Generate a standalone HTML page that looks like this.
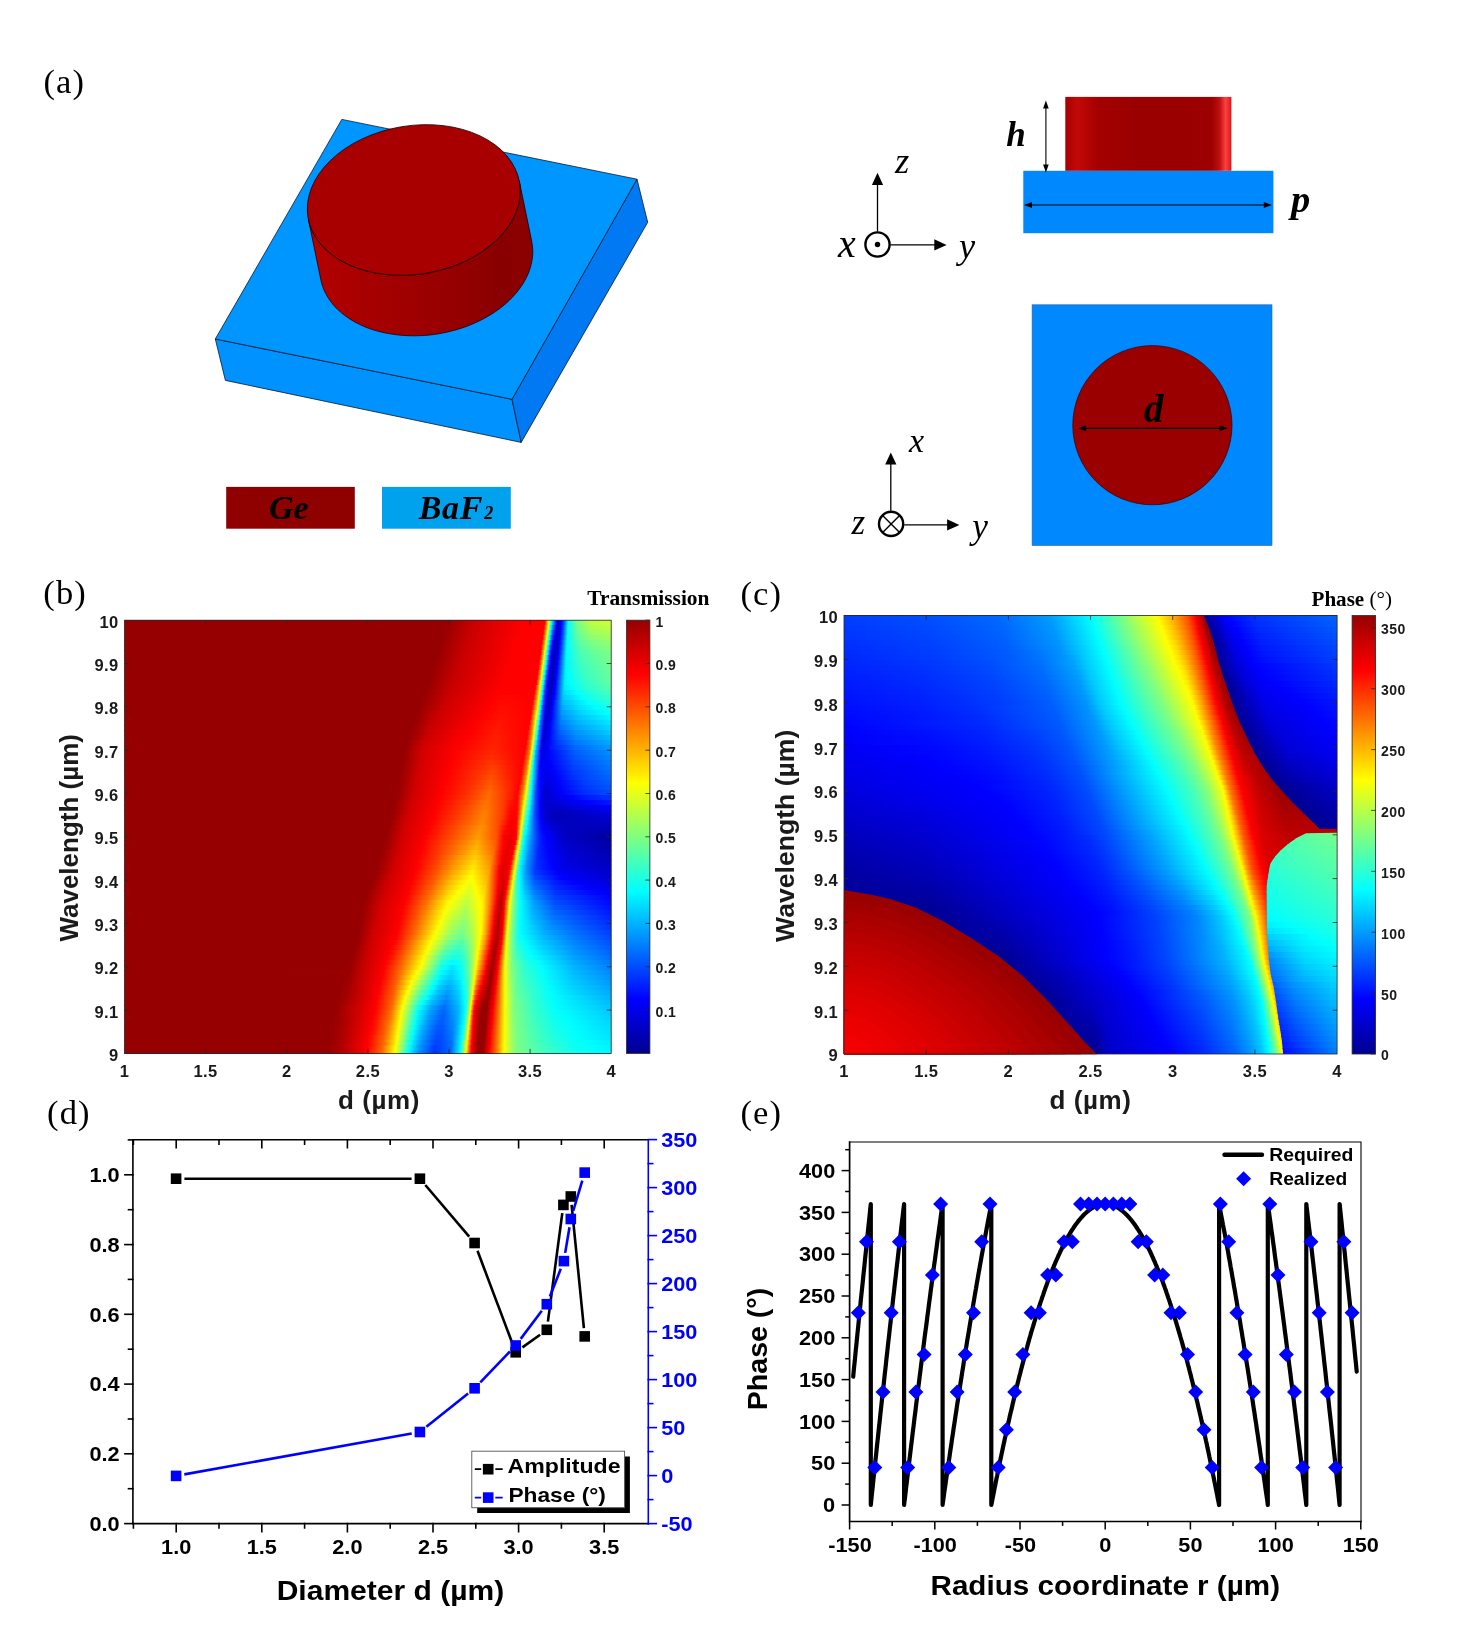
<!DOCTYPE html><html><head><meta charset="utf-8"><title>Figure</title><style>html,body{margin:0;padding:0;background:#fff}svg{display:block;will-change:transform}</style></head><body><svg width="1472" height="1647" viewBox="0 0 1472 1647"><rect width="1472" height="1647" fill="#fff"/><defs><linearGradient id="cylside" gradientUnits="userSpaceOnUse" x1="306" x2="534" y1="0" y2="0"><stop offset="0" stop-color="#b40000"/><stop offset="0.25" stop-color="#a80000"/><stop offset="0.6" stop-color="#980000"/><stop offset="0.85" stop-color="#890000"/><stop offset="1" stop-color="#8c0000"/></linearGradient><linearGradient id="sidered" gradientUnits="userSpaceOnUse" x1="1065.3" x2="1231.4" y1="0" y2="0"><stop offset="0" stop-color="#a40000"/><stop offset="0.07" stop-color="#c40808"/><stop offset="0.2" stop-color="#a40000"/><stop offset="0.45" stop-color="#9a0000"/><stop offset="0.88" stop-color="#9c0000"/><stop offset="0.93" stop-color="#c01010"/><stop offset="0.965" stop-color="#ff4040"/><stop offset="1" stop-color="#d81818"/></linearGradient></defs><polygon points="215.3,339 512,399.3 521.2,442.4 225.4,380.4" fill="#0093ff" stroke="#101828" stroke-width="0.8" stroke-linejoin="round"/><polygon points="512,399.3 637,179.2 647.7,222.3 521.2,442.4" fill="#0079f2" stroke="#101828" stroke-width="0.8" stroke-linejoin="round"/><polygon points="341.8,119.4 637,179.2 512,399.3 215.3,339" fill="#0096ff" stroke="#101828" stroke-width="0.8" stroke-linejoin="round"/><polygon points="519.2,180.6 531.7,241.1 532.4,245.7 532.8,250.4 532.7,255.1 532.1,259.8 531.2,264.5 529.8,269.2 528.1,273.9 525.9,278.5 523.4,283.1 520.4,287.6 517.1,291.9 513.4,296.2 509.4,300.3 505.1,304.2 500.4,308 495.5,311.6 490.3,314.9 484.8,318.1 479.1,321 473.2,323.7 467.1,326.2 460.8,328.4 454.4,330.3 447.9,331.9 441.3,333.3 434.7,334.4 428,335.2 421.3,335.6 414.7,335.8 408,335.7 401.5,335.3 395,334.6 388.7,333.6 382.5,332.4 376.5,330.8 370.7,329 365.1,326.9 359.8,324.5 354.7,321.9 349.9,319 345.4,315.9 341.2,312.6 337.3,309.1 333.8,305.4 330.7,301.5 327.9,297.4 325.6,293.2 323.6,288.9 322,284.5 320.9,279.9 308.4,219.4 308.4,219.4 309.5,224 311.1,228.4 313.1,232.7 315.4,236.9 318.2,241 321.3,244.9 324.8,248.6 328.7,252.1 332.9,255.4 337.4,258.5 342.2,261.4 347.3,264 352.6,266.4 358.2,268.5 364,270.3 370,271.9 376.2,273.1 382.5,274.1 389,274.8 395.5,275.2 402.2,275.3 408.8,275.1 415.5,274.7 422.2,273.9 428.8,272.8 435.4,271.4 441.9,269.8 448.3,267.9 454.6,265.7 460.7,263.2 466.6,260.5 472.3,257.6 477.8,254.4 483,251.1 487.9,247.5 492.6,243.7 496.9,239.8 500.9,235.7 504.6,231.4 507.9,227.1 510.9,222.6 513.4,218 515.6,213.4 517.3,208.7 518.7,204 519.6,199.3 520.2,194.6 520.3,189.9 519.9,185.2 519.2,180.6" fill="url(#cylside)" stroke="#200000" stroke-width="0.8" stroke-linejoin="round"/><ellipse cx="413.8" cy="200.0" rx="107.2" ry="74.3" transform="rotate(-9.3 413.8 200.0)" fill="#a80000" stroke="#200000" stroke-width="0.8"/><rect x="226.2" y="486.9" width="128.6" height="41.8" fill="#8f0000"/><rect x="382" y="486.9" width="128.8" height="41.8" fill="#00a2ee"/><text x="269" y="519.4" font-family="'Liberation Serif',serif" font-weight="bold" font-style="italic" font-size="34">Ge</text><text x="418.7" y="519.4" font-family="'Liberation Serif',serif" font-weight="bold" font-style="italic" font-size="34" letter-spacing="0.7">BaF<tspan font-size="18" dx="1.2">2</tspan></text><rect x="1023.3" y="170.8" width="250.1" height="62.4" fill="#0088ff"/><rect x="1065.3" y="96.9" width="166.1" height="73.9" fill="url(#sidered)"/><g fill="#000" stroke="none"><line x1="1045.9" y1="104" x2="1045.9" y2="169" stroke="#000" stroke-width="1.1"/><polygon points="1045.9,100.6 1048.7,108.6 1043.1,108.6"/><polygon points="1045.9,172.6 1043.1,164.6 1048.7,164.6"/><line x1="1028" y1="205" x2="1268" y2="205" stroke="#000" stroke-width="1.2"/><polygon points="1024,205 1032,202 1032,208"/><polygon points="1271.8,205 1263.8,208 1263.8,202"/></g><text x="1006.3" y="145.6" font-family="'Liberation Serif',serif" font-weight="bold" font-style="italic" font-size="35">h</text><text x="1290.9" y="212.4" font-family="'Liberation Serif',serif" font-weight="bold" font-style="italic" font-size="38.5">p</text><rect x="1032.1" y="304.8" width="239.9" height="240.7" fill="#0088ff" stroke="#3060a0" stroke-width="0.6"/><circle cx="1152.4" cy="425.2" r="79.6" fill="#9a0000" stroke="#300000" stroke-width="0.7"/><g fill="#000"><line x1="1082" y1="428.3" x2="1224" y2="428.3" stroke="#000" stroke-width="1.2"/><polygon points="1078,428.3 1086,425.3 1086,431.3"/><polygon points="1227.7,428.3 1219.7,431.3 1219.7,425.3"/></g><text x="1144" y="422.4" font-family="'Liberation Serif',serif" font-weight="bold" font-style="italic" font-size="39">d</text><g fill="#000" stroke="#000"><circle cx="877.5" cy="244.5" r="12.1" fill="none" stroke-width="2.4"/><circle cx="877.5" cy="244.5" r="2.7" stroke="none"/><line x1="877.5" y1="231.5" x2="877.5" y2="184" stroke-width="1.3"/><line x1="890.5" y1="244.9" x2="935" y2="244.9" stroke-width="1.3"/><g stroke="none"><polygon points="877.5,172.8 883.1,185 871.9,185"/><polygon points="946.6,244.9 934.3,250.6 934.3,239.2"/></g><circle cx="891.1" cy="523.9" r="12.1" fill="none" stroke-width="2.4"/><line x1="882.6" y1="515.4" x2="899.6" y2="532.4" stroke-width="1.4"/><line x1="882.6" y1="532.4" x2="899.6" y2="515.4" stroke-width="1.4"/><line x1="890.8" y1="510.8" x2="890.8" y2="464" stroke-width="1.3"/><line x1="904.2" y1="524.9" x2="948" y2="524.9" stroke-width="1.3"/><g stroke="none"><polygon points="890.8,452.4 896.4,464.6 885.2,464.6"/><polygon points="959.4,524.9 947.1,530.6 947.1,519.2"/></g></g><text x="895.1" y="172.8" font-family="'Liberation Serif',serif" font-style="italic" font-size="36.5">z</text><text x="838.1" y="256.8" font-family="'Liberation Serif',serif" font-style="italic" font-size="40">x</text><text x="959" y="258.2" font-family="'Liberation Serif',serif" font-style="italic" font-size="36.3">y</text><text x="909" y="451.5" font-family="'Liberation Serif',serif" font-style="italic" font-size="34">x</text><text x="851.4" y="533.7" font-family="'Liberation Serif',serif" font-style="italic" font-size="35">z</text><text x="972.3" y="537.7" font-family="'Liberation Serif',serif" font-style="italic" font-size="35.3">y</text><defs><linearGradient id="gb0" gradientUnits="userSpaceOnUse" x1="124.5" x2="611.2" y1="0" y2="0"><stop offset="0" stop-color="#960000"/><stop offset=".662" stop-color="#960000"/><stop offset=".717" stop-color="#c90000"/><stop offset=".779" stop-color="#ea0000"/><stop offset=".822" stop-color="#ff0000"/><stop offset=".863" stop-color="#ff0000"/><stop offset=".865" stop-color="#ff3300"/><stop offset=".871" stop-color="#ffef00"/><stop offset=".873" stop-color="#beff41"/><stop offset=".877" stop-color="#14ffeb"/><stop offset=".879" stop-color="#00d4ff"/><stop offset=".886" stop-color="#002cff"/><stop offset=".888" stop-color="#0000f7"/><stop offset=".89" stop-color="#0000c8"/><stop offset=".892" stop-color="#0000bf"/><stop offset=".896" stop-color="#0000ee"/><stop offset=".898" stop-color="#0007ff"/><stop offset=".902" stop-color="#003dff"/><stop offset=".904" stop-color="#005fff"/><stop offset=".91" stop-color="#00e3ff"/><stop offset=".912" stop-color="#07fff8"/><stop offset=".931" stop-color="#7aff85"/><stop offset=".96" stop-color="#beff41"/><stop offset="1" stop-color="#cbff34"/></linearGradient><linearGradient id="gb1" gradientUnits="userSpaceOnUse" x1="124.5" x2="611.2" y1="0" y2="0"><stop offset="0" stop-color="#960000"/><stop offset=".66" stop-color="#960000"/><stop offset=".713" stop-color="#c90000"/><stop offset=".777" stop-color="#eb0000"/><stop offset=".82" stop-color="#ff0000"/><stop offset=".861" stop-color="#ff0000"/><stop offset=".863" stop-color="#ff2100"/><stop offset=".869" stop-color="#ffdc00"/><stop offset=".871" stop-color="#d7ff28"/><stop offset=".875" stop-color="#2dffd2"/><stop offset=".877" stop-color="#00e3ff"/><stop offset=".881" stop-color="#006aff"/><stop offset=".886" stop-color="#0005ff"/><stop offset=".89" stop-color="#0000b4"/><stop offset=".896" stop-color="#0000f9"/><stop offset=".898" stop-color="#0014ff"/><stop offset=".902" stop-color="#004aff"/><stop offset=".91" stop-color="#00f1ff"/><stop offset=".912" stop-color="#0afff5"/><stop offset=".931" stop-color="#6fff90"/><stop offset=".96" stop-color="#aeff51"/><stop offset="1" stop-color="#bdff42"/></linearGradient><linearGradient id="gb2" gradientUnits="userSpaceOnUse" x1="124.5" x2="611.2" y1="0" y2="0"><stop offset="0" stop-color="#960000"/><stop offset=".655" stop-color="#960000"/><stop offset=".711" stop-color="#c90000"/><stop offset=".775" stop-color="#eb0000"/><stop offset=".818" stop-color="#ff0000"/><stop offset=".859" stop-color="#ff0000"/><stop offset=".861" stop-color="#ff0f00"/><stop offset=".867" stop-color="#ffca00"/><stop offset=".869" stop-color="#f0ff0f"/><stop offset=".873" stop-color="#46ffb9"/><stop offset=".875" stop-color="#00f3ff"/><stop offset=".879" stop-color="#0075ff"/><stop offset=".881" stop-color="#003dff"/><stop offset=".884" stop-color="#0010ff"/><stop offset=".886" stop-color="#0000e6"/><stop offset=".888" stop-color="#0000bf"/><stop offset=".89" stop-color="#0000bf"/><stop offset=".894" stop-color="#0000ed"/><stop offset=".896" stop-color="#0005ff"/><stop offset=".9" stop-color="#003aff"/><stop offset=".91" stop-color="#00f9ff"/><stop offset=".912" stop-color="#0bfff4"/><stop offset=".929" stop-color="#5dffa2"/><stop offset=".939" stop-color="#79ff86"/><stop offset=".96" stop-color="#9eff61"/><stop offset="1" stop-color="#afff50"/></linearGradient><linearGradient id="gb3" gradientUnits="userSpaceOnUse" x1="124.5" x2="611.2" y1="0" y2="0"><stop offset="0" stop-color="#960000"/><stop offset=".653" stop-color="#960000"/><stop offset=".705" stop-color="#c70000"/><stop offset=".773" stop-color="#ec0000"/><stop offset=".807" stop-color="#fd0000"/><stop offset=".859" stop-color="#ff0000"/><stop offset=".867" stop-color="#fff700"/><stop offset=".869" stop-color="#b4ff4b"/><stop offset=".873" stop-color="#0bfff4"/><stop offset=".875" stop-color="#00c4ff"/><stop offset=".879" stop-color="#0040ff"/><stop offset=".881" stop-color="#0017ff"/><stop offset=".884" stop-color="#0000f0"/><stop offset=".886" stop-color="#0000cd"/><stop offset=".888" stop-color="#0000b4"/><stop offset=".894" stop-color="#0000f8"/><stop offset=".896" stop-color="#0011ff"/><stop offset=".9" stop-color="#0049ff"/><stop offset=".908" stop-color="#00e2ff"/><stop offset=".91" stop-color="#00ffff"/><stop offset=".929" stop-color="#53ffac"/><stop offset=".939" stop-color="#6dff92"/><stop offset=".96" stop-color="#8dff72"/><stop offset="1" stop-color="#a2ff5d"/></linearGradient><linearGradient id="gb4" gradientUnits="userSpaceOnUse" x1="124.5" x2="611.2" y1="0" y2="0"><stop offset="0" stop-color="#960000"/><stop offset=".649" stop-color="#960000"/><stop offset=".703" stop-color="#c80000"/><stop offset=".77" stop-color="#ed0000"/><stop offset=".805" stop-color="#fe0000"/><stop offset=".857" stop-color="#ff0000"/><stop offset=".859" stop-color="#ff2800"/><stop offset=".865" stop-color="#ffe400"/><stop offset=".867" stop-color="#cdff32"/><stop offset=".871" stop-color="#23ffdc"/><stop offset=".873" stop-color="#00d6ff"/><stop offset=".877" stop-color="#004cff"/><stop offset=".879" stop-color="#001bff"/><stop offset=".881" stop-color="#0000f7"/><stop offset=".886" stop-color="#0000b8"/><stop offset=".888" stop-color="#0000bf"/><stop offset=".892" stop-color="#0000ec"/><stop offset=".894" stop-color="#0004ff"/><stop offset=".898" stop-color="#0038ff"/><stop offset=".908" stop-color="#00ecff"/><stop offset=".91" stop-color="#03fffc"/><stop offset=".927" stop-color="#41ffbe"/><stop offset=".937" stop-color="#5fffa0"/><stop offset=".96" stop-color="#7cff83"/><stop offset="1" stop-color="#94ff6b"/></linearGradient><linearGradient id="gb5" gradientUnits="userSpaceOnUse" x1="124.5" x2="611.2" y1="0" y2="0"><stop offset="0" stop-color="#960000"/><stop offset=".647" stop-color="#960000"/><stop offset=".699" stop-color="#c80000"/><stop offset=".762" stop-color="#ea0000"/><stop offset=".803" stop-color="#ff0000"/><stop offset=".855" stop-color="#ff0000"/><stop offset=".857" stop-color="#ff1600"/><stop offset=".863" stop-color="#ffd100"/><stop offset=".865" stop-color="#e7ff18"/><stop offset=".869" stop-color="#3dffc2"/><stop offset=".871" stop-color="#00ebff"/><stop offset=".875" stop-color="#005bff"/><stop offset=".877" stop-color="#001bff"/><stop offset=".879" stop-color="#0000fb"/><stop offset=".884" stop-color="#0000c4"/><stop offset=".886" stop-color="#0000b4"/><stop offset=".892" stop-color="#0000f6"/><stop offset=".894" stop-color="#000fff"/><stop offset=".896" stop-color="#0028ff"/><stop offset=".908" stop-color="#00f4ff"/><stop offset=".91" stop-color="#02fffd"/><stop offset=".937" stop-color="#53ffac"/><stop offset=".966" stop-color="#72ff8d"/><stop offset="1" stop-color="#86ff79"/></linearGradient><linearGradient id="gb6" gradientUnits="userSpaceOnUse" x1="124.5" x2="611.2" y1="0" y2="0"><stop offset="0" stop-color="#960000"/><stop offset=".643" stop-color="#960000"/><stop offset=".697" stop-color="#c90000"/><stop offset=".76" stop-color="#eb0000"/><stop offset=".801" stop-color="#ff0000"/><stop offset=".853" stop-color="#ff0000"/><stop offset=".855" stop-color="#ff0300"/><stop offset=".863" stop-color="#fffe00"/><stop offset=".865" stop-color="#abff54"/><stop offset=".869" stop-color="#02fffd"/><stop offset=".875" stop-color="#0027ff"/><stop offset=".877" stop-color="#0001ff"/><stop offset=".884" stop-color="#0000b4"/><stop offset=".886" stop-color="#0000bf"/><stop offset=".89" stop-color="#0000eb"/><stop offset=".892" stop-color="#0002ff"/><stop offset=".894" stop-color="#001bff"/><stop offset=".896" stop-color="#0036ff"/><stop offset=".906" stop-color="#00ddff"/><stop offset=".908" stop-color="#00f9ff"/><stop offset=".91" stop-color="#01fffe"/><stop offset=".937" stop-color="#4affb5"/><stop offset=".966" stop-color="#67ff98"/><stop offset="1" stop-color="#7dff82"/></linearGradient><linearGradient id="gb7" gradientUnits="userSpaceOnUse" x1="124.5" x2="611.2" y1="0" y2="0"><stop offset="0" stop-color="#960000"/><stop offset=".641" stop-color="#960000"/><stop offset=".694" stop-color="#ca0000"/><stop offset=".789" stop-color="#fb0000"/><stop offset=".853" stop-color="#ff0000"/><stop offset=".855" stop-color="#ff2e00"/><stop offset=".861" stop-color="#ffe900"/><stop offset=".863" stop-color="#c6ff39"/><stop offset=".867" stop-color="#1cffe3"/><stop offset=".869" stop-color="#00cfff"/><stop offset=".873" stop-color="#003dff"/><stop offset=".875" stop-color="#000bff"/><stop offset=".877" stop-color="#0000f0"/><stop offset=".881" stop-color="#0000bf"/><stop offset=".884" stop-color="#0000b4"/><stop offset=".89" stop-color="#0000f5"/><stop offset=".892" stop-color="#000eff"/><stop offset=".894" stop-color="#0027ff"/><stop offset=".906" stop-color="#00e7ff"/><stop offset=".908" stop-color="#00f9ff"/><stop offset=".91" stop-color="#01fffe"/><stop offset=".935" stop-color="#41ffbe"/><stop offset=".966" stop-color="#61ff9e"/><stop offset="1" stop-color="#79ff86"/></linearGradient><linearGradient id="gb8" gradientUnits="userSpaceOnUse" x1="124.5" x2="611.2" y1="0" y2="0"><stop offset="0" stop-color="#960000"/><stop offset=".637" stop-color="#960000"/><stop offset=".69" stop-color="#c90000"/><stop offset=".787" stop-color="#fc0000"/><stop offset=".851" stop-color="#ff0000"/><stop offset=".853" stop-color="#ff1a00"/><stop offset=".859" stop-color="#ffd500"/><stop offset=".861" stop-color="#e1ff1e"/><stop offset=".865" stop-color="#37ffc8"/><stop offset=".867" stop-color="#00e6ff"/><stop offset=".871" stop-color="#0053ff"/><stop offset=".873" stop-color="#0015ff"/><stop offset=".875" stop-color="#0000f9"/><stop offset=".881" stop-color="#0000b1"/><stop offset=".884" stop-color="#0000be"/><stop offset=".888" stop-color="#0000ea"/><stop offset=".89" stop-color="#0001ff"/><stop offset=".892" stop-color="#0019ff"/><stop offset=".906" stop-color="#00eeff"/><stop offset=".908" stop-color="#00faff"/><stop offset=".935" stop-color="#3bffc4"/><stop offset=".966" stop-color="#5bffa4"/><stop offset="1" stop-color="#75ff8a"/></linearGradient><linearGradient id="gb9" gradientUnits="userSpaceOnUse" x1="124.5" x2="611.2" y1="0" y2="0"><stop offset="0" stop-color="#960000"/><stop offset=".635" stop-color="#970000"/><stop offset=".688" stop-color="#ca0000"/><stop offset=".785" stop-color="#fc0000"/><stop offset=".849" stop-color="#ff0000"/><stop offset=".851" stop-color="#ff0600"/><stop offset=".859" stop-color="#fbff04"/><stop offset=".865" stop-color="#00feff"/><stop offset=".871" stop-color="#0027ff"/><stop offset=".873" stop-color="#0002ff"/><stop offset=".879" stop-color="#0000bb"/><stop offset=".881" stop-color="#0000b4"/><stop offset=".888" stop-color="#0000f4"/><stop offset=".89" stop-color="#000cff"/><stop offset=".892" stop-color="#0025ff"/><stop offset=".904" stop-color="#00d9ff"/><stop offset=".906" stop-color="#00f0ff"/><stop offset=".908" stop-color="#00faff"/><stop offset=".933" stop-color="#31ffce"/><stop offset=".947" stop-color="#43ffbc"/><stop offset="1" stop-color="#70ff8f"/></linearGradient><linearGradient id="gb10" gradientUnits="userSpaceOnUse" x1="124.5" x2="611.2" y1="0" y2="0"><stop offset="0" stop-color="#960000"/><stop offset=".631" stop-color="#960000"/><stop offset=".684" stop-color="#c90000"/><stop offset=".783" stop-color="#fd0000"/><stop offset=".849" stop-color="#ff0000"/><stop offset=".851" stop-color="#ff3100"/><stop offset=".857" stop-color="#ffed00"/><stop offset=".859" stop-color="#c1ff3e"/><stop offset=".863" stop-color="#17ffe8"/><stop offset=".865" stop-color="#00caff"/><stop offset=".869" stop-color="#0038ff"/><stop offset=".871" stop-color="#000bff"/><stop offset=".873" stop-color="#0000f2"/><stop offset=".879" stop-color="#0000ae"/><stop offset=".888" stop-color="#0000fe"/><stop offset=".892" stop-color="#0032ff"/><stop offset=".904" stop-color="#00e0ff"/><stop offset=".906" stop-color="#00f4ff"/><stop offset=".908" stop-color="#00f9ff"/><stop offset=".912" stop-color="#02fffd"/><stop offset=".933" stop-color="#2bffd4"/><stop offset=".947" stop-color="#3dffc2"/><stop offset="1" stop-color="#6cff93"/></linearGradient><linearGradient id="gb11" gradientUnits="userSpaceOnUse" x1="124.5" x2="611.2" y1="0" y2="0"><stop offset="0" stop-color="#960000"/><stop offset=".627" stop-color="#960000"/><stop offset=".678" stop-color="#c80000"/><stop offset=".781" stop-color="#fe0000"/><stop offset=".847" stop-color="#ff0000"/><stop offset=".849" stop-color="#ff1d00"/><stop offset=".855" stop-color="#ffd900"/><stop offset=".857" stop-color="#dcff23"/><stop offset=".861" stop-color="#32ffcd"/><stop offset=".863" stop-color="#00e2ff"/><stop offset=".867" stop-color="#004fff"/><stop offset=".869" stop-color="#0016ff"/><stop offset=".871" stop-color="#0000fa"/><stop offset=".877" stop-color="#0000b8"/><stop offset=".879" stop-color="#0000b3"/><stop offset=".886" stop-color="#0000f3"/><stop offset=".888" stop-color="#000bff"/><stop offset=".902" stop-color="#00cbff"/><stop offset=".904" stop-color="#00e5ff"/><stop offset=".906" stop-color="#00f4ff"/><stop offset=".912" stop-color="#00ffff"/><stop offset=".947" stop-color="#38ffc7"/><stop offset="1" stop-color="#67ff98"/></linearGradient><linearGradient id="gb12" gradientUnits="userSpaceOnUse" x1="124.5" x2="611.2" y1="0" y2="0"><stop offset="0" stop-color="#960000"/><stop offset=".625" stop-color="#960000"/><stop offset=".676" stop-color="#c90000"/><stop offset=".779" stop-color="#fe0000"/><stop offset=".844" stop-color="#ff0000"/><stop offset=".847" stop-color="#ff0a00"/><stop offset=".853" stop-color="#ffc500"/><stop offset=".855" stop-color="#f7ff08"/><stop offset=".859" stop-color="#4dffb2"/><stop offset=".861" stop-color="#00f9ff"/><stop offset=".867" stop-color="#001dff"/><stop offset=".869" stop-color="#0002ff"/><stop offset=".877" stop-color="#0000ac"/><stop offset=".886" stop-color="#0000fd"/><stop offset=".904" stop-color="#00ecff"/><stop offset=".906" stop-color="#00f3ff"/><stop offset=".914" stop-color="#01fffe"/><stop offset=".947" stop-color="#32ffcd"/><stop offset="1" stop-color="#63ff9c"/></linearGradient><linearGradient id="gb13" gradientUnits="userSpaceOnUse" x1="124.5" x2="611.2" y1="0" y2="0"><stop offset="0" stop-color="#960000"/><stop offset=".621" stop-color="#960000"/><stop offset=".672" stop-color="#c90000"/><stop offset=".775" stop-color="#ff0000"/><stop offset=".844" stop-color="#ff0000"/><stop offset=".853" stop-color="#ffef00"/><stop offset=".855" stop-color="#beff41"/><stop offset=".859" stop-color="#16ffe9"/><stop offset=".861" stop-color="#00c9ff"/><stop offset=".865" stop-color="#0036ff"/><stop offset=".867" stop-color="#000eff"/><stop offset=".869" stop-color="#0000f6"/><stop offset=".875" stop-color="#0000b5"/><stop offset=".877" stop-color="#0000b7"/><stop offset=".884" stop-color="#0000f4"/><stop offset=".886" stop-color="#000bff"/><stop offset=".902" stop-color="#00d5ff"/><stop offset=".904" stop-color="#00e9ff"/><stop offset=".92" stop-color="#02fffd"/><stop offset=".947" stop-color="#28ffd7"/><stop offset="1" stop-color="#59ffa6"/></linearGradient><linearGradient id="gb14" gradientUnits="userSpaceOnUse" x1="124.5" x2="611.2" y1="0" y2="0"><stop offset="0" stop-color="#960000"/><stop offset=".618" stop-color="#970000"/><stop offset=".67" stop-color="#cc0000"/><stop offset=".768" stop-color="#ff0000"/><stop offset=".842" stop-color="#ff0000"/><stop offset=".844" stop-color="#ff2c00"/><stop offset=".851" stop-color="#ffd900"/><stop offset=".853" stop-color="#dbff24"/><stop offset=".857" stop-color="#36ffc9"/><stop offset=".859" stop-color="#00e7ff"/><stop offset=".863" stop-color="#0052ff"/><stop offset=".865" stop-color="#001eff"/><stop offset=".867" stop-color="#0004ff"/><stop offset=".873" stop-color="#0000bf"/><stop offset=".875" stop-color="#0000b3"/><stop offset=".881" stop-color="#0000ed"/><stop offset=".884" stop-color="#0001ff"/><stop offset=".902" stop-color="#00d4ff"/><stop offset=".904" stop-color="#00dbff"/><stop offset=".929" stop-color="#00ffff"/><stop offset=".945" stop-color="#17ffe8"/><stop offset="1" stop-color="#49ffb6"/></linearGradient><linearGradient id="gb15" gradientUnits="userSpaceOnUse" x1="124.5" x2="611.2" y1="0" y2="0"><stop offset="0" stop-color="#960000"/><stop offset=".614" stop-color="#960000"/><stop offset=".666" stop-color="#cd0000"/><stop offset=".762" stop-color="#ff0000"/><stop offset=".781" stop-color="#ff0700"/><stop offset=".84" stop-color="#ff0000"/><stop offset=".842" stop-color="#ff2200"/><stop offset=".849" stop-color="#ffc500"/><stop offset=".851" stop-color="#f8ff07"/><stop offset=".857" stop-color="#06fff9"/><stop offset=".861" stop-color="#006eff"/><stop offset=".863" stop-color="#002eff"/><stop offset=".865" stop-color="#0014ff"/><stop offset=".867" stop-color="#0000f9"/><stop offset=".873" stop-color="#0000b5"/><stop offset=".881" stop-color="#0000f9"/><stop offset=".884" stop-color="#000dff"/><stop offset=".9" stop-color="#00bbff"/><stop offset=".902" stop-color="#00caff"/><stop offset=".939" stop-color="#01fffe"/><stop offset="1" stop-color="#3affc5"/></linearGradient><linearGradient id="gb16" gradientUnits="userSpaceOnUse" x1="124.5" x2="611.2" y1="0" y2="0"><stop offset="0" stop-color="#960000"/><stop offset=".61" stop-color="#960000"/><stop offset=".664" stop-color="#cf0000"/><stop offset=".754" stop-color="#fe0000"/><stop offset=".779" stop-color="#ff0a00"/><stop offset=".838" stop-color="#ff0000"/><stop offset=".84" stop-color="#ff1800"/><stop offset=".849" stop-color="#ffeb00"/><stop offset=".851" stop-color="#c4ff3b"/><stop offset=".855" stop-color="#25ffda"/><stop offset=".857" stop-color="#00d7ff"/><stop offset=".861" stop-color="#0045ff"/><stop offset=".865" stop-color="#0008ff"/><stop offset=".867" stop-color="#0000ed"/><stop offset=".871" stop-color="#0000bc"/><stop offset=".873" stop-color="#0000c0"/><stop offset=".879" stop-color="#0000f2"/><stop offset=".881" stop-color="#0005ff"/><stop offset=".9" stop-color="#00b7ff"/><stop offset=".902" stop-color="#00bdff"/><stop offset=".951" stop-color="#00ffff"/><stop offset="1" stop-color="#2affd5"/></linearGradient><linearGradient id="gb17" gradientUnits="userSpaceOnUse" x1="124.5" x2="611.2" y1="0" y2="0"><stop offset="0" stop-color="#960000"/><stop offset=".606" stop-color="#960000"/><stop offset=".66" stop-color="#d00000"/><stop offset=".748" stop-color="#ff0000"/><stop offset=".777" stop-color="#ff0c00"/><stop offset=".836" stop-color="#ff0000"/><stop offset=".838" stop-color="#ff0f00"/><stop offset=".847" stop-color="#ffd200"/><stop offset=".849" stop-color="#e1ff1e"/><stop offset=".853" stop-color="#44ffbb"/><stop offset=".855" stop-color="#00f5ff"/><stop offset=".859" stop-color="#005eff"/><stop offset=".861" stop-color="#0034ff"/><stop offset=".865" stop-color="#0000fa"/><stop offset=".869" stop-color="#0000c7"/><stop offset=".871" stop-color="#0000be"/><stop offset=".879" stop-color="#0000fc"/><stop offset=".9" stop-color="#00acff"/><stop offset=".933" stop-color="#00ddff"/><stop offset=".968" stop-color="#00feff"/><stop offset="1" stop-color="#1affe5"/></linearGradient><linearGradient id="gb18" gradientUnits="userSpaceOnUse" x1="124.5" x2="611.2" y1="0" y2="0"><stop offset="0" stop-color="#960000"/><stop offset=".604" stop-color="#970000"/><stop offset=".635" stop-color="#bf0000"/><stop offset=".657" stop-color="#d30000"/><stop offset=".742" stop-color="#ff0000"/><stop offset=".775" stop-color="#ff0f00"/><stop offset=".834" stop-color="#ff0000"/><stop offset=".836" stop-color="#ff0700"/><stop offset=".844" stop-color="#ffbd00"/><stop offset=".847" stop-color="#feff01"/><stop offset=".853" stop-color="#15ffea"/><stop offset=".855" stop-color="#00c5ff"/><stop offset=".857" stop-color="#0077ff"/><stop offset=".859" stop-color="#0046ff"/><stop offset=".863" stop-color="#0009ff"/><stop offset=".865" stop-color="#0000ed"/><stop offset=".869" stop-color="#0000bf"/><stop offset=".877" stop-color="#0000f7"/><stop offset=".879" stop-color="#0007ff"/><stop offset=".898" stop-color="#0099ff"/><stop offset=".9" stop-color="#009eff"/><stop offset=".943" stop-color="#00dbff"/><stop offset=".986" stop-color="#00feff"/><stop offset="1" stop-color="#0bfff4"/></linearGradient><linearGradient id="gb19" gradientUnits="userSpaceOnUse" x1="124.5" x2="611.2" y1="0" y2="0"><stop offset="0" stop-color="#960000"/><stop offset=".6" stop-color="#960000"/><stop offset=".633" stop-color="#c30000"/><stop offset=".653" stop-color="#d40000"/><stop offset=".734" stop-color="#fe0000"/><stop offset=".773" stop-color="#ff1200"/><stop offset=".834" stop-color="#ff0000"/><stop offset=".842" stop-color="#ffab00"/><stop offset=".844" stop-color="#ffe400"/><stop offset=".847" stop-color="#ceff31"/><stop offset=".851" stop-color="#34ffcb"/><stop offset=".853" stop-color="#00e3ff"/><stop offset=".855" stop-color="#0094ff"/><stop offset=".857" stop-color="#0057ff"/><stop offset=".863" stop-color="#0000fa"/><stop offset=".867" stop-color="#0000c5"/><stop offset=".869" stop-color="#0000ca"/><stop offset=".877" stop-color="#0000ff"/><stop offset=".898" stop-color="#008dff"/><stop offset=".931" stop-color="#00bfff"/><stop offset="1" stop-color="#00faff"/></linearGradient><linearGradient id="gb20" gradientUnits="userSpaceOnUse" x1="124.5" x2="611.2" y1="0" y2="0"><stop offset="0" stop-color="#960000"/><stop offset=".596" stop-color="#960000"/><stop offset=".631" stop-color="#c60000"/><stop offset=".717" stop-color="#fa0000"/><stop offset=".77" stop-color="#ff1400"/><stop offset=".832" stop-color="#ff0000"/><stop offset=".84" stop-color="#ff9a00"/><stop offset=".842" stop-color="#ffc900"/><stop offset=".844" stop-color="#eaff15"/><stop offset=".851" stop-color="#03fffc"/><stop offset=".855" stop-color="#006eff"/><stop offset=".861" stop-color="#0009ff"/><stop offset=".863" stop-color="#0000eb"/><stop offset=".865" stop-color="#0000ce"/><stop offset=".867" stop-color="#0000c9"/><stop offset=".875" stop-color="#0000fa"/><stop offset=".896" stop-color="#007cff"/><stop offset=".898" stop-color="#007fff"/><stop offset=".931" stop-color="#00b2ff"/><stop offset="1" stop-color="#00eaff"/></linearGradient><linearGradient id="gb21" gradientUnits="userSpaceOnUse" x1="124.5" x2="611.2" y1="0" y2="0"><stop offset="0" stop-color="#960000"/><stop offset=".592" stop-color="#960000"/><stop offset=".627" stop-color="#c80000"/><stop offset=".715" stop-color="#fd0000"/><stop offset=".766" stop-color="#ff1700"/><stop offset=".83" stop-color="#ff0000"/><stop offset=".832" stop-color="#ff1a00"/><stop offset=".84" stop-color="#ffb100"/><stop offset=".842" stop-color="#fff800"/><stop offset=".844" stop-color="#bdff42"/><stop offset=".849" stop-color="#22ffdd"/><stop offset=".851" stop-color="#00d0ff"/><stop offset=".853" stop-color="#0084ff"/><stop offset=".855" stop-color="#005bff"/><stop offset=".859" stop-color="#0019ff"/><stop offset=".861" stop-color="#0000f8"/><stop offset=".863" stop-color="#0000db"/><stop offset=".865" stop-color="#0000ca"/><stop offset=".875" stop-color="#0001ff"/><stop offset=".881" stop-color="#0028ff"/><stop offset=".896" stop-color="#006fff"/><stop offset=".927" stop-color="#009fff"/><stop offset="1" stop-color="#00dbff"/></linearGradient><linearGradient id="gb22" gradientUnits="userSpaceOnUse" x1="124.5" x2="611.2" y1="0" y2="0"><stop offset="0" stop-color="#960000"/><stop offset=".59" stop-color="#960000"/><stop offset=".623" stop-color="#c90000"/><stop offset=".684" stop-color="#f30000"/><stop offset=".713" stop-color="#ff0000"/><stop offset=".764" stop-color="#ff1a00"/><stop offset=".828" stop-color="#ff0000"/><stop offset=".83" stop-color="#ff1300"/><stop offset=".838" stop-color="#ff9d00"/><stop offset=".84" stop-color="#ffdc00"/><stop offset=".842" stop-color="#daff25"/><stop offset=".847" stop-color="#41ffbe"/><stop offset=".849" stop-color="#00eeff"/><stop offset=".851" stop-color="#009cff"/><stop offset=".853" stop-color="#006eff"/><stop offset=".859" stop-color="#0008ff"/><stop offset=".861" stop-color="#0000e8"/><stop offset=".863" stop-color="#0000cd"/><stop offset=".873" stop-color="#0000fb"/><stop offset=".894" stop-color="#005eff"/><stop offset=".927" stop-color="#0092ff"/><stop offset="1" stop-color="#00cbff"/></linearGradient><linearGradient id="gb23" gradientUnits="userSpaceOnUse" x1="124.5" x2="611.2" y1="0" y2="0"><stop offset="0" stop-color="#960000"/><stop offset=".586" stop-color="#960000"/><stop offset=".621" stop-color="#cc0000"/><stop offset=".682" stop-color="#f50000"/><stop offset=".705" stop-color="#ff0000"/><stop offset=".762" stop-color="#ff1d00"/><stop offset=".826" stop-color="#ff0100"/><stop offset=".828" stop-color="#ff0c00"/><stop offset=".836" stop-color="#ff8c00"/><stop offset=".838" stop-color="#ffc100"/><stop offset=".84" stop-color="#f6ff09"/><stop offset=".842" stop-color="#afff50"/><stop offset=".847" stop-color="#0efff1"/><stop offset=".849" stop-color="#00baff"/><stop offset=".851" stop-color="#0081ff"/><stop offset=".857" stop-color="#0018ff"/><stop offset=".859" stop-color="#0000f5"/><stop offset=".861" stop-color="#0000d6"/><stop offset=".863" stop-color="#0000d3"/><stop offset=".871" stop-color="#0000f7"/><stop offset=".873" stop-color="#0001ff"/><stop offset=".879" stop-color="#001fff"/><stop offset=".894" stop-color="#0050ff"/><stop offset=".927" stop-color="#0085ff"/><stop offset="1" stop-color="#00bbff"/></linearGradient><linearGradient id="gb24" gradientUnits="userSpaceOnUse" x1="124.5" x2="611.2" y1="0" y2="0"><stop offset="0" stop-color="#960000"/><stop offset=".581" stop-color="#960000"/><stop offset=".616" stop-color="#ce0000"/><stop offset=".678" stop-color="#f70000"/><stop offset=".697" stop-color="#ff0000"/><stop offset=".76" stop-color="#ff1f00"/><stop offset=".824" stop-color="#ff0100"/><stop offset=".826" stop-color="#ff0700"/><stop offset=".834" stop-color="#ff7c00"/><stop offset=".836" stop-color="#ffa600"/><stop offset=".838" stop-color="#ffec00"/><stop offset=".84" stop-color="#ccff33"/><stop offset=".844" stop-color="#2effd1"/><stop offset=".847" stop-color="#00d9ff"/><stop offset=".849" stop-color="#0096ff"/><stop offset=".851" stop-color="#0070ff"/><stop offset=".857" stop-color="#0004ff"/><stop offset=".859" stop-color="#0000e3"/><stop offset=".861" stop-color="#0000d4"/><stop offset=".873" stop-color="#0006ff"/><stop offset=".892" stop-color="#003fff"/><stop offset=".927" stop-color="#0077ff"/><stop offset="1" stop-color="#00abff"/></linearGradient><linearGradient id="gb25" gradientUnits="userSpaceOnUse" x1="124.5" x2="611.2" y1="0" y2="0"><stop offset="0" stop-color="#960000"/><stop offset=".579" stop-color="#970000"/><stop offset=".612" stop-color="#cf0000"/><stop offset=".676" stop-color="#fa0000"/><stop offset=".688" stop-color="#ff0000"/><stop offset=".758" stop-color="#ff2200"/><stop offset=".822" stop-color="#ff0100"/><stop offset=".824" stop-color="#ff0200"/><stop offset=".832" stop-color="#ff6d00"/><stop offset=".834" stop-color="#ff8c00"/><stop offset=".836" stop-color="#ffd100"/><stop offset=".838" stop-color="#e9ff16"/><stop offset=".84" stop-color="#a2ff5d"/><stop offset=".844" stop-color="#00f8ff"/><stop offset=".847" stop-color="#00a9ff"/><stop offset=".855" stop-color="#0015ff"/><stop offset=".857" stop-color="#0000f1"/><stop offset=".859" stop-color="#0000d6"/><stop offset=".871" stop-color="#0001ff"/><stop offset=".875" stop-color="#0011ff"/><stop offset=".89" stop-color="#002eff"/><stop offset=".925" stop-color="#0067ff"/><stop offset="1" stop-color="#009cff"/></linearGradient><linearGradient id="gb26" gradientUnits="userSpaceOnUse" x1="124.5" x2="611.2" y1="0" y2="0"><stop offset="0" stop-color="#960000"/><stop offset=".575" stop-color="#970000"/><stop offset=".61" stop-color="#d10000"/><stop offset=".674" stop-color="#fc0000"/><stop offset=".756" stop-color="#ff2700"/><stop offset=".822" stop-color="#ff0000"/><stop offset=".832" stop-color="#ff7e00"/><stop offset=".836" stop-color="#fffe00"/><stop offset=".838" stop-color="#bdff42"/><stop offset=".842" stop-color="#19ffe6"/><stop offset=".844" stop-color="#00c6ff"/><stop offset=".855" stop-color="#0003ff"/><stop offset=".857" stop-color="#0000e1"/><stop offset=".871" stop-color="#0001ff"/><stop offset=".925" stop-color="#005cff"/><stop offset="1" stop-color="#0090ff"/></linearGradient><linearGradient id="gb27" gradientUnits="userSpaceOnUse" x1="124.5" x2="611.2" y1="0" y2="0"><stop offset="0" stop-color="#960000"/><stop offset=".573" stop-color="#970000"/><stop offset=".608" stop-color="#d00000"/><stop offset=".676" stop-color="#ff0000"/><stop offset=".756" stop-color="#ff2e00"/><stop offset=".82" stop-color="#ff0000"/><stop offset=".83" stop-color="#ff7900"/><stop offset=".832" stop-color="#ffae00"/><stop offset=".834" stop-color="#ffed00"/><stop offset=".836" stop-color="#d2ff2d"/><stop offset=".84" stop-color="#39ffc6"/><stop offset=".842" stop-color="#00eaff"/><stop offset=".844" stop-color="#00b4ff"/><stop offset=".853" stop-color="#001bff"/><stop offset=".855" stop-color="#0000f5"/><stop offset=".857" stop-color="#0000e8"/><stop offset=".871" stop-color="#0000fd"/><stop offset=".925" stop-color="#0054ff"/><stop offset="1" stop-color="#0087ff"/></linearGradient><linearGradient id="gb28" gradientUnits="userSpaceOnUse" x1="124.5" x2="611.2" y1="0" y2="0"><stop offset="0" stop-color="#960000"/><stop offset=".571" stop-color="#970000"/><stop offset=".608" stop-color="#d20000"/><stop offset=".672" stop-color="#ff0000"/><stop offset=".754" stop-color="#ff3600"/><stop offset=".818" stop-color="#ff0100"/><stop offset=".82" stop-color="#ff1000"/><stop offset=".828" stop-color="#ff7500"/><stop offset=".83" stop-color="#ffa100"/><stop offset=".832" stop-color="#ffdd00"/><stop offset=".834" stop-color="#e6ff19"/><stop offset=".84" stop-color="#0cfff3"/><stop offset=".842" stop-color="#00ceff"/><stop offset=".853" stop-color="#000dff"/><stop offset=".855" stop-color="#0000f0"/><stop offset=".875" stop-color="#0001ff"/><stop offset=".923" stop-color="#0049ff"/><stop offset="1" stop-color="#007fff"/></linearGradient><linearGradient id="gb29" gradientUnits="userSpaceOnUse" x1="124.5" x2="611.2" y1="0" y2="0"><stop offset="0" stop-color="#960000"/><stop offset=".569" stop-color="#960000"/><stop offset=".606" stop-color="#d20000"/><stop offset=".668" stop-color="#fe0000"/><stop offset=".758" stop-color="#ff3f00"/><stop offset=".816" stop-color="#ff0100"/><stop offset=".818" stop-color="#ff0c00"/><stop offset=".826" stop-color="#ff7100"/><stop offset=".828" stop-color="#ff9600"/><stop offset=".83" stop-color="#ffce00"/><stop offset=".832" stop-color="#f8ff07"/><stop offset=".834" stop-color="#b9ff46"/><stop offset=".838" stop-color="#2cffd3"/><stop offset=".84" stop-color="#00e9ff"/><stop offset=".853" stop-color="#0000fd"/><stop offset=".869" stop-color="#0000f1"/><stop offset=".879" stop-color="#0001ff"/><stop offset=".923" stop-color="#0041ff"/><stop offset="1" stop-color="#0077ff"/></linearGradient><linearGradient id="gb30" gradientUnits="userSpaceOnUse" x1="124.5" x2="611.2" y1="0" y2="0"><stop offset="0" stop-color="#960000"/><stop offset=".567" stop-color="#960000"/><stop offset=".604" stop-color="#d20000"/><stop offset=".666" stop-color="#ff0000"/><stop offset=".756" stop-color="#ff4700"/><stop offset=".814" stop-color="#ff0200"/><stop offset=".816" stop-color="#ff0800"/><stop offset=".824" stop-color="#ff6d00"/><stop offset=".826" stop-color="#ff8c00"/><stop offset=".83" stop-color="#fff600"/><stop offset=".832" stop-color="#cfff30"/><stop offset=".838" stop-color="#09fff6"/><stop offset=".84" stop-color="#00dbff"/><stop offset=".851" stop-color="#0016ff"/><stop offset=".853" stop-color="#0004ff"/><stop offset=".855" stop-color="#0000ff"/><stop offset=".867" stop-color="#0000ea"/><stop offset=".884" stop-color="#0002ff"/><stop offset=".923" stop-color="#0038ff"/><stop offset="1" stop-color="#006fff"/></linearGradient><linearGradient id="gb31" gradientUnits="userSpaceOnUse" x1="124.5" x2="611.2" y1="0" y2="0"><stop offset="0" stop-color="#960000"/><stop offset=".565" stop-color="#960000"/><stop offset=".602" stop-color="#d20000"/><stop offset=".662" stop-color="#fe0000"/><stop offset=".709" stop-color="#ff2400"/><stop offset=".754" stop-color="#ff5000"/><stop offset=".812" stop-color="#ff0300"/><stop offset=".814" stop-color="#ff0400"/><stop offset=".824" stop-color="#ff8400"/><stop offset=".828" stop-color="#ffe700"/><stop offset=".83" stop-color="#e2ff1d"/><stop offset=".836" stop-color="#29ffd6"/><stop offset=".838" stop-color="#00f6ff"/><stop offset=".849" stop-color="#002dff"/><stop offset=".851" stop-color="#0011ff"/><stop offset=".857" stop-color="#0000fc"/><stop offset=".867" stop-color="#0000e4"/><stop offset=".888" stop-color="#0002ff"/><stop offset=".92" stop-color="#002eff"/><stop offset=".947" stop-color="#0046ff"/><stop offset="1" stop-color="#0066ff"/></linearGradient><linearGradient id="gb32" gradientUnits="userSpaceOnUse" x1="124.5" x2="611.2" y1="0" y2="0"><stop offset="0" stop-color="#960000"/><stop offset=".563" stop-color="#960000"/><stop offset=".569" stop-color="#9c0000"/><stop offset=".598" stop-color="#d00000"/><stop offset=".66" stop-color="#ff0000"/><stop offset=".707" stop-color="#ff2700"/><stop offset=".752" stop-color="#ff5800"/><stop offset=".791" stop-color="#ff2500"/><stop offset=".812" stop-color="#ff0000"/><stop offset=".822" stop-color="#ff7e00"/><stop offset=".826" stop-color="#ffd900"/><stop offset=".828" stop-color="#f5ff0a"/><stop offset=".834" stop-color="#45ffba"/><stop offset=".836" stop-color="#12ffed"/><stop offset=".838" stop-color="#00e6ff"/><stop offset=".849" stop-color="#001fff"/><stop offset=".857" stop-color="#0000fb"/><stop offset=".865" stop-color="#0000dc"/><stop offset=".892" stop-color="#0002ff"/><stop offset=".947" stop-color="#003fff"/><stop offset="1" stop-color="#005eff"/></linearGradient><linearGradient id="gb33" gradientUnits="userSpaceOnUse" x1="124.5" x2="611.2" y1="0" y2="0"><stop offset="0" stop-color="#960000"/><stop offset=".563" stop-color="#970000"/><stop offset=".596" stop-color="#d00000"/><stop offset=".655" stop-color="#fe0000"/><stop offset=".705" stop-color="#ff2a00"/><stop offset=".752" stop-color="#ff6000"/><stop offset=".789" stop-color="#ff2900"/><stop offset=".81" stop-color="#ff0100"/><stop offset=".82" stop-color="#ff7a00"/><stop offset=".826" stop-color="#fff900"/><stop offset=".828" stop-color="#cfff30"/><stop offset=".832" stop-color="#60ff9f"/><stop offset=".836" stop-color="#02fffd"/><stop offset=".847" stop-color="#0036ff"/><stop offset=".849" stop-color="#0023ff"/><stop offset=".855" stop-color="#0001ff"/><stop offset=".863" stop-color="#0000d9"/><stop offset=".865" stop-color="#0000d7"/><stop offset=".896" stop-color="#0002ff"/><stop offset=".947" stop-color="#0037ff"/><stop offset="1" stop-color="#0056ff"/></linearGradient><linearGradient id="gb34" gradientUnits="userSpaceOnUse" x1="124.5" x2="611.2" y1="0" y2="0"><stop offset="0" stop-color="#960000"/><stop offset=".561" stop-color="#960000"/><stop offset=".594" stop-color="#d00000"/><stop offset=".653" stop-color="#ff0000"/><stop offset=".703" stop-color="#ff2d00"/><stop offset=".75" stop-color="#ff6a00"/><stop offset=".787" stop-color="#ff2e00"/><stop offset=".807" stop-color="#ff0100"/><stop offset=".81" stop-color="#ff1200"/><stop offset=".818" stop-color="#ff7600"/><stop offset=".824" stop-color="#ffeb00"/><stop offset=".826" stop-color="#e2ff1d"/><stop offset=".83" stop-color="#79ff86"/><stop offset=".834" stop-color="#1effe1"/><stop offset=".836" stop-color="#00f1ff"/><stop offset=".844" stop-color="#004eff"/><stop offset=".847" stop-color="#0031ff"/><stop offset=".855" stop-color="#0000fb"/><stop offset=".863" stop-color="#0000cf"/><stop offset=".9" stop-color="#0000ff"/><stop offset=".947" stop-color="#002fff"/><stop offset="1" stop-color="#004dff"/></linearGradient><linearGradient id="gb35" gradientUnits="userSpaceOnUse" x1="124.5" x2="611.2" y1="0" y2="0"><stop offset="0" stop-color="#960000"/><stop offset=".557" stop-color="#960000"/><stop offset=".563" stop-color="#9c0000"/><stop offset=".592" stop-color="#d10000"/><stop offset=".649" stop-color="#ff0000"/><stop offset=".701" stop-color="#ff3200"/><stop offset=".748" stop-color="#ff6d00"/><stop offset=".779" stop-color="#ff3b00"/><stop offset=".807" stop-color="#ff0000"/><stop offset=".818" stop-color="#ff9100"/><stop offset=".822" stop-color="#ffe600"/><stop offset=".824" stop-color="#edff12"/><stop offset=".83" stop-color="#5bffa4"/><stop offset=".834" stop-color="#08fff7"/><stop offset=".836" stop-color="#00dfff"/><stop offset=".844" stop-color="#004aff"/><stop offset=".847" stop-color="#0033ff"/><stop offset=".853" stop-color="#0007ff"/><stop offset=".855" stop-color="#0000f9"/><stop offset=".863" stop-color="#0000d0"/><stop offset=".92" stop-color="#0000ff"/><stop offset=".947" stop-color="#0018ff"/><stop offset="1" stop-color="#0033ff"/></linearGradient><linearGradient id="gb36" gradientUnits="userSpaceOnUse" x1="124.5" x2="611.2" y1="0" y2="0"><stop offset="0" stop-color="#960000"/><stop offset=".555" stop-color="#960000"/><stop offset=".59" stop-color="#d20000"/><stop offset=".645" stop-color="#ff0000"/><stop offset=".701" stop-color="#ff3a00"/><stop offset=".742" stop-color="#ff7100"/><stop offset=".748" stop-color="#ff7000"/><stop offset=".777" stop-color="#ff3e00"/><stop offset=".795" stop-color="#ff0f00"/><stop offset=".807" stop-color="#ff0100"/><stop offset=".816" stop-color="#ff8700"/><stop offset=".82" stop-color="#ffdc00"/><stop offset=".822" stop-color="#f2ff0d"/><stop offset=".83" stop-color="#3effc1"/><stop offset=".832" stop-color="#18ffe7"/><stop offset=".834" stop-color="#00f2ff"/><stop offset=".844" stop-color="#0048ff"/><stop offset=".853" stop-color="#0006ff"/><stop offset=".855" stop-color="#0000f8"/><stop offset=".861" stop-color="#0000d9"/><stop offset=".867" stop-color="#0000ce"/><stop offset=".949" stop-color="#0000ff"/><stop offset="1" stop-color="#0018ff"/></linearGradient><linearGradient id="gb37" gradientUnits="userSpaceOnUse" x1="124.5" x2="611.2" y1="0" y2="0"><stop offset="0" stop-color="#960000"/><stop offset=".553" stop-color="#960000"/><stop offset=".586" stop-color="#d00000"/><stop offset=".641" stop-color="#ff0000"/><stop offset=".69" stop-color="#ff3500"/><stop offset=".74" stop-color="#ff7800"/><stop offset=".748" stop-color="#ff7100"/><stop offset=".777" stop-color="#ff3e00"/><stop offset=".793" stop-color="#ff0c00"/><stop offset=".805" stop-color="#ff0100"/><stop offset=".807" stop-color="#ff0500"/><stop offset=".816" stop-color="#ff9e00"/><stop offset=".82" stop-color="#ffff00"/><stop offset=".822" stop-color="#ccff33"/><stop offset=".828" stop-color="#48ffb7"/><stop offset=".832" stop-color="#00ffff"/><stop offset=".84" stop-color="#007dff"/><stop offset=".844" stop-color="#0047ff"/><stop offset=".853" stop-color="#0005ff"/><stop offset=".855" stop-color="#0000f7"/><stop offset=".863" stop-color="#0000d4"/><stop offset=".869" stop-color="#0000ca"/><stop offset=".896" stop-color="#0000cc"/><stop offset="1" stop-color="#0000fb"/></linearGradient><linearGradient id="gb38" gradientUnits="userSpaceOnUse" x1="124.5" x2="611.2" y1="0" y2="0"><stop offset="0" stop-color="#960000"/><stop offset=".551" stop-color="#970000"/><stop offset=".584" stop-color="#d10000"/><stop offset=".637" stop-color="#fe0000"/><stop offset=".688" stop-color="#ff3a00"/><stop offset=".74" stop-color="#ff8000"/><stop offset=".777" stop-color="#ff3d00"/><stop offset=".793" stop-color="#ff0400"/><stop offset=".805" stop-color="#ff0000"/><stop offset=".807" stop-color="#ff0a00"/><stop offset=".816" stop-color="#ffb700"/><stop offset=".818" stop-color="#ffec00"/><stop offset=".82" stop-color="#dbff24"/><stop offset=".822" stop-color="#a4ff5b"/><stop offset=".828" stop-color="#28ffd7"/><stop offset=".83" stop-color="#05fffa"/><stop offset=".832" stop-color="#00e7ff"/><stop offset=".842" stop-color="#005bff"/><stop offset=".853" stop-color="#0004ff"/><stop offset=".855" stop-color="#0000f7"/><stop offset=".867" stop-color="#0000c7"/><stop offset=".894" stop-color="#0000bb"/><stop offset="1" stop-color="#0000e3"/></linearGradient><linearGradient id="gb39" gradientUnits="userSpaceOnUse" x1="124.5" x2="611.2" y1="0" y2="0"><stop offset="0" stop-color="#960000"/><stop offset=".549" stop-color="#970000"/><stop offset=".579" stop-color="#d00000"/><stop offset=".633" stop-color="#fe0000"/><stop offset=".686" stop-color="#ff3f00"/><stop offset=".738" stop-color="#ff8500"/><stop offset=".775" stop-color="#ff3d00"/><stop offset=".793" stop-color="#fd0000"/><stop offset=".805" stop-color="#ff0000"/><stop offset=".807" stop-color="#ff1100"/><stop offset=".816" stop-color="#ffd600"/><stop offset=".818" stop-color="#efff10"/><stop offset=".822" stop-color="#7dff82"/><stop offset=".824" stop-color="#56ffa9"/><stop offset=".828" stop-color="#0efff1"/><stop offset=".83" stop-color="#00efff"/><stop offset=".842" stop-color="#0059ff"/><stop offset=".853" stop-color="#0006ff"/><stop offset=".855" stop-color="#0000fa"/><stop offset=".867" stop-color="#0000cb"/><stop offset=".894" stop-color="#0000b7"/><stop offset="1" stop-color="#0000d0"/></linearGradient><linearGradient id="gb40" gradientUnits="userSpaceOnUse" x1="124.5" x2="611.2" y1="0" y2="0"><stop offset="0" stop-color="#960000"/><stop offset=".544" stop-color="#960000"/><stop offset=".577" stop-color="#d10000"/><stop offset=".629" stop-color="#fe0000"/><stop offset=".736" stop-color="#ff8800"/><stop offset=".768" stop-color="#ff4a00"/><stop offset=".789" stop-color="#ff0400"/><stop offset=".795" stop-color="#f80000"/><stop offset=".805" stop-color="#fe0000"/><stop offset=".807" stop-color="#ff1b00"/><stop offset=".816" stop-color="#fffc00"/><stop offset=".818" stop-color="#c8ff37"/><stop offset=".822" stop-color="#59ffa6"/><stop offset=".828" stop-color="#00faff"/><stop offset=".84" stop-color="#006cff"/><stop offset=".855" stop-color="#0001ff"/><stop offset=".867" stop-color="#0000d9"/><stop offset=".896" stop-color="#0000be"/><stop offset="1" stop-color="#0000c4"/></linearGradient><linearGradient id="gb41" gradientUnits="userSpaceOnUse" x1="124.5" x2="611.2" y1="0" y2="0"><stop offset="0" stop-color="#960000"/><stop offset=".542" stop-color="#960000"/><stop offset=".575" stop-color="#d20000"/><stop offset=".625" stop-color="#fe0000"/><stop offset=".731" stop-color="#ff8f00"/><stop offset=".738" stop-color="#ff8900"/><stop offset=".766" stop-color="#ff4e00"/><stop offset=".779" stop-color="#ff1700"/><stop offset=".787" stop-color="#ff0200"/><stop offset=".795" stop-color="#f40000"/><stop offset=".805" stop-color="#fe0000"/><stop offset=".807" stop-color="#ff2700"/><stop offset=".814" stop-color="#ffe800"/><stop offset=".816" stop-color="#ddff22"/><stop offset=".82" stop-color="#65ff9a"/><stop offset=".822" stop-color="#36ffc9"/><stop offset=".826" stop-color="#03fffc"/><stop offset=".828" stop-color="#00e8ff"/><stop offset=".84" stop-color="#006cff"/><stop offset=".853" stop-color="#0013ff"/><stop offset=".857" stop-color="#0002ff"/><stop offset=".867" stop-color="#0000e7"/><stop offset=".904" stop-color="#0000bf"/><stop offset="1" stop-color="#0000b8"/></linearGradient><linearGradient id="gb42" gradientUnits="userSpaceOnUse" x1="124.5" x2="611.2" y1="0" y2="0"><stop offset="0" stop-color="#960000"/><stop offset=".54" stop-color="#970000"/><stop offset=".571" stop-color="#d00000"/><stop offset=".623" stop-color="#ff0000"/><stop offset=".729" stop-color="#ff9700"/><stop offset=".766" stop-color="#ff4d00"/><stop offset=".779" stop-color="#ff0b00"/><stop offset=".781" stop-color="#ff0600"/><stop offset=".795" stop-color="#ef0000"/><stop offset=".805" stop-color="#fe0000"/><stop offset=".807" stop-color="#ff3500"/><stop offset=".812" stop-color="#ffcb00"/><stop offset=".814" stop-color="#f3ff0c"/><stop offset=".82" stop-color="#3cffc3"/><stop offset=".822" stop-color="#16ffe9"/><stop offset=".824" stop-color="#01fffe"/><stop offset=".84" stop-color="#006cff"/><stop offset=".853" stop-color="#001aff"/><stop offset=".861" stop-color="#0002ff"/><stop offset=".904" stop-color="#0000c2"/><stop offset="1" stop-color="#0000ac"/></linearGradient><linearGradient id="gb43" gradientUnits="userSpaceOnUse" x1="124.5" x2="611.2" y1="0" y2="0"><stop offset="0" stop-color="#960000"/><stop offset=".538" stop-color="#960000"/><stop offset=".569" stop-color="#d10000"/><stop offset=".618" stop-color="#fe0000"/><stop offset=".727" stop-color="#ff9e00"/><stop offset=".764" stop-color="#ff5100"/><stop offset=".779" stop-color="#ff0000"/><stop offset=".795" stop-color="#ea0000"/><stop offset=".805" stop-color="#ff0000"/><stop offset=".807" stop-color="#ff4b00"/><stop offset=".812" stop-color="#fff100"/><stop offset=".814" stop-color="#cdff32"/><stop offset=".82" stop-color="#13ffec"/><stop offset=".822" stop-color="#00f8ff"/><stop offset=".836" stop-color="#0086ff"/><stop offset=".853" stop-color="#001fff"/><stop offset=".867" stop-color="#0001ff"/><stop offset=".904" stop-color="#0000c5"/><stop offset="1" stop-color="#0000a1"/></linearGradient><linearGradient id="gb44" gradientUnits="userSpaceOnUse" x1="124.5" x2="611.2" y1="0" y2="0"><stop offset="0" stop-color="#960000"/><stop offset=".536" stop-color="#970000"/><stop offset=".567" stop-color="#d20000"/><stop offset=".614" stop-color="#fe0000"/><stop offset=".725" stop-color="#ffaa00"/><stop offset=".762" stop-color="#ff5c00"/><stop offset=".775" stop-color="#ff1100"/><stop offset=".779" stop-color="#ff0100"/><stop offset=".793" stop-color="#e90000"/><stop offset=".803" stop-color="#ff0000"/><stop offset=".81" stop-color="#ffe800"/><stop offset=".812" stop-color="#daff25"/><stop offset=".818" stop-color="#21ffde"/><stop offset=".82" stop-color="#02fffd"/><stop offset=".822" stop-color="#00ebff"/><stop offset=".834" stop-color="#008aff"/><stop offset=".851" stop-color="#0027ff"/><stop offset=".855" stop-color="#0019ff"/><stop offset=".869" stop-color="#0000ff"/><stop offset=".904" stop-color="#0000cb"/><stop offset="1" stop-color="#0000a7"/></linearGradient><linearGradient id="gb45" gradientUnits="userSpaceOnUse" x1="124.5" x2="611.2" y1="0" y2="0"><stop offset="0" stop-color="#960000"/><stop offset=".53" stop-color="#970000"/><stop offset=".534" stop-color="#980000"/><stop offset=".565" stop-color="#d20000"/><stop offset=".612" stop-color="#ff0000"/><stop offset=".723" stop-color="#ffb600"/><stop offset=".76" stop-color="#ff6600"/><stop offset=".773" stop-color="#ff1600"/><stop offset=".777" stop-color="#ff0400"/><stop offset=".787" stop-color="#e80000"/><stop offset=".791" stop-color="#e90000"/><stop offset=".799" stop-color="#fb0000"/><stop offset=".801" stop-color="#ff0700"/><stop offset=".807" stop-color="#ffde00"/><stop offset=".81" stop-color="#e6ff19"/><stop offset=".816" stop-color="#2fffd0"/><stop offset=".818" stop-color="#0afff5"/><stop offset=".82" stop-color="#00efff"/><stop offset=".834" stop-color="#0080ff"/><stop offset=".851" stop-color="#0023ff"/><stop offset=".869" stop-color="#0003ff"/><stop offset=".902" stop-color="#0000d3"/><stop offset="1" stop-color="#0000ac"/></linearGradient><linearGradient id="gb46" gradientUnits="userSpaceOnUse" x1="124.5" x2="611.2" y1="0" y2="0"><stop offset="0" stop-color="#960000"/><stop offset=".528" stop-color="#970000"/><stop offset=".561" stop-color="#d00000"/><stop offset=".608" stop-color="#fe0000"/><stop offset=".649" stop-color="#ff4000"/><stop offset=".721" stop-color="#ffc200"/><stop offset=".758" stop-color="#ff7000"/><stop offset=".77" stop-color="#ff1c00"/><stop offset=".777" stop-color="#fe0000"/><stop offset=".785" stop-color="#e50000"/><stop offset=".797" stop-color="#fb0000"/><stop offset=".799" stop-color="#ff0c00"/><stop offset=".805" stop-color="#ffd300"/><stop offset=".807" stop-color="#f3ff0c"/><stop offset=".814" stop-color="#3dffc2"/><stop offset=".816" stop-color="#13ffec"/><stop offset=".818" stop-color="#00f2ff"/><stop offset=".832" stop-color="#0084ff"/><stop offset=".849" stop-color="#0029ff"/><stop offset=".871" stop-color="#0002ff"/><stop offset=".908" stop-color="#0000d4"/><stop offset="1" stop-color="#0000b2"/></linearGradient><linearGradient id="gb47" gradientUnits="userSpaceOnUse" x1="124.5" x2="611.2" y1="0" y2="0"><stop offset="0" stop-color="#960000"/><stop offset=".524" stop-color="#960000"/><stop offset=".53" stop-color="#9b0000"/><stop offset=".559" stop-color="#d10000"/><stop offset=".606" stop-color="#ff0000"/><stop offset=".645" stop-color="#ff4100"/><stop offset=".68" stop-color="#ff8900"/><stop offset=".721" stop-color="#ffcf00"/><stop offset=".754" stop-color="#ff8300"/><stop offset=".756" stop-color="#ff7a00"/><stop offset=".768" stop-color="#ff2100"/><stop offset=".775" stop-color="#ff0000"/><stop offset=".783" stop-color="#e20000"/><stop offset=".795" stop-color="#fb0000"/><stop offset=".797" stop-color="#ff1100"/><stop offset=".803" stop-color="#ffc800"/><stop offset=".805" stop-color="#fffe00"/><stop offset=".807" stop-color="#c8ff37"/><stop offset=".812" stop-color="#4bffb4"/><stop offset=".814" stop-color="#1bffe4"/><stop offset=".816" stop-color="#00f6ff"/><stop offset=".83" stop-color="#0088ff"/><stop offset=".847" stop-color="#0030ff"/><stop offset=".851" stop-color="#0023ff"/><stop offset=".873" stop-color="#0003ff"/><stop offset=".906" stop-color="#0000db"/><stop offset="1" stop-color="#0000b7"/></linearGradient><linearGradient id="gb48" gradientUnits="userSpaceOnUse" x1="124.5" x2="611.2" y1="0" y2="0"><stop offset="0" stop-color="#960000"/><stop offset=".522" stop-color="#960000"/><stop offset=".557" stop-color="#d20000"/><stop offset=".602" stop-color="#fe0000"/><stop offset=".643" stop-color="#ff4500"/><stop offset=".678" stop-color="#ff9200"/><stop offset=".719" stop-color="#ffdc00"/><stop offset=".752" stop-color="#ff8e00"/><stop offset=".773" stop-color="#ff0100"/><stop offset=".781" stop-color="#e00000"/><stop offset=".793" stop-color="#fc0000"/><stop offset=".795" stop-color="#ff1400"/><stop offset=".803" stop-color="#fff100"/><stop offset=".805" stop-color="#d6ff29"/><stop offset=".81" stop-color="#5affa5"/><stop offset=".812" stop-color="#24ffdb"/><stop offset=".814" stop-color="#00faff"/><stop offset=".828" stop-color="#008cff"/><stop offset=".847" stop-color="#002eff"/><stop offset=".877" stop-color="#0001ff"/><stop offset=".906" stop-color="#0000e0"/><stop offset="1" stop-color="#0000bc"/></linearGradient><linearGradient id="gb49" gradientUnits="userSpaceOnUse" x1="124.5" x2="611.2" y1="0" y2="0"><stop offset="0" stop-color="#960000"/><stop offset=".52" stop-color="#960000"/><stop offset=".555" stop-color="#d20000"/><stop offset=".6" stop-color="#ff0000"/><stop offset=".641" stop-color="#ff4a00"/><stop offset=".676" stop-color="#ff9b00"/><stop offset=".717" stop-color="#ffe800"/><stop offset=".75" stop-color="#ff9900"/><stop offset=".77" stop-color="#ff0200"/><stop offset=".777" stop-color="#e00000"/><stop offset=".779" stop-color="#de0000"/><stop offset=".791" stop-color="#fc0000"/><stop offset=".793" stop-color="#ff1700"/><stop offset=".801" stop-color="#ffe300"/><stop offset=".803" stop-color="#e4ff1b"/><stop offset=".81" stop-color="#2cffd3"/><stop offset=".812" stop-color="#00feff"/><stop offset=".826" stop-color="#0090ff"/><stop offset=".847" stop-color="#002cff"/><stop offset=".881" stop-color="#0000ff"/><stop offset=".906" stop-color="#0000e5"/><stop offset="1" stop-color="#0000c2"/></linearGradient><linearGradient id="gb50" gradientUnits="userSpaceOnUse" x1="124.5" x2="611.2" y1="0" y2="0"><stop offset="0" stop-color="#960000"/><stop offset=".516" stop-color="#960000"/><stop offset=".551" stop-color="#d10000"/><stop offset=".596" stop-color="#fe0000"/><stop offset=".639" stop-color="#ff4f00"/><stop offset=".674" stop-color="#ffa600"/><stop offset=".715" stop-color="#fff500"/><stop offset=".748" stop-color="#ffa600"/><stop offset=".766" stop-color="#ff1600"/><stop offset=".77" stop-color="#f90000"/><stop offset=".775" stop-color="#e10000"/><stop offset=".777" stop-color="#dd0000"/><stop offset=".789" stop-color="#fb0000"/><stop offset=".791" stop-color="#ff1400"/><stop offset=".799" stop-color="#ffd800"/><stop offset=".801" stop-color="#f3ff0c"/><stop offset=".807" stop-color="#40ffbf"/><stop offset=".81" stop-color="#0bfff4"/><stop offset=".812" stop-color="#00faff"/><stop offset=".824" stop-color="#009bff"/><stop offset=".844" stop-color="#003aff"/><stop offset=".849" stop-color="#0033ff"/><stop offset=".89" stop-color="#0000fd"/><stop offset=".904" stop-color="#0000ef"/><stop offset="1" stop-color="#0000ca"/></linearGradient><linearGradient id="gb51" gradientUnits="userSpaceOnUse" x1="124.5" x2="611.2" y1="0" y2="0"><stop offset="0" stop-color="#960000"/><stop offset=".512" stop-color="#960000"/><stop offset=".547" stop-color="#d10000"/><stop offset=".594" stop-color="#ff0000"/><stop offset=".635" stop-color="#ff5300"/><stop offset=".674" stop-color="#ffb700"/><stop offset=".711" stop-color="#ffff00"/><stop offset=".715" stop-color="#fffd00"/><stop offset=".746" stop-color="#ffb200"/><stop offset=".768" stop-color="#ff0300"/><stop offset=".77" stop-color="#f50000"/><stop offset=".775" stop-color="#df0000"/><stop offset=".781" stop-color="#dd0000"/><stop offset=".787" stop-color="#f80000"/><stop offset=".789" stop-color="#ff0a00"/><stop offset=".799" stop-color="#fffe00"/><stop offset=".801" stop-color="#c9ff36"/><stop offset=".807" stop-color="#25ffda"/><stop offset=".812" stop-color="#00ffff"/><stop offset=".822" stop-color="#00afff"/><stop offset=".844" stop-color="#004aff"/><stop offset=".888" stop-color="#000dff"/><stop offset=".9" stop-color="#0000ff"/><stop offset="1" stop-color="#0000d3"/></linearGradient><linearGradient id="gb52" gradientUnits="userSpaceOnUse" x1="124.5" x2="611.2" y1="0" y2="0"><stop offset="0" stop-color="#960000"/><stop offset=".507" stop-color="#960000"/><stop offset=".542" stop-color="#d10000"/><stop offset=".59" stop-color="#fe0000"/><stop offset=".633" stop-color="#ff5a00"/><stop offset=".672" stop-color="#ffc400"/><stop offset=".703" stop-color="#feff01"/><stop offset=".711" stop-color="#f1ff0e"/><stop offset=".717" stop-color="#feff01"/><stop offset=".744" stop-color="#ffbf00"/><stop offset=".768" stop-color="#fc0000"/><stop offset=".773" stop-color="#e30000"/><stop offset=".779" stop-color="#d40000"/><stop offset=".787" stop-color="#ff0000"/><stop offset=".797" stop-color="#fff400"/><stop offset=".799" stop-color="#d9ff26"/><stop offset=".805" stop-color="#43ffbc"/><stop offset=".807" stop-color="#27ffd8"/><stop offset=".812" stop-color="#04fffb"/><stop offset=".814" stop-color="#00f1ff"/><stop offset=".818" stop-color="#00cfff"/><stop offset=".822" stop-color="#00b7ff"/><stop offset=".842" stop-color="#005fff"/><stop offset=".886" stop-color="#001bff"/><stop offset=".923" stop-color="#0000ff"/><stop offset="1" stop-color="#0000dd"/></linearGradient><linearGradient id="gb53" gradientUnits="userSpaceOnUse" x1="124.5" x2="611.2" y1="0" y2="0"><stop offset="0" stop-color="#960000"/><stop offset=".503" stop-color="#960000"/><stop offset=".538" stop-color="#d10000"/><stop offset=".586" stop-color="#fe0000"/><stop offset=".629" stop-color="#ff5d00"/><stop offset=".67" stop-color="#ffd000"/><stop offset=".694" stop-color="#feff01"/><stop offset=".709" stop-color="#e4ff1b"/><stop offset=".721" stop-color="#fffe00"/><stop offset=".742" stop-color="#ffcc00"/><stop offset=".758" stop-color="#ff4e00"/><stop offset=".766" stop-color="#ff0600"/><stop offset=".768" stop-color="#f50000"/><stop offset=".777" stop-color="#cd0000"/><stop offset=".779" stop-color="#d40000"/><stop offset=".785" stop-color="#fc0000"/><stop offset=".787" stop-color="#ff2700"/><stop offset=".795" stop-color="#ffeb00"/><stop offset=".797" stop-color="#e7ff18"/><stop offset=".803" stop-color="#5effa1"/><stop offset=".805" stop-color="#3dffc2"/><stop offset=".812" stop-color="#06fff9"/><stop offset=".814" stop-color="#00f3ff"/><stop offset=".82" stop-color="#00caff"/><stop offset=".842" stop-color="#006fff"/><stop offset=".886" stop-color="#0027ff"/><stop offset=".949" stop-color="#0000ff"/><stop offset="1" stop-color="#0000e7"/></linearGradient><linearGradient id="gb54" gradientUnits="userSpaceOnUse" x1="124.5" x2="611.2" y1="0" y2="0"><stop offset="0" stop-color="#960000"/><stop offset=".501" stop-color="#970000"/><stop offset=".534" stop-color="#d00000"/><stop offset=".584" stop-color="#ff0000"/><stop offset=".625" stop-color="#ff6000"/><stop offset=".666" stop-color="#ffd800"/><stop offset=".686" stop-color="#fdff02"/><stop offset=".707" stop-color="#d7ff28"/><stop offset=".723" stop-color="#fdff02"/><stop offset=".74" stop-color="#ffd900"/><stop offset=".756" stop-color="#ff5b00"/><stop offset=".766" stop-color="#fd0000"/><stop offset=".775" stop-color="#c70000"/><stop offset=".777" stop-color="#c90000"/><stop offset=".783" stop-color="#f80000"/><stop offset=".785" stop-color="#ff1d00"/><stop offset=".793" stop-color="#ffe100"/><stop offset=".795" stop-color="#f2ff0d"/><stop offset=".803" stop-color="#53ffac"/><stop offset=".812" stop-color="#08fff7"/><stop offset=".814" stop-color="#00f4ff"/><stop offset=".82" stop-color="#00d4ff"/><stop offset=".842" stop-color="#007fff"/><stop offset=".886" stop-color="#0033ff"/><stop offset=".97" stop-color="#0001ff"/><stop offset="1" stop-color="#0000f1"/></linearGradient><linearGradient id="gb55" gradientUnits="userSpaceOnUse" x1="124.5" x2="611.2" y1="0" y2="0"><stop offset="0" stop-color="#960000"/><stop offset=".497" stop-color="#970000"/><stop offset=".53" stop-color="#d00000"/><stop offset=".579" stop-color="#fe0000"/><stop offset=".623" stop-color="#ff6700"/><stop offset=".664" stop-color="#ffe500"/><stop offset=".678" stop-color="#fdff02"/><stop offset=".705" stop-color="#caff35"/><stop offset=".727" stop-color="#ffff00"/><stop offset=".738" stop-color="#ffe600"/><stop offset=".754" stop-color="#ff6900"/><stop offset=".764" stop-color="#ff0600"/><stop offset=".766" stop-color="#f30000"/><stop offset=".773" stop-color="#c20000"/><stop offset=".775" stop-color="#be0000"/><stop offset=".781" stop-color="#f40000"/><stop offset=".783" stop-color="#ff1300"/><stop offset=".791" stop-color="#ffd700"/><stop offset=".793" stop-color="#fbff04"/><stop offset=".801" stop-color="#6cff93"/><stop offset=".812" stop-color="#09fff6"/><stop offset=".814" stop-color="#00f7ff"/><stop offset=".842" stop-color="#008eff"/><stop offset=".884" stop-color="#0042ff"/><stop offset="1" stop-color="#0000fb"/></linearGradient><linearGradient id="gb56" gradientUnits="userSpaceOnUse" x1="124.5" x2="611.2" y1="0" y2="0"><stop offset="0" stop-color="#960000"/><stop offset=".493" stop-color="#960000"/><stop offset=".528" stop-color="#d20000"/><stop offset=".577" stop-color="#ff0000"/><stop offset=".618" stop-color="#ff6a00"/><stop offset=".662" stop-color="#fff100"/><stop offset=".67" stop-color="#fcff03"/><stop offset=".703" stop-color="#bcff43"/><stop offset=".729" stop-color="#fcff03"/><stop offset=".736" stop-color="#fff200"/><stop offset=".752" stop-color="#ff7600"/><stop offset=".764" stop-color="#fa0000"/><stop offset=".773" stop-color="#b20000"/><stop offset=".781" stop-color="#ff0600"/><stop offset=".791" stop-color="#fffb00"/><stop offset=".793" stop-color="#e2ff1d"/><stop offset=".799" stop-color="#82ff7d"/><stop offset=".812" stop-color="#09fff6"/><stop offset=".814" stop-color="#00feff"/><stop offset=".842" stop-color="#009dff"/><stop offset=".884" stop-color="#004eff"/><stop offset="1" stop-color="#0006ff"/></linearGradient><linearGradient id="gb57" gradientUnits="userSpaceOnUse" x1="124.5" x2="611.2" y1="0" y2="0"><stop offset="0" stop-color="#960000"/><stop offset=".491" stop-color="#960000"/><stop offset=".526" stop-color="#d30000"/><stop offset=".573" stop-color="#ff0000"/><stop offset=".616" stop-color="#ff7000"/><stop offset=".66" stop-color="#fff900"/><stop offset=".664" stop-color="#fbff04"/><stop offset=".701" stop-color="#b2ff4d"/><stop offset=".731" stop-color="#fffe00"/><stop offset=".736" stop-color="#fff300"/><stop offset=".738" stop-color="#ffe400"/><stop offset=".752" stop-color="#ff6c00"/><stop offset=".762" stop-color="#ff0200"/><stop offset=".764" stop-color="#ef0000"/><stop offset=".77" stop-color="#b80000"/><stop offset=".773" stop-color="#ba0000"/><stop offset=".779" stop-color="#f40000"/><stop offset=".781" stop-color="#ff1600"/><stop offset=".789" stop-color="#ffe000"/><stop offset=".791" stop-color="#f5ff0a"/><stop offset=".799" stop-color="#7bff84"/><stop offset=".812" stop-color="#06fff9"/><stop offset=".814" stop-color="#00fdff"/><stop offset=".84" stop-color="#00a9ff"/><stop offset=".884" stop-color="#005aff"/><stop offset="1" stop-color="#000fff"/></linearGradient><linearGradient id="gb58" gradientUnits="userSpaceOnUse" x1="124.5" x2="611.2" y1="0" y2="0"><stop offset="0" stop-color="#960000"/><stop offset=".489" stop-color="#960000"/><stop offset=".524" stop-color="#d30000"/><stop offset=".569" stop-color="#fd0000"/><stop offset=".575" stop-color="#ff0900"/><stop offset=".616" stop-color="#ff7b00"/><stop offset=".657" stop-color="#fdff02"/><stop offset=".674" stop-color="#d4ff2b"/><stop offset=".701" stop-color="#a5ff5a"/><stop offset=".731" stop-color="#feff01"/><stop offset=".736" stop-color="#fff000"/><stop offset=".738" stop-color="#ffe000"/><stop offset=".752" stop-color="#ff6200"/><stop offset=".76" stop-color="#ff0a00"/><stop offset=".762" stop-color="#f60000"/><stop offset=".768" stop-color="#be0000"/><stop offset=".77" stop-color="#b40000"/><stop offset=".779" stop-color="#fa0000"/><stop offset=".781" stop-color="#ff2700"/><stop offset=".787" stop-color="#ffc500"/><stop offset=".789" stop-color="#fff300"/><stop offset=".791" stop-color="#e9ff16"/><stop offset=".799" stop-color="#75ff8a"/><stop offset=".81" stop-color="#16ffe9"/><stop offset=".812" stop-color="#05fffa"/><stop offset=".814" stop-color="#00fdff"/><stop offset=".84" stop-color="#00b1ff"/><stop offset=".884" stop-color="#0066ff"/><stop offset="1" stop-color="#0019ff"/></linearGradient><linearGradient id="gb59" gradientUnits="userSpaceOnUse" x1="124.5" x2="611.2" y1="0" y2="0"><stop offset="0" stop-color="#960000"/><stop offset=".487" stop-color="#960000"/><stop offset=".522" stop-color="#d30000"/><stop offset=".567" stop-color="#fd0000"/><stop offset=".573" stop-color="#ff0b00"/><stop offset=".604" stop-color="#ff6200"/><stop offset=".653" stop-color="#fcff03"/><stop offset=".674" stop-color="#c4ff3b"/><stop offset=".699" stop-color="#98ff67"/><stop offset=".719" stop-color="#d1ff2e"/><stop offset=".731" stop-color="#fdff02"/><stop offset=".736" stop-color="#ffed00"/><stop offset=".746" stop-color="#ff9200"/><stop offset=".76" stop-color="#fd0000"/><stop offset=".768" stop-color="#b50000"/><stop offset=".77" stop-color="#b50000"/><stop offset=".779" stop-color="#ff0200"/><stop offset=".787" stop-color="#ffdd00"/><stop offset=".789" stop-color="#fbff04"/><stop offset=".797" stop-color="#84ff7b"/><stop offset=".81" stop-color="#12ffed"/><stop offset=".812" stop-color="#04fffb"/><stop offset=".814" stop-color="#00fdff"/><stop offset=".84" stop-color="#00b9ff"/><stop offset=".881" stop-color="#0075ff"/><stop offset="1" stop-color="#0022ff"/></linearGradient><linearGradient id="gb60" gradientUnits="userSpaceOnUse" x1="124.5" x2="611.2" y1="0" y2="0"><stop offset="0" stop-color="#960000"/><stop offset=".485" stop-color="#960000"/><stop offset=".516" stop-color="#cf0000"/><stop offset=".565" stop-color="#fe0000"/><stop offset=".602" stop-color="#ff6600"/><stop offset=".649" stop-color="#fbff04"/><stop offset=".672" stop-color="#b8ff47"/><stop offset=".697" stop-color="#8dff72"/><stop offset=".701" stop-color="#93ff6c"/><stop offset=".717" stop-color="#c5ff3a"/><stop offset=".731" stop-color="#fdff02"/><stop offset=".736" stop-color="#ffe900"/><stop offset=".748" stop-color="#ff7600"/><stop offset=".758" stop-color="#ff0500"/><stop offset=".76" stop-color="#f20000"/><stop offset=".766" stop-color="#bc0000"/><stop offset=".768" stop-color="#b30000"/><stop offset=".77" stop-color="#bc0000"/><stop offset=".777" stop-color="#f30000"/><stop offset=".779" stop-color="#ff1300"/><stop offset=".787" stop-color="#ffef00"/><stop offset=".789" stop-color="#edff12"/><stop offset=".797" stop-color="#7dff82"/><stop offset=".81" stop-color="#0ffff0"/><stop offset=".812" stop-color="#02fffd"/><stop offset=".814" stop-color="#00fdff"/><stop offset=".84" stop-color="#00c1ff"/><stop offset=".881" stop-color="#0081ff"/><stop offset=".927" stop-color="#005bff"/><stop offset="1" stop-color="#002bff"/></linearGradient><linearGradient id="gb61" gradientUnits="userSpaceOnUse" x1="124.5" x2="611.2" y1="0" y2="0"><stop offset="0" stop-color="#960000"/><stop offset=".483" stop-color="#960000"/><stop offset=".514" stop-color="#cf0000"/><stop offset=".563" stop-color="#fe0000"/><stop offset=".6" stop-color="#ff6a00"/><stop offset=".645" stop-color="#fbff04"/><stop offset=".672" stop-color="#a8ff57"/><stop offset=".697" stop-color="#7fff80"/><stop offset=".717" stop-color="#bfff40"/><stop offset=".731" stop-color="#fdff02"/><stop offset=".734" stop-color="#fff600"/><stop offset=".746" stop-color="#ff8200"/><stop offset=".756" stop-color="#ff0e00"/><stop offset=".758" stop-color="#f90000"/><stop offset=".766" stop-color="#b20000"/><stop offset=".768" stop-color="#b40000"/><stop offset=".777" stop-color="#f90000"/><stop offset=".779" stop-color="#ff2600"/><stop offset=".785" stop-color="#ffd400"/><stop offset=".787" stop-color="#ffff00"/><stop offset=".797" stop-color="#78ff87"/><stop offset=".81" stop-color="#0dfff2"/><stop offset=".812" stop-color="#02fffd"/><stop offset=".863" stop-color="#00a3ff"/><stop offset=".881" stop-color="#008dff"/><stop offset=".925" stop-color="#0067ff"/><stop offset="1" stop-color="#0034ff"/></linearGradient><linearGradient id="gb62" gradientUnits="userSpaceOnUse" x1="124.5" x2="611.2" y1="0" y2="0"><stop offset="0" stop-color="#960000"/><stop offset=".481" stop-color="#960000"/><stop offset=".512" stop-color="#d00000"/><stop offset=".561" stop-color="#fe0000"/><stop offset=".598" stop-color="#ff6e00"/><stop offset=".637" stop-color="#fff600"/><stop offset=".641" stop-color="#faff05"/><stop offset=".67" stop-color="#9cff63"/><stop offset=".694" stop-color="#73ff8c"/><stop offset=".715" stop-color="#b3ff4c"/><stop offset=".731" stop-color="#feff01"/><stop offset=".734" stop-color="#fff200"/><stop offset=".744" stop-color="#ff8e00"/><stop offset=".756" stop-color="#ff0000"/><stop offset=".766" stop-color="#aa0000"/><stop offset=".777" stop-color="#fe0000"/><stop offset=".785" stop-color="#ffed00"/><stop offset=".787" stop-color="#f0ff0f"/><stop offset=".795" stop-color="#86ff79"/><stop offset=".797" stop-color="#72ff8d"/><stop offset=".81" stop-color="#0afff5"/><stop offset=".812" stop-color="#02fffd"/><stop offset=".863" stop-color="#00adff"/><stop offset=".881" stop-color="#009aff"/><stop offset=".925" stop-color="#0071ff"/><stop offset="1" stop-color="#003eff"/></linearGradient><linearGradient id="gb63" gradientUnits="userSpaceOnUse" x1="124.5" x2="611.2" y1="0" y2="0"><stop offset="0" stop-color="#960000"/><stop offset=".479" stop-color="#960000"/><stop offset=".51" stop-color="#d10000"/><stop offset=".557" stop-color="#fe0000"/><stop offset=".561" stop-color="#ff0700"/><stop offset=".598" stop-color="#ff7b00"/><stop offset=".635" stop-color="#fdff02"/><stop offset=".668" stop-color="#8cff73"/><stop offset=".694" stop-color="#64ff9b"/><stop offset=".715" stop-color="#acff53"/><stop offset=".729" stop-color="#f8ff07"/><stop offset=".731" stop-color="#fffb00"/><stop offset=".742" stop-color="#ff9400"/><stop offset=".754" stop-color="#ff0600"/><stop offset=".764" stop-color="#ae0000"/><stop offset=".766" stop-color="#b00000"/><stop offset=".775" stop-color="#f50000"/><stop offset=".777" stop-color="#ff1900"/><stop offset=".783" stop-color="#ffcb00"/><stop offset=".785" stop-color="#fffc00"/><stop offset=".795" stop-color="#82ff7d"/><stop offset=".801" stop-color="#4effb1"/><stop offset=".81" stop-color="#0dfff2"/><stop offset=".816" stop-color="#02fffd"/><stop offset=".863" stop-color="#00b8ff"/><stop offset=".925" stop-color="#007bff"/><stop offset="1" stop-color="#0047ff"/></linearGradient><linearGradient id="gb64" gradientUnits="userSpaceOnUse" x1="124.5" x2="611.2" y1="0" y2="0"><stop offset="0" stop-color="#960000"/><stop offset=".477" stop-color="#960000"/><stop offset=".507" stop-color="#d00000"/><stop offset=".553" stop-color="#ff0100"/><stop offset=".559" stop-color="#ff0d00"/><stop offset=".581" stop-color="#ff5400"/><stop offset=".629" stop-color="#fffe00"/><stop offset=".631" stop-color="#f8ff07"/><stop offset=".666" stop-color="#76ff89"/><stop offset=".682" stop-color="#59ffa6"/><stop offset=".692" stop-color="#51ffae"/><stop offset=".703" stop-color="#71ff8e"/><stop offset=".713" stop-color="#9cff63"/><stop offset=".729" stop-color="#fffe00"/><stop offset=".742" stop-color="#ff8000"/><stop offset=".752" stop-color="#ff0700"/><stop offset=".754" stop-color="#f20000"/><stop offset=".762" stop-color="#ae0000"/><stop offset=".764" stop-color="#aa0000"/><stop offset=".773" stop-color="#ef0000"/><stop offset=".775" stop-color="#ff0300"/><stop offset=".783" stop-color="#ffe400"/><stop offset=".785" stop-color="#faff05"/><stop offset=".793" stop-color="#95ff6a"/><stop offset=".801" stop-color="#4effb1"/><stop offset=".807" stop-color="#22ffdd"/><stop offset=".822" stop-color="#01fffe"/><stop offset=".861" stop-color="#00c5ff"/><stop offset=".925" stop-color="#0084ff"/><stop offset="1" stop-color="#0051ff"/></linearGradient><linearGradient id="gb65" gradientUnits="userSpaceOnUse" x1="124.5" x2="611.2" y1="0" y2="0"><stop offset="0" stop-color="#960000"/><stop offset=".475" stop-color="#970000"/><stop offset=".503" stop-color="#cd0000"/><stop offset=".547" stop-color="#fd0000"/><stop offset=".555" stop-color="#ff0d00"/><stop offset=".577" stop-color="#ff5300"/><stop offset=".625" stop-color="#fdff02"/><stop offset=".66" stop-color="#6bff94"/><stop offset=".68" stop-color="#42ffbd"/><stop offset=".69" stop-color="#3fffc0"/><stop offset=".701" stop-color="#5cffa3"/><stop offset=".711" stop-color="#8bff74"/><stop offset=".717" stop-color="#adff52"/><stop offset=".727" stop-color="#fcff03"/><stop offset=".729" stop-color="#fff000"/><stop offset=".74" stop-color="#ff8100"/><stop offset=".75" stop-color="#ff0800"/><stop offset=".752" stop-color="#f30000"/><stop offset=".76" stop-color="#af0000"/><stop offset=".762" stop-color="#a70000"/><stop offset=".773" stop-color="#fa0000"/><stop offset=".775" stop-color="#ff2500"/><stop offset=".781" stop-color="#ffc400"/><stop offset=".783" stop-color="#ffee00"/><stop offset=".785" stop-color="#f0ff0f"/><stop offset=".793" stop-color="#94ff6b"/><stop offset=".799" stop-color="#5fffa0"/><stop offset=".807" stop-color="#2bffd4"/><stop offset=".828" stop-color="#00ffff"/><stop offset=".861" stop-color="#00d0ff"/><stop offset=".925" stop-color="#008eff"/><stop offset="1" stop-color="#005aff"/></linearGradient><linearGradient id="gb66" gradientUnits="userSpaceOnUse" x1="124.5" x2="611.2" y1="0" y2="0"><stop offset="0" stop-color="#960000"/><stop offset=".471" stop-color="#960000"/><stop offset=".501" stop-color="#cd0000"/><stop offset=".544" stop-color="#ff0000"/><stop offset=".553" stop-color="#ff1300"/><stop offset=".575" stop-color="#ff5a00"/><stop offset=".621" stop-color="#fbff04"/><stop offset=".657" stop-color="#54ffab"/><stop offset=".68" stop-color="#2affd5"/><stop offset=".688" stop-color="#2dffd2"/><stop offset=".701" stop-color="#4fffb0"/><stop offset=".715" stop-color="#9dff62"/><stop offset=".725" stop-color="#f7ff08"/><stop offset=".727" stop-color="#fff400"/><stop offset=".748" stop-color="#ff0900"/><stop offset=".75" stop-color="#f40000"/><stop offset=".758" stop-color="#af0000"/><stop offset=".76" stop-color="#a50000"/><stop offset=".762" stop-color="#af0000"/><stop offset=".77" stop-color="#f40000"/><stop offset=".773" stop-color="#ff1100"/><stop offset=".781" stop-color="#ffd600"/><stop offset=".783" stop-color="#fff800"/><stop offset=".785" stop-color="#e8ff17"/><stop offset=".791" stop-color="#a6ff59"/><stop offset=".797" stop-color="#70ff8f"/><stop offset=".805" stop-color="#3effc1"/><stop offset=".824" stop-color="#0ffff0"/><stop offset=".834" stop-color="#01fffe"/><stop offset=".861" stop-color="#00dbff"/><stop offset=".925" stop-color="#0097ff"/><stop offset="1" stop-color="#0064ff"/></linearGradient><linearGradient id="gb67" gradientUnits="userSpaceOnUse" x1="124.5" x2="611.2" y1="0" y2="0"><stop offset="0" stop-color="#960000"/><stop offset=".468" stop-color="#960000"/><stop offset=".499" stop-color="#cd0000"/><stop offset=".54" stop-color="#fe0000"/><stop offset=".551" stop-color="#ff1900"/><stop offset=".573" stop-color="#ff6000"/><stop offset=".614" stop-color="#fffa00"/><stop offset=".655" stop-color="#3effc1"/><stop offset=".678" stop-color="#13ffec"/><stop offset=".688" stop-color="#1effe1"/><stop offset=".699" stop-color="#3affc5"/><stop offset=".715" stop-color="#9dff62"/><stop offset=".723" stop-color="#f0ff0f"/><stop offset=".725" stop-color="#fff900"/><stop offset=".746" stop-color="#ff0900"/><stop offset=".748" stop-color="#f40000"/><stop offset=".758" stop-color="#a00000"/><stop offset=".76" stop-color="#a90000"/><stop offset=".77" stop-color="#ff0000"/><stop offset=".779" stop-color="#ffba00"/><stop offset=".781" stop-color="#ffe100"/><stop offset=".783" stop-color="#f8ff07"/><stop offset=".797" stop-color="#70ff8f"/><stop offset=".805" stop-color="#49ffb6"/><stop offset=".822" stop-color="#1bffe4"/><stop offset=".84" stop-color="#02fffd"/><stop offset=".925" stop-color="#00a1ff"/><stop offset="1" stop-color="#006dff"/></linearGradient><linearGradient id="gb68" gradientUnits="userSpaceOnUse" x1="124.5" x2="611.2" y1="0" y2="0"><stop offset="0" stop-color="#960000"/><stop offset=".466" stop-color="#960000"/><stop offset=".489" stop-color="#c20000"/><stop offset=".536" stop-color="#fc0000"/><stop offset=".549" stop-color="#ff1f00"/><stop offset=".571" stop-color="#ff6600"/><stop offset=".61" stop-color="#fff900"/><stop offset=".612" stop-color="#fbff04"/><stop offset=".653" stop-color="#28ffd7"/><stop offset=".674" stop-color="#00fdff"/><stop offset=".684" stop-color="#08fff7"/><stop offset=".697" stop-color="#24ffdb"/><stop offset=".713" stop-color="#8bff74"/><stop offset=".723" stop-color="#fffe00"/><stop offset=".744" stop-color="#ff0900"/><stop offset=".746" stop-color="#f50000"/><stop offset=".756" stop-color="#a00000"/><stop offset=".758" stop-color="#a40000"/><stop offset=".768" stop-color="#f90000"/><stop offset=".77" stop-color="#ff1b00"/><stop offset=".781" stop-color="#ffef00"/><stop offset=".783" stop-color="#f3ff0c"/><stop offset=".795" stop-color="#82ff7d"/><stop offset=".803" stop-color="#5bffa4"/><stop offset=".822" stop-color="#24ffdb"/><stop offset=".849" stop-color="#02fffd"/><stop offset=".925" stop-color="#00aaff"/><stop offset="1" stop-color="#0077ff"/></linearGradient><linearGradient id="gb69" gradientUnits="userSpaceOnUse" x1="124.5" x2="611.2" y1="0" y2="0"><stop offset="0" stop-color="#960000"/><stop offset=".464" stop-color="#970000"/><stop offset=".485" stop-color="#bf0000"/><stop offset=".534" stop-color="#fe0000"/><stop offset=".569" stop-color="#ff6c00"/><stop offset=".606" stop-color="#fff900"/><stop offset=".608" stop-color="#fbff04"/><stop offset=".651" stop-color="#12ffed"/><stop offset=".66" stop-color="#00ffff"/><stop offset=".674" stop-color="#00e4ff"/><stop offset=".686" stop-color="#00fdff"/><stop offset=".694" stop-color="#0efff1"/><stop offset=".711" stop-color="#7bff84"/><stop offset=".721" stop-color="#f9ff06"/><stop offset=".723" stop-color="#ffec00"/><stop offset=".742" stop-color="#ff0a00"/><stop offset=".744" stop-color="#f40000"/><stop offset=".754" stop-color="#a10000"/><stop offset=".756" stop-color="#9d0000"/><stop offset=".766" stop-color="#f20000"/><stop offset=".768" stop-color="#ff0b00"/><stop offset=".781" stop-color="#fffb00"/><stop offset=".795" stop-color="#81ff7e"/><stop offset=".797" stop-color="#7aff85"/><stop offset=".82" stop-color="#30ffcf"/><stop offset=".857" stop-color="#02fffd"/><stop offset=".925" stop-color="#00b4ff"/><stop offset="1" stop-color="#0080ff"/></linearGradient><linearGradient id="gb70" gradientUnits="userSpaceOnUse" x1="124.5" x2="611.2" y1="0" y2="0"><stop offset="0" stop-color="#960000"/><stop offset=".462" stop-color="#990000"/><stop offset=".485" stop-color="#c20000"/><stop offset=".532" stop-color="#ff0100"/><stop offset=".567" stop-color="#ff7100"/><stop offset=".6" stop-color="#fffb00"/><stop offset=".606" stop-color="#e8ff17"/><stop offset=".637" stop-color="#43ffbc"/><stop offset=".651" stop-color="#00fcff"/><stop offset=".672" stop-color="#00d7ff"/><stop offset=".692" stop-color="#01fffe"/><stop offset=".711" stop-color="#79ff86"/><stop offset=".719" stop-color="#eeff11"/><stop offset=".721" stop-color="#fff200"/><stop offset=".727" stop-color="#ff9700"/><stop offset=".74" stop-color="#ff0500"/><stop offset=".742" stop-color="#ef0000"/><stop offset=".754" stop-color="#970000"/><stop offset=".766" stop-color="#fc0000"/><stop offset=".779" stop-color="#ffe000"/><stop offset=".781" stop-color="#fff900"/><stop offset=".783" stop-color="#f2ff0d"/><stop offset=".795" stop-color="#88ff77"/><stop offset=".807" stop-color="#5affa5"/><stop offset=".82" stop-color="#35ffca"/><stop offset=".861" stop-color="#01fffe"/><stop offset=".925" stop-color="#00bbff"/><stop offset="1" stop-color="#0089ff"/></linearGradient><linearGradient id="gb71" gradientUnits="userSpaceOnUse" x1="124.5" x2="611.2" y1="0" y2="0"><stop offset="0" stop-color="#960000"/><stop offset=".446" stop-color="#970000"/><stop offset=".462" stop-color="#9c0000"/><stop offset=".483" stop-color="#c20000"/><stop offset=".528" stop-color="#fd0000"/><stop offset=".532" stop-color="#ff0600"/><stop offset=".559" stop-color="#ff5b00"/><stop offset=".594" stop-color="#fffa00"/><stop offset=".604" stop-color="#d4ff2b"/><stop offset=".612" stop-color="#a4ff5b"/><stop offset=".637" stop-color="#26ffd9"/><stop offset=".645" stop-color="#01fffe"/><stop offset=".647" stop-color="#00f7ff"/><stop offset=".651" stop-color="#00e9ff"/><stop offset=".67" stop-color="#00caff"/><stop offset=".694" stop-color="#05fffa"/><stop offset=".709" stop-color="#61ff9e"/><stop offset=".719" stop-color="#fffd00"/><stop offset=".725" stop-color="#ff9100"/><stop offset=".727" stop-color="#ff7400"/><stop offset=".738" stop-color="#fe0000"/><stop offset=".742" stop-color="#dc0000"/><stop offset=".752" stop-color="#9c0000"/><stop offset=".754" stop-color="#a00000"/><stop offset=".764" stop-color="#f60000"/><stop offset=".766" stop-color="#ff1000"/><stop offset=".777" stop-color="#ffc300"/><stop offset=".779" stop-color="#ffe300"/><stop offset=".781" stop-color="#fff700"/><stop offset=".783" stop-color="#f3ff0c"/><stop offset=".793" stop-color="#96ff69"/><stop offset=".807" stop-color="#5cffa3"/><stop offset=".82" stop-color="#3bffc4"/><stop offset=".861" stop-color="#05fffa"/><stop offset=".925" stop-color="#00c2ff"/><stop offset="1" stop-color="#0091ff"/></linearGradient><linearGradient id="gb72" gradientUnits="userSpaceOnUse" x1="124.5" x2="611.2" y1="0" y2="0"><stop offset="0" stop-color="#960000"/><stop offset=".444" stop-color="#970000"/><stop offset=".46" stop-color="#9e0000"/><stop offset=".481" stop-color="#c20000"/><stop offset=".526" stop-color="#fe0000"/><stop offset=".557" stop-color="#ff5c00"/><stop offset=".59" stop-color="#fffe00"/><stop offset=".612" stop-color="#84ff7b"/><stop offset=".635" stop-color="#15ffea"/><stop offset=".641" stop-color="#00faff"/><stop offset=".649" stop-color="#00daff"/><stop offset=".664" stop-color="#00beff"/><stop offset=".67" stop-color="#00bbff"/><stop offset=".69" stop-color="#00eaff"/><stop offset=".694" stop-color="#00ffff"/><stop offset=".707" stop-color="#4effb1"/><stop offset=".709" stop-color="#64ff9b"/><stop offset=".717" stop-color="#f4ff0b"/><stop offset=".719" stop-color="#ffe200"/><stop offset=".725" stop-color="#ff6900"/><stop offset=".734" stop-color="#ff0f00"/><stop offset=".736" stop-color="#f90000"/><stop offset=".74" stop-color="#d50000"/><stop offset=".752" stop-color="#990000"/><stop offset=".764" stop-color="#ff0100"/><stop offset=".777" stop-color="#ffcb00"/><stop offset=".781" stop-color="#fff600"/><stop offset=".783" stop-color="#f4ff0b"/><stop offset=".787" stop-color="#cbff34"/><stop offset=".793" stop-color="#9cff63"/><stop offset=".805" stop-color="#64ff9b"/><stop offset=".818" stop-color="#43ffbc"/><stop offset=".867" stop-color="#02fffd"/><stop offset=".925" stop-color="#00c9ff"/><stop offset="1" stop-color="#0099ff"/></linearGradient><linearGradient id="gb73" gradientUnits="userSpaceOnUse" x1="124.5" x2="611.2" y1="0" y2="0"><stop offset="0" stop-color="#960000"/><stop offset=".442" stop-color="#960000"/><stop offset=".46" stop-color="#a20000"/><stop offset=".479" stop-color="#c20000"/><stop offset=".524" stop-color="#fe0000"/><stop offset=".555" stop-color="#ff5d00"/><stop offset=".584" stop-color="#fff400"/><stop offset=".586" stop-color="#feff01"/><stop offset=".61" stop-color="#6fff90"/><stop offset=".633" stop-color="#03fffc"/><stop offset=".635" stop-color="#00f9ff"/><stop offset=".647" stop-color="#00cbff"/><stop offset=".664" stop-color="#00abff"/><stop offset=".67" stop-color="#00b1ff"/><stop offset=".688" stop-color="#00dcff"/><stop offset=".694" stop-color="#00faff"/><stop offset=".707" stop-color="#49ffb6"/><stop offset=".715" stop-color="#e5ff1a"/><stop offset=".717" stop-color="#ffef00"/><stop offset=".723" stop-color="#ff6200"/><stop offset=".731" stop-color="#ff0700"/><stop offset=".734" stop-color="#f30000"/><stop offset=".738" stop-color="#cf0000"/><stop offset=".75" stop-color="#980000"/><stop offset=".762" stop-color="#f90000"/><stop offset=".764" stop-color="#ff1400"/><stop offset=".777" stop-color="#ffcb00"/><stop offset=".781" stop-color="#fff500"/><stop offset=".783" stop-color="#f3ff0c"/><stop offset=".791" stop-color="#acff53"/><stop offset=".805" stop-color="#66ff99"/><stop offset=".818" stop-color="#49ffb6"/><stop offset=".871" stop-color="#01fffe"/><stop offset=".923" stop-color="#00d1ff"/><stop offset="1" stop-color="#00a2ff"/></linearGradient><linearGradient id="gb74" gradientUnits="userSpaceOnUse" x1="124.5" x2="611.2" y1="0" y2="0"><stop offset="0" stop-color="#960000"/><stop offset=".44" stop-color="#960000"/><stop offset=".458" stop-color="#a30000"/><stop offset=".522" stop-color="#ff0000"/><stop offset=".553" stop-color="#ff5e00"/><stop offset=".581" stop-color="#ffff00"/><stop offset=".608" stop-color="#59ffa6"/><stop offset=".627" stop-color="#04fffb"/><stop offset=".629" stop-color="#00f9ff"/><stop offset=".645" stop-color="#00bcff"/><stop offset=".662" stop-color="#009bff"/><stop offset=".668" stop-color="#00a1ff"/><stop offset=".688" stop-color="#00d4ff"/><stop offset=".697" stop-color="#02fffd"/><stop offset=".705" stop-color="#34ffcb"/><stop offset=".707" stop-color="#53ffac"/><stop offset=".715" stop-color="#feff01"/><stop offset=".721" stop-color="#ff6400"/><stop offset=".723" stop-color="#ff3d00"/><stop offset=".729" stop-color="#fd0000"/><stop offset=".738" stop-color="#bd0000"/><stop offset=".748" stop-color="#9b0000"/><stop offset=".75" stop-color="#9d0000"/><stop offset=".76" stop-color="#f20000"/><stop offset=".762" stop-color="#ff0600"/><stop offset=".775" stop-color="#ffb400"/><stop offset=".781" stop-color="#fff600"/><stop offset=".783" stop-color="#f2ff0d"/><stop offset=".791" stop-color="#b1ff4e"/><stop offset=".803" stop-color="#6eff91"/><stop offset=".816" stop-color="#51ffae"/><stop offset=".875" stop-color="#01fffe"/><stop offset=".923" stop-color="#00d8ff"/><stop offset="1" stop-color="#00aaff"/></linearGradient><linearGradient id="gb75" gradientUnits="userSpaceOnUse" x1="124.5" x2="611.2" y1="0" y2="0"><stop offset="0" stop-color="#960000"/><stop offset=".438" stop-color="#960000"/><stop offset=".456" stop-color="#a50000"/><stop offset=".52" stop-color="#ff0000"/><stop offset=".553" stop-color="#ff6800"/><stop offset=".577" stop-color="#fffc00"/><stop offset=".606" stop-color="#44ffbb"/><stop offset=".621" stop-color="#03fffc"/><stop offset=".623" stop-color="#00f9ff"/><stop offset=".631" stop-color="#00d4ff"/><stop offset=".643" stop-color="#00aeff"/><stop offset=".662" stop-color="#008cff"/><stop offset=".686" stop-color="#00c6ff"/><stop offset=".697" stop-color="#00fbff"/><stop offset=".703" stop-color="#21ffde"/><stop offset=".705" stop-color="#35ffca"/><stop offset=".713" stop-color="#edff12"/><stop offset=".715" stop-color="#ffdd00"/><stop offset=".721" stop-color="#ff3100"/><stop offset=".725" stop-color="#ff0900"/><stop offset=".727" stop-color="#f60000"/><stop offset=".736" stop-color="#b40000"/><stop offset=".748" stop-color="#970000"/><stop offset=".76" stop-color="#fc0000"/><stop offset=".775" stop-color="#ffb300"/><stop offset=".781" stop-color="#fff700"/><stop offset=".783" stop-color="#f1ff0e"/><stop offset=".789" stop-color="#c1ff3e"/><stop offset=".803" stop-color="#70ff8f"/><stop offset=".842" stop-color="#2dffd2"/><stop offset=".877" stop-color="#02fffd"/><stop offset="1" stop-color="#00b2ff"/></linearGradient><linearGradient id="gb76" gradientUnits="userSpaceOnUse" x1="124.5" x2="611.2" y1="0" y2="0"><stop offset="0" stop-color="#960000"/><stop offset=".436" stop-color="#960000"/><stop offset=".454" stop-color="#a60000"/><stop offset=".518" stop-color="#ff0000"/><stop offset=".551" stop-color="#ff6800"/><stop offset=".573" stop-color="#fff700"/><stop offset=".575" stop-color="#f9ff06"/><stop offset=".604" stop-color="#2fffd0"/><stop offset=".614" stop-color="#01fffe"/><stop offset=".616" stop-color="#00f7ff"/><stop offset=".631" stop-color="#00bbff"/><stop offset=".66" stop-color="#007bff"/><stop offset=".686" stop-color="#00bfff"/><stop offset=".699" stop-color="#02fffd"/><stop offset=".703" stop-color="#1affe5"/><stop offset=".711" stop-color="#daff25"/><stop offset=".713" stop-color="#fff100"/><stop offset=".719" stop-color="#ff3300"/><stop offset=".721" stop-color="#ff1100"/><stop offset=".723" stop-color="#fd0000"/><stop offset=".734" stop-color="#ae0000"/><stop offset=".746" stop-color="#980000"/><stop offset=".748" stop-color="#a00000"/><stop offset=".758" stop-color="#f50000"/><stop offset=".76" stop-color="#ff0a00"/><stop offset=".781" stop-color="#fff800"/><stop offset=".783" stop-color="#f1ff0e"/><stop offset=".801" stop-color="#78ff87"/><stop offset=".842" stop-color="#31ffce"/><stop offset=".881" stop-color="#01fffe"/><stop offset="1" stop-color="#00baff"/></linearGradient><linearGradient id="gb77" gradientUnits="userSpaceOnUse" x1="124.5" x2="611.2" y1="0" y2="0"><stop offset="0" stop-color="#960000"/><stop offset=".436" stop-color="#970000"/><stop offset=".516" stop-color="#ff0000"/><stop offset=".549" stop-color="#ff6900"/><stop offset=".571" stop-color="#fffe00"/><stop offset=".602" stop-color="#1bffe4"/><stop offset=".608" stop-color="#00fcff"/><stop offset=".629" stop-color="#00a8ff"/><stop offset=".657" stop-color="#006aff"/><stop offset=".686" stop-color="#00b6ff"/><stop offset=".699" stop-color="#00faff"/><stop offset=".701" stop-color="#06fff9"/><stop offset=".703" stop-color="#26ffd9"/><stop offset=".711" stop-color="#f9ff06"/><stop offset=".713" stop-color="#ffc400"/><stop offset=".717" stop-color="#ff3b00"/><stop offset=".719" stop-color="#ff0500"/><stop offset=".721" stop-color="#f40000"/><stop offset=".734" stop-color="#9c0000"/><stop offset=".744" stop-color="#970000"/><stop offset=".746" stop-color="#9a0000"/><stop offset=".758" stop-color="#ff0000"/><stop offset=".781" stop-color="#fffb00"/><stop offset=".799" stop-color="#82ff7d"/><stop offset=".801" stop-color="#7bff84"/><stop offset=".842" stop-color="#35ffca"/><stop offset=".884" stop-color="#03fffc"/><stop offset="1" stop-color="#00c3ff"/></linearGradient><linearGradient id="gb78" gradientUnits="userSpaceOnUse" x1="124.5" x2="611.2" y1="0" y2="0"><stop offset="0" stop-color="#960000"/><stop offset=".434" stop-color="#970000"/><stop offset=".514" stop-color="#ff0000"/><stop offset=".547" stop-color="#ff6b00"/><stop offset=".567" stop-color="#fff200"/><stop offset=".569" stop-color="#fdff02"/><stop offset=".592" stop-color="#4cffb3"/><stop offset=".602" stop-color="#02fffd"/><stop offset=".604" stop-color="#00f8ff"/><stop offset=".627" stop-color="#009dff"/><stop offset=".655" stop-color="#0061ff"/><stop offset=".657" stop-color="#0062ff"/><stop offset=".686" stop-color="#00b3ff"/><stop offset=".699" stop-color="#00faff"/><stop offset=".701" stop-color="#0afff5"/><stop offset=".709" stop-color="#e2ff1d"/><stop offset=".711" stop-color="#ffe000"/><stop offset=".717" stop-color="#ff0e00"/><stop offset=".719" stop-color="#f40000"/><stop offset=".731" stop-color="#9a0000"/><stop offset=".744" stop-color="#960000"/><stop offset=".756" stop-color="#f70000"/><stop offset=".758" stop-color="#ff0b00"/><stop offset=".768" stop-color="#ff7200"/><stop offset=".781" stop-color="#fffb00"/><stop offset=".799" stop-color="#83ff7c"/><stop offset=".84" stop-color="#3bffc4"/><stop offset=".881" stop-color="#0afff5"/><stop offset=".9" stop-color="#00feff"/><stop offset="1" stop-color="#00caff"/></linearGradient><linearGradient id="gb79" gradientUnits="userSpaceOnUse" x1="124.5" x2="611.2" y1="0" y2="0"><stop offset="0" stop-color="#960000"/><stop offset=".431" stop-color="#970000"/><stop offset=".452" stop-color="#ac0000"/><stop offset=".51" stop-color="#fd0000"/><stop offset=".514" stop-color="#ff0600"/><stop offset=".547" stop-color="#ff7500"/><stop offset=".567" stop-color="#ffff00"/><stop offset=".59" stop-color="#4affb5"/><stop offset=".6" stop-color="#02fffd"/><stop offset=".602" stop-color="#00f5ff"/><stop offset=".627" stop-color="#0093ff"/><stop offset=".643" stop-color="#006eff"/><stop offset=".655" stop-color="#005bff"/><stop offset=".676" stop-color="#0090ff"/><stop offset=".684" stop-color="#00acff"/><stop offset=".699" stop-color="#03fffc"/><stop offset=".701" stop-color="#29ffd6"/><stop offset=".709" stop-color="#ffff00"/><stop offset=".715" stop-color="#ff3600"/><stop offset=".717" stop-color="#ff0200"/><stop offset=".731" stop-color="#970000"/><stop offset=".744" stop-color="#9a0000"/><stop offset=".754" stop-color="#ee0000"/><stop offset=".756" stop-color="#ff0100"/><stop offset=".768" stop-color="#ff7800"/><stop offset=".781" stop-color="#fffc00"/><stop offset=".799" stop-color="#87ff78"/><stop offset=".81" stop-color="#70ff8f"/><stop offset=".84" stop-color="#3fffc0"/><stop offset=".865" stop-color="#21ffde"/><stop offset=".884" stop-color="#0dfff2"/><stop offset=".906" stop-color="#00ffff"/><stop offset="1" stop-color="#00d0ff"/></linearGradient><linearGradient id="gb80" gradientUnits="userSpaceOnUse" x1="124.5" x2="611.2" y1="0" y2="0"><stop offset="0" stop-color="#960000"/><stop offset=".429" stop-color="#970000"/><stop offset=".45" stop-color="#ab0000"/><stop offset=".507" stop-color="#fd0000"/><stop offset=".514" stop-color="#ff0c00"/><stop offset=".544" stop-color="#ff7700"/><stop offset=".565" stop-color="#fffd00"/><stop offset=".588" stop-color="#48ffb7"/><stop offset=".598" stop-color="#01fffe"/><stop offset=".6" stop-color="#00f2ff"/><stop offset=".625" stop-color="#008fff"/><stop offset=".643" stop-color="#0063ff"/><stop offset=".653" stop-color="#0059ff"/><stop offset=".676" stop-color="#008bff"/><stop offset=".684" stop-color="#00afff"/><stop offset=".697" stop-color="#00fbff"/><stop offset=".699" stop-color="#13ffec"/><stop offset=".707" stop-color="#e7ff18"/><stop offset=".709" stop-color="#ffde00"/><stop offset=".715" stop-color="#ff1b00"/><stop offset=".717" stop-color="#fa0000"/><stop offset=".729" stop-color="#9c0000"/><stop offset=".731" stop-color="#960000"/><stop offset=".742" stop-color="#960000"/><stop offset=".754" stop-color="#f70000"/><stop offset=".756" stop-color="#ff0a00"/><stop offset=".766" stop-color="#ff6a00"/><stop offset=".781" stop-color="#fffd00"/><stop offset=".797" stop-color="#92ff6d"/><stop offset=".807" stop-color="#75ff8a"/><stop offset=".84" stop-color="#42ffbd"/><stop offset=".865" stop-color="#25ffda"/><stop offset=".881" stop-color="#13ffec"/><stop offset=".914" stop-color="#00ffff"/><stop offset="1" stop-color="#00d6ff"/></linearGradient><linearGradient id="gb81" gradientUnits="userSpaceOnUse" x1="124.5" x2="611.2" y1="0" y2="0"><stop offset="0" stop-color="#960000"/><stop offset=".427" stop-color="#960000"/><stop offset=".448" stop-color="#ab0000"/><stop offset=".505" stop-color="#fc0000"/><stop offset=".512" stop-color="#ff0c00"/><stop offset=".532" stop-color="#ff4f00"/><stop offset=".542" stop-color="#ff7900"/><stop offset=".563" stop-color="#fffa00"/><stop offset=".565" stop-color="#f4ff0b"/><stop offset=".588" stop-color="#35ffca"/><stop offset=".596" stop-color="#00ffff"/><stop offset=".608" stop-color="#00c0ff"/><stop offset=".625" stop-color="#0085ff"/><stop offset=".641" stop-color="#005cff"/><stop offset=".653" stop-color="#0054ff"/><stop offset=".676" stop-color="#0089ff"/><stop offset=".682" stop-color="#00a7ff"/><stop offset=".694" stop-color="#00f6ff"/><stop offset=".697" stop-color="#08fff7"/><stop offset=".699" stop-color="#31ffce"/><stop offset=".705" stop-color="#cfff30"/><stop offset=".707" stop-color="#fffb00"/><stop offset=".713" stop-color="#ff4100"/><stop offset=".715" stop-color="#ff0e00"/><stop offset=".717" stop-color="#f20000"/><stop offset=".729" stop-color="#970000"/><stop offset=".74" stop-color="#960000"/><stop offset=".742" stop-color="#990000"/><stop offset=".754" stop-color="#ff0000"/><stop offset=".766" stop-color="#ff7000"/><stop offset=".777" stop-color="#ffdb00"/><stop offset=".781" stop-color="#ffff00"/><stop offset=".797" stop-color="#96ff69"/><stop offset=".807" stop-color="#75ff8a"/><stop offset=".84" stop-color="#46ffb9"/><stop offset=".881" stop-color="#18ffe7"/><stop offset=".92" stop-color="#00ffff"/><stop offset="1" stop-color="#00dbff"/></linearGradient><linearGradient id="gb82" gradientUnits="userSpaceOnUse" x1="124.5" x2="611.2" y1="0" y2="0"><stop offset="0" stop-color="#960000"/><stop offset=".427" stop-color="#970000"/><stop offset=".448" stop-color="#ad0000"/><stop offset=".503" stop-color="#fc0000"/><stop offset=".51" stop-color="#ff0c00"/><stop offset=".532" stop-color="#ff5600"/><stop offset=".544" stop-color="#ff8f00"/><stop offset=".561" stop-color="#fff700"/><stop offset=".565" stop-color="#e5ff1a"/><stop offset=".586" stop-color="#33ffcc"/><stop offset=".594" stop-color="#00fdff"/><stop offset=".606" stop-color="#00bcff"/><stop offset=".623" stop-color="#0081ff"/><stop offset=".641" stop-color="#0052ff"/><stop offset=".651" stop-color="#0050ff"/><stop offset=".674" stop-color="#007eff"/><stop offset=".682" stop-color="#00aaff"/><stop offset=".694" stop-color="#00fdff"/><stop offset=".697" stop-color="#1bffe4"/><stop offset=".705" stop-color="#ecff13"/><stop offset=".707" stop-color="#ffdc00"/><stop offset=".713" stop-color="#ff2900"/><stop offset=".715" stop-color="#ff0200"/><stop offset=".717" stop-color="#ed0000"/><stop offset=".727" stop-color="#9d0000"/><stop offset=".729" stop-color="#960000"/><stop offset=".74" stop-color="#960000"/><stop offset=".742" stop-color="#a00000"/><stop offset=".752" stop-color="#f60000"/><stop offset=".754" stop-color="#ff0900"/><stop offset=".766" stop-color="#ff7500"/><stop offset=".779" stop-color="#ffef00"/><stop offset=".781" stop-color="#fdff02"/><stop offset=".795" stop-color="#a2ff5d"/><stop offset=".805" stop-color="#7cff83"/><stop offset=".838" stop-color="#4cffb3"/><stop offset=".881" stop-color="#1dffe2"/><stop offset=".927" stop-color="#00ffff"/><stop offset="1" stop-color="#00e1ff"/></linearGradient><linearGradient id="gb83" gradientUnits="userSpaceOnUse" x1="124.5" x2="611.2" y1="0" y2="0"><stop offset="0" stop-color="#960000"/><stop offset=".425" stop-color="#960000"/><stop offset=".446" stop-color="#ac0000"/><stop offset=".503" stop-color="#ff0100"/><stop offset=".532" stop-color="#ff5f00"/><stop offset=".542" stop-color="#ff8f00"/><stop offset=".559" stop-color="#fff400"/><stop offset=".561" stop-color="#f9ff06"/><stop offset=".563" stop-color="#e8ff17"/><stop offset=".586" stop-color="#21ffde"/><stop offset=".592" stop-color="#00fbff"/><stop offset=".606" stop-color="#00afff"/><stop offset=".623" stop-color="#0077ff"/><stop offset=".641" stop-color="#004aff"/><stop offset=".651" stop-color="#004cff"/><stop offset=".672" stop-color="#0075ff"/><stop offset=".68" stop-color="#00a2ff"/><stop offset=".692" stop-color="#00f7ff"/><stop offset=".694" stop-color="#0dfff2"/><stop offset=".697" stop-color="#3affc5"/><stop offset=".703" stop-color="#d4ff2b"/><stop offset=".705" stop-color="#fff600"/><stop offset=".713" stop-color="#ff1900"/><stop offset=".715" stop-color="#f70000"/><stop offset=".727" stop-color="#970000"/><stop offset=".738" stop-color="#960000"/><stop offset=".74" stop-color="#980000"/><stop offset=".752" stop-color="#fe0000"/><stop offset=".768" stop-color="#ff8c00"/><stop offset=".779" stop-color="#fff100"/><stop offset=".781" stop-color="#faff05"/><stop offset=".795" stop-color="#a4ff5b"/><stop offset=".805" stop-color="#7bff84"/><stop offset=".838" stop-color="#4fffb0"/><stop offset=".879" stop-color="#24ffdb"/><stop offset=".927" stop-color="#03fffc"/><stop offset="1" stop-color="#00e7ff"/></linearGradient><linearGradient id="gb84" gradientUnits="userSpaceOnUse" x1="124.5" x2="611.2" y1="0" y2="0"><stop offset="0" stop-color="#960000"/><stop offset=".423" stop-color="#960000"/><stop offset=".446" stop-color="#ae0000"/><stop offset=".501" stop-color="#ff0000"/><stop offset=".53" stop-color="#ff5d00"/><stop offset=".54" stop-color="#ff9000"/><stop offset=".557" stop-color="#fff000"/><stop offset=".559" stop-color="#fcff03"/><stop offset=".584" stop-color="#1fffe0"/><stop offset=".588" stop-color="#05fffa"/><stop offset=".59" stop-color="#00f8ff"/><stop offset=".606" stop-color="#00a3ff"/><stop offset=".621" stop-color="#0073ff"/><stop offset=".639" stop-color="#0041ff"/><stop offset=".651" stop-color="#004aff"/><stop offset=".672" stop-color="#0070ff"/><stop offset=".692" stop-color="#00ffff"/><stop offset=".694" stop-color="#24ffdb"/><stop offset=".703" stop-color="#f0ff0f"/><stop offset=".705" stop-color="#ffda00"/><stop offset=".711" stop-color="#ff3600"/><stop offset=".713" stop-color="#ff0a00"/><stop offset=".715" stop-color="#f00000"/><stop offset=".725" stop-color="#9f0000"/><stop offset=".727" stop-color="#960000"/><stop offset=".738" stop-color="#960000"/><stop offset=".74" stop-color="#9f0000"/><stop offset=".75" stop-color="#f50000"/><stop offset=".752" stop-color="#ff0700"/><stop offset=".766" stop-color="#ff7d00"/><stop offset=".779" stop-color="#fff400"/><stop offset=".781" stop-color="#f8ff07"/><stop offset=".793" stop-color="#b2ff4d"/><stop offset=".805" stop-color="#7bff84"/><stop offset=".836" stop-color="#55ffaa"/><stop offset=".879" stop-color="#29ffd6"/><stop offset=".927" stop-color="#07fff8"/><stop offset=".949" stop-color="#00ffff"/><stop offset="1" stop-color="#00edff"/></linearGradient><linearGradient id="gb85" gradientUnits="userSpaceOnUse" x1="124.5" x2="611.2" y1="0" y2="0"><stop offset="0" stop-color="#960000"/><stop offset=".423" stop-color="#960000"/><stop offset=".444" stop-color="#ad0000"/><stop offset=".499" stop-color="#fe0000"/><stop offset=".528" stop-color="#ff5c00"/><stop offset=".557" stop-color="#fffe00"/><stop offset=".584" stop-color="#0dfff2"/><stop offset=".588" stop-color="#00f5ff"/><stop offset=".604" stop-color="#009dff"/><stop offset=".637" stop-color="#0039ff"/><stop offset=".649" stop-color="#0045ff"/><stop offset=".67" stop-color="#0067ff"/><stop offset=".672" stop-color="#0070ff"/><stop offset=".69" stop-color="#00f8ff"/><stop offset=".692" stop-color="#12ffed"/><stop offset=".701" stop-color="#d9ff26"/><stop offset=".703" stop-color="#fff200"/><stop offset=".711" stop-color="#ff2500"/><stop offset=".713" stop-color="#fb0000"/><stop offset=".725" stop-color="#980000"/><stop offset=".736" stop-color="#960000"/><stop offset=".738" stop-color="#970000"/><stop offset=".75" stop-color="#fe0000"/><stop offset=".766" stop-color="#ff8000"/><stop offset=".779" stop-color="#fff700"/><stop offset=".781" stop-color="#f8ff07"/><stop offset=".793" stop-color="#b4ff4b"/><stop offset=".805" stop-color="#7cff83"/><stop offset=".863" stop-color="#3cffc3"/><stop offset=".925" stop-color="#0cfff3"/><stop offset=".962" stop-color="#00ffff"/><stop offset="1" stop-color="#00f3ff"/></linearGradient><linearGradient id="gb86" gradientUnits="userSpaceOnUse" x1="124.5" x2="611.2" y1="0" y2="0"><stop offset="0" stop-color="#960000"/><stop offset=".421" stop-color="#960000"/><stop offset=".444" stop-color="#af0000"/><stop offset=".497" stop-color="#fd0000"/><stop offset=".528" stop-color="#ff6400"/><stop offset=".555" stop-color="#fff800"/><stop offset=".557" stop-color="#f4ff0b"/><stop offset=".581" stop-color="#0dfff2"/><stop offset=".584" stop-color="#00feff"/><stop offset=".604" stop-color="#0093ff"/><stop offset=".637" stop-color="#0031ff"/><stop offset=".67" stop-color="#0063ff"/><stop offset=".69" stop-color="#01fffe"/><stop offset=".692" stop-color="#2affd5"/><stop offset=".701" stop-color="#f2ff0d"/><stop offset=".703" stop-color="#ffda00"/><stop offset=".711" stop-color="#ff1400"/><stop offset=".713" stop-color="#f50000"/><stop offset=".723" stop-color="#a10000"/><stop offset=".725" stop-color="#960000"/><stop offset=".736" stop-color="#960000"/><stop offset=".738" stop-color="#9d0000"/><stop offset=".748" stop-color="#f40000"/><stop offset=".75" stop-color="#ff0600"/><stop offset=".766" stop-color="#ff8200"/><stop offset=".779" stop-color="#fffb00"/><stop offset=".803" stop-color="#81ff7e"/><stop offset=".805" stop-color="#7dff82"/><stop offset=".863" stop-color="#40ffbf"/><stop offset=".925" stop-color="#0ffff0"/><stop offset="1" stop-color="#00f8ff"/></linearGradient></defs><rect x="124.5" y="620" width="486.7" height="6" fill="url(#gb0)"/><rect x="124.5" y="625" width="486.7" height="6" fill="url(#gb1)"/><rect x="124.5" y="630" width="486.7" height="6" fill="url(#gb2)"/><rect x="124.5" y="635" width="486.7" height="6" fill="url(#gb3)"/><rect x="124.5" y="640" width="486.7" height="6" fill="url(#gb4)"/><rect x="124.5" y="645" width="486.7" height="6" fill="url(#gb5)"/><rect x="124.5" y="650" width="486.7" height="6" fill="url(#gb6)"/><rect x="124.5" y="655" width="486.7" height="6" fill="url(#gb7)"/><rect x="124.5" y="660" width="486.7" height="6" fill="url(#gb8)"/><rect x="124.5" y="665" width="486.7" height="6" fill="url(#gb9)"/><rect x="124.5" y="670" width="486.7" height="6" fill="url(#gb10)"/><rect x="124.5" y="675" width="486.7" height="6" fill="url(#gb11)"/><rect x="124.5" y="680" width="486.7" height="6" fill="url(#gb12)"/><rect x="124.5" y="685" width="486.7" height="6" fill="url(#gb13)"/><rect x="124.5" y="690" width="486.7" height="6" fill="url(#gb14)"/><rect x="124.5" y="695" width="486.7" height="6" fill="url(#gb15)"/><rect x="124.5" y="700" width="486.7" height="6" fill="url(#gb16)"/><rect x="124.5" y="705" width="486.7" height="6" fill="url(#gb17)"/><rect x="124.5" y="710" width="486.7" height="6" fill="url(#gb18)"/><rect x="124.5" y="715" width="486.7" height="6" fill="url(#gb19)"/><rect x="124.5" y="720" width="486.7" height="6" fill="url(#gb20)"/><rect x="124.5" y="725" width="486.7" height="6" fill="url(#gb21)"/><rect x="124.5" y="730" width="486.7" height="6" fill="url(#gb22)"/><rect x="124.5" y="735" width="486.7" height="6" fill="url(#gb23)"/><rect x="124.5" y="740" width="486.7" height="6" fill="url(#gb24)"/><rect x="124.5" y="745" width="486.7" height="6" fill="url(#gb25)"/><rect x="124.5" y="750" width="486.7" height="6" fill="url(#gb26)"/><rect x="124.5" y="755" width="486.7" height="6" fill="url(#gb27)"/><rect x="124.5" y="760" width="486.7" height="6" fill="url(#gb28)"/><rect x="124.5" y="765" width="486.7" height="6" fill="url(#gb29)"/><rect x="124.5" y="770" width="486.7" height="6" fill="url(#gb30)"/><rect x="124.5" y="775" width="486.7" height="6" fill="url(#gb31)"/><rect x="124.5" y="780" width="486.7" height="6" fill="url(#gb32)"/><rect x="124.5" y="785" width="486.7" height="6" fill="url(#gb33)"/><rect x="124.5" y="790" width="486.7" height="6" fill="url(#gb34)"/><rect x="124.5" y="795" width="486.7" height="6" fill="url(#gb35)"/><rect x="124.5" y="800" width="486.7" height="6" fill="url(#gb36)"/><rect x="124.5" y="805" width="486.7" height="6" fill="url(#gb37)"/><rect x="124.5" y="810" width="486.7" height="6" fill="url(#gb38)"/><rect x="124.5" y="815" width="486.7" height="6" fill="url(#gb39)"/><rect x="124.5" y="820" width="486.7" height="6" fill="url(#gb40)"/><rect x="124.5" y="825" width="486.7" height="6" fill="url(#gb41)"/><rect x="124.5" y="830" width="486.7" height="6" fill="url(#gb42)"/><rect x="124.5" y="835" width="486.7" height="6" fill="url(#gb43)"/><rect x="124.5" y="840" width="486.7" height="6" fill="url(#gb44)"/><rect x="124.5" y="845" width="486.7" height="6" fill="url(#gb45)"/><rect x="124.5" y="850" width="486.7" height="6" fill="url(#gb46)"/><rect x="124.5" y="855" width="486.7" height="6" fill="url(#gb47)"/><rect x="124.5" y="860" width="486.7" height="6" fill="url(#gb48)"/><rect x="124.5" y="865" width="486.7" height="6" fill="url(#gb49)"/><rect x="124.5" y="870" width="486.7" height="6" fill="url(#gb50)"/><rect x="124.5" y="875" width="486.7" height="6" fill="url(#gb51)"/><rect x="124.5" y="880" width="486.7" height="6" fill="url(#gb52)"/><rect x="124.5" y="885" width="486.7" height="6" fill="url(#gb53)"/><rect x="124.5" y="890" width="486.7" height="6" fill="url(#gb54)"/><rect x="124.5" y="895" width="486.7" height="6" fill="url(#gb55)"/><rect x="124.5" y="900" width="486.7" height="6" fill="url(#gb56)"/><rect x="124.5" y="905" width="486.7" height="6" fill="url(#gb57)"/><rect x="124.5" y="910" width="486.7" height="6" fill="url(#gb58)"/><rect x="124.5" y="915" width="486.7" height="6" fill="url(#gb59)"/><rect x="124.5" y="920" width="486.7" height="6" fill="url(#gb60)"/><rect x="124.5" y="925" width="486.7" height="6" fill="url(#gb61)"/><rect x="124.5" y="930" width="486.7" height="6" fill="url(#gb62)"/><rect x="124.5" y="935" width="486.7" height="6" fill="url(#gb63)"/><rect x="124.5" y="940" width="486.7" height="6" fill="url(#gb64)"/><rect x="124.5" y="945" width="486.7" height="6" fill="url(#gb65)"/><rect x="124.5" y="950" width="486.7" height="6" fill="url(#gb66)"/><rect x="124.5" y="955" width="486.7" height="6" fill="url(#gb67)"/><rect x="124.5" y="960" width="486.7" height="6" fill="url(#gb68)"/><rect x="124.5" y="965" width="486.7" height="6" fill="url(#gb69)"/><rect x="124.5" y="970" width="486.7" height="6" fill="url(#gb70)"/><rect x="124.5" y="975" width="486.7" height="6" fill="url(#gb71)"/><rect x="124.5" y="980" width="486.7" height="6" fill="url(#gb72)"/><rect x="124.5" y="985" width="486.7" height="6" fill="url(#gb73)"/><rect x="124.5" y="990" width="486.7" height="6" fill="url(#gb74)"/><rect x="124.5" y="995" width="486.7" height="6" fill="url(#gb75)"/><rect x="124.5" y="1000" width="486.7" height="6" fill="url(#gb76)"/><rect x="124.5" y="1005" width="486.7" height="6" fill="url(#gb77)"/><rect x="124.5" y="1010" width="486.7" height="6" fill="url(#gb78)"/><rect x="124.5" y="1015" width="486.7" height="6" fill="url(#gb79)"/><rect x="124.5" y="1020" width="486.7" height="6" fill="url(#gb80)"/><rect x="124.5" y="1025" width="486.7" height="6" fill="url(#gb81)"/><rect x="124.5" y="1030" width="486.7" height="6" fill="url(#gb82)"/><rect x="124.5" y="1035" width="486.7" height="6" fill="url(#gb83)"/><rect x="124.5" y="1040" width="486.7" height="6" fill="url(#gb84)"/><rect x="124.5" y="1045" width="486.7" height="6" fill="url(#gb85)"/><rect x="124.5" y="1050" width="486.7" height="4" fill="url(#gb86)"/><g stroke="#262626" stroke-width="0.8" fill="none"><rect x="124.5" y="620.2" width="486.7" height="433.2"/><path d="M205.6 1053.4v-4.5M205.6 620.2v4.5"/><path d="M286.7 1053.4v-4.5M286.7 620.2v4.5"/><path d="M367.9 1053.4v-4.5M367.9 620.2v4.5"/><path d="M449 1053.4v-4.5M449 620.2v4.5"/><path d="M530.1 1053.4v-4.5M530.1 620.2v4.5"/><path d="M124.5 663.5h4.5M611.2 663.5h-4.5"/><path d="M124.5 706.8h4.5M611.2 706.8h-4.5"/><path d="M124.5 750.2h4.5M611.2 750.2h-4.5"/><path d="M124.5 793.5h4.5M611.2 793.5h-4.5"/><path d="M124.5 836.8h4.5M611.2 836.8h-4.5"/><path d="M124.5 880.1h4.5M611.2 880.1h-4.5"/><path d="M124.5 923.4h4.5M611.2 923.4h-4.5"/><path d="M124.5 966.8h4.5M611.2 966.8h-4.5"/><path d="M124.5 1010.1h4.5M611.2 1010.1h-4.5"/></g><text x="124.5" y="1076.8" text-anchor="middle" font-family="'Liberation Sans',sans-serif" font-weight="bold" font-size="16.5" letter-spacing="0.4" fill="#1a1a1a">1</text><text x="205.6" y="1076.8" text-anchor="middle" font-family="'Liberation Sans',sans-serif" font-weight="bold" font-size="16.5" letter-spacing="0.4" fill="#1a1a1a">1.5</text><text x="286.7" y="1076.8" text-anchor="middle" font-family="'Liberation Sans',sans-serif" font-weight="bold" font-size="16.5" letter-spacing="0.4" fill="#1a1a1a">2</text><text x="367.9" y="1076.8" text-anchor="middle" font-family="'Liberation Sans',sans-serif" font-weight="bold" font-size="16.5" letter-spacing="0.4" fill="#1a1a1a">2.5</text><text x="449" y="1076.8" text-anchor="middle" font-family="'Liberation Sans',sans-serif" font-weight="bold" font-size="16.5" letter-spacing="0.4" fill="#1a1a1a">3</text><text x="530.1" y="1076.8" text-anchor="middle" font-family="'Liberation Sans',sans-serif" font-weight="bold" font-size="16.5" letter-spacing="0.4" fill="#1a1a1a">3.5</text><text x="611.2" y="1076.8" text-anchor="middle" font-family="'Liberation Sans',sans-serif" font-weight="bold" font-size="16.5" letter-spacing="0.4" fill="#1a1a1a">4</text><text x="118.6" y="627.6" text-anchor="end" font-family="'Liberation Sans',sans-serif" font-weight="bold" font-size="16.5" letter-spacing="0.4" fill="#1a1a1a">10</text><text x="118.6" y="670.9" text-anchor="end" font-family="'Liberation Sans',sans-serif" font-weight="bold" font-size="16.5" letter-spacing="0.4" fill="#1a1a1a">9.9</text><text x="118.6" y="714.2" text-anchor="end" font-family="'Liberation Sans',sans-serif" font-weight="bold" font-size="16.5" letter-spacing="0.4" fill="#1a1a1a">9.8</text><text x="118.6" y="757.6" text-anchor="end" font-family="'Liberation Sans',sans-serif" font-weight="bold" font-size="16.5" letter-spacing="0.4" fill="#1a1a1a">9.7</text><text x="118.6" y="800.9" text-anchor="end" font-family="'Liberation Sans',sans-serif" font-weight="bold" font-size="16.5" letter-spacing="0.4" fill="#1a1a1a">9.6</text><text x="118.6" y="844.2" text-anchor="end" font-family="'Liberation Sans',sans-serif" font-weight="bold" font-size="16.5" letter-spacing="0.4" fill="#1a1a1a">9.5</text><text x="118.6" y="887.5" text-anchor="end" font-family="'Liberation Sans',sans-serif" font-weight="bold" font-size="16.5" letter-spacing="0.4" fill="#1a1a1a">9.4</text><text x="118.6" y="930.8" text-anchor="end" font-family="'Liberation Sans',sans-serif" font-weight="bold" font-size="16.5" letter-spacing="0.4" fill="#1a1a1a">9.3</text><text x="118.6" y="974.2" text-anchor="end" font-family="'Liberation Sans',sans-serif" font-weight="bold" font-size="16.5" letter-spacing="0.4" fill="#1a1a1a">9.2</text><text x="118.6" y="1017.5" text-anchor="end" font-family="'Liberation Sans',sans-serif" font-weight="bold" font-size="16.5" letter-spacing="0.4" fill="#1a1a1a">9.1</text><text x="118.6" y="1060.8" text-anchor="end" font-family="'Liberation Sans',sans-serif" font-weight="bold" font-size="16.5" letter-spacing="0.4" fill="#1a1a1a">9</text><text x="379" y="1108.7" text-anchor="middle" letter-spacing="0.6" font-family="'Liberation Sans',sans-serif" font-weight="bold" font-size="26" fill="#1a1a1a">d (µm)</text><text transform="translate(77.9 837.8) rotate(-90)" text-anchor="middle" font-family="'Liberation Sans',sans-serif" font-weight="bold" font-size="26" fill="#1a1a1a">Wavelength (µm)</text><defs><linearGradient id="cbb" x1="0" x2="0" y1="0" y2="1"><stop offset="0" stop-color="#960000"/><stop offset="0.062" stop-color="#cb0000"/><stop offset="0.125" stop-color="#ff0000"/><stop offset="0.375" stop-color="#ffff00"/><stop offset="0.625" stop-color="#00ffff"/><stop offset="0.875" stop-color="#0000ff"/><stop offset="0.938" stop-color="#0000c7"/><stop offset="1" stop-color="#00008f"/></linearGradient></defs><rect x="626.6" y="620.2" width="23.3" height="433.2" fill="url(#cbb)" stroke="#262626" stroke-width="0.8"/><path d="M649.9 620.2h-4.5" stroke="#262626" stroke-width="0.8"/><text x="655.4" y="626.6" font-family="'Liberation Sans',sans-serif" font-weight="bold" font-size="14" letter-spacing="0.45" fill="#1a1a1a">1</text><path d="M649.9 663.5h-4.5" stroke="#262626" stroke-width="0.8"/><text x="655.4" y="669.9" font-family="'Liberation Sans',sans-serif" font-weight="bold" font-size="14" letter-spacing="0.45" fill="#1a1a1a">0.9</text><path d="M649.9 706.8h-4.5" stroke="#262626" stroke-width="0.8"/><text x="655.4" y="713.3" font-family="'Liberation Sans',sans-serif" font-weight="bold" font-size="14" letter-spacing="0.45" fill="#1a1a1a">0.8</text><path d="M649.9 750.2h-4.5" stroke="#262626" stroke-width="0.8"/><text x="655.4" y="756.6" font-family="'Liberation Sans',sans-serif" font-weight="bold" font-size="14" letter-spacing="0.45" fill="#1a1a1a">0.7</text><path d="M649.9 793.5h-4.5" stroke="#262626" stroke-width="0.8"/><text x="655.4" y="799.9" font-family="'Liberation Sans',sans-serif" font-weight="bold" font-size="14" letter-spacing="0.45" fill="#1a1a1a">0.6</text><path d="M649.9 836.8h-4.5" stroke="#262626" stroke-width="0.8"/><text x="655.4" y="843.2" font-family="'Liberation Sans',sans-serif" font-weight="bold" font-size="14" letter-spacing="0.45" fill="#1a1a1a">0.5</text><path d="M649.9 880.1h-4.5" stroke="#262626" stroke-width="0.8"/><text x="655.4" y="886.5" font-family="'Liberation Sans',sans-serif" font-weight="bold" font-size="14" letter-spacing="0.45" fill="#1a1a1a">0.4</text><path d="M649.9 923.4h-4.5" stroke="#262626" stroke-width="0.8"/><text x="655.4" y="929.9" font-family="'Liberation Sans',sans-serif" font-weight="bold" font-size="14" letter-spacing="0.45" fill="#1a1a1a">0.3</text><path d="M649.9 966.8h-4.5" stroke="#262626" stroke-width="0.8"/><text x="655.4" y="973.2" font-family="'Liberation Sans',sans-serif" font-weight="bold" font-size="14" letter-spacing="0.45" fill="#1a1a1a">0.2</text><path d="M649.9 1010.1h-4.5" stroke="#262626" stroke-width="0.8"/><text x="655.4" y="1016.5" font-family="'Liberation Sans',sans-serif" font-weight="bold" font-size="14" letter-spacing="0.45" fill="#1a1a1a">0.1</text><text x="587.2" y="605.1" font-family="'Liberation Serif',serif" font-weight="bold" font-size="20.5" textLength="122.3" lengthAdjust="spacingAndGlyphs">Transmission</text><defs><linearGradient id="gc0" gradientUnits="userSpaceOnUse" x1="844" x2="1337.1" y1="0" y2="0"><stop offset="0" stop-color="#003dff"/><stop offset=".17" stop-color="#004eff"/><stop offset=".316" stop-color="#0069ff"/><stop offset=".418" stop-color="#009bff"/><stop offset=".501" stop-color="#00feff"/><stop offset=".548" stop-color="#56ffa9"/><stop offset=".602" stop-color="#c7ff38"/><stop offset=".635" stop-color="#feff01"/><stop offset=".667" stop-color="#ffae00"/><stop offset=".696" stop-color="#ff5500"/><stop offset=".712" stop-color="#ff0300"/><stop offset=".714" stop-color="#f70000"/><stop offset=".732" stop-color="#970000"/><stop offset="1" stop-color="#960000"/></linearGradient><linearGradient id="gc1" gradientUnits="userSpaceOnUse" x1="844" x2="1337.1" y1="0" y2="0"><stop offset="0" stop-color="#003bff"/><stop offset=".172" stop-color="#004cff"/><stop offset=".318" stop-color="#0067ff"/><stop offset=".422" stop-color="#009aff"/><stop offset=".505" stop-color="#00ffff"/><stop offset=".604" stop-color="#c2ff3d"/><stop offset=".639" stop-color="#feff01"/><stop offset=".671" stop-color="#ffad00"/><stop offset=".698" stop-color="#ff5700"/><stop offset=".716" stop-color="#fa0000"/><stop offset=".734" stop-color="#990000"/><stop offset="1" stop-color="#960000"/></linearGradient><linearGradient id="gc2" gradientUnits="userSpaceOnUse" x1="844" x2="1337.1" y1="0" y2="0"><stop offset="0" stop-color="#0038ff"/><stop offset=".172" stop-color="#0049ff"/><stop offset=".32" stop-color="#0065ff"/><stop offset=".424" stop-color="#0098ff"/><stop offset=".509" stop-color="#00ffff"/><stop offset=".643" stop-color="#feff01"/><stop offset=".665" stop-color="#ffc800"/><stop offset=".687" stop-color="#ff8200"/><stop offset=".702" stop-color="#ff5000"/><stop offset=".718" stop-color="#fc0000"/><stop offset=".736" stop-color="#9b0000"/><stop offset=".74" stop-color="#990000"/><stop offset="1" stop-color="#960000"/></linearGradient><linearGradient id="gc3" gradientUnits="userSpaceOnUse" x1="844" x2="1337.1" y1="0" y2="0"><stop offset="0" stop-color="#0035ff"/><stop offset=".174" stop-color="#0047ff"/><stop offset=".322" stop-color="#0063ff"/><stop offset=".428" stop-color="#0097ff"/><stop offset=".511" stop-color="#00feff"/><stop offset=".647" stop-color="#feff01"/><stop offset=".669" stop-color="#ffc800"/><stop offset=".69" stop-color="#ff8600"/><stop offset=".704" stop-color="#ff5300"/><stop offset=".72" stop-color="#ff0000"/><stop offset=".738" stop-color="#9e0000"/><stop offset=".742" stop-color="#9b0000"/><stop offset="1" stop-color="#960000"/></linearGradient><linearGradient id="gc4" gradientUnits="userSpaceOnUse" x1="844" x2="1337.1" y1="0" y2="0"><stop offset="0" stop-color="#0033ff"/><stop offset=".174" stop-color="#0044ff"/><stop offset=".324" stop-color="#0061ff"/><stop offset=".43" stop-color="#0095ff"/><stop offset=".515" stop-color="#00feff"/><stop offset=".651" stop-color="#feff01"/><stop offset=".679" stop-color="#ffb400"/><stop offset=".706" stop-color="#ff5500"/><stop offset=".722" stop-color="#ff0200"/><stop offset=".724" stop-color="#f70000"/><stop offset=".74" stop-color="#a10000"/><stop offset=".758" stop-color="#970000"/><stop offset="1" stop-color="#960000"/></linearGradient><linearGradient id="gc5" gradientUnits="userSpaceOnUse" x1="844" x2="1337.1" y1="0" y2="0"><stop offset="0" stop-color="#0030ff"/><stop offset=".176" stop-color="#0042ff"/><stop offset=".327" stop-color="#005fff"/><stop offset=".434" stop-color="#0095ff"/><stop offset=".519" stop-color="#00ffff"/><stop offset=".655" stop-color="#ffff00"/><stop offset=".673" stop-color="#ffd300"/><stop offset=".683" stop-color="#ffb200"/><stop offset=".708" stop-color="#ff5800"/><stop offset=".724" stop-color="#ff0400"/><stop offset=".726" stop-color="#fa0000"/><stop offset=".742" stop-color="#a50000"/><stop offset=".76" stop-color="#970000"/><stop offset="1" stop-color="#960000"/></linearGradient><linearGradient id="gc6" gradientUnits="userSpaceOnUse" x1="844" x2="1337.1" y1="0" y2="0"><stop offset="0" stop-color="#002dff"/><stop offset=".176" stop-color="#003fff"/><stop offset=".329" stop-color="#005dff"/><stop offset=".436" stop-color="#0092ff"/><stop offset=".523" stop-color="#01fffe"/><stop offset=".568" stop-color="#4fffb0"/><stop offset=".659" stop-color="#ffff00"/><stop offset=".675" stop-color="#ffd800"/><stop offset=".685" stop-color="#ffb700"/><stop offset=".71" stop-color="#ff5a00"/><stop offset=".728" stop-color="#fc0000"/><stop offset=".746" stop-color="#a30000"/><stop offset=".763" stop-color="#970000"/><stop offset="1" stop-color="#960000"/></linearGradient><linearGradient id="gc7" gradientUnits="userSpaceOnUse" x1="844" x2="1337.1" y1="0" y2="0"><stop offset="0" stop-color="#002aff"/><stop offset=".178" stop-color="#003dff"/><stop offset=".331" stop-color="#005bff"/><stop offset=".393" stop-color="#0075ff"/><stop offset=".44" stop-color="#0092ff"/><stop offset=".525" stop-color="#00feff"/><stop offset=".57" stop-color="#4bffb4"/><stop offset=".663" stop-color="#feff01"/><stop offset=".679" stop-color="#ffd800"/><stop offset=".7" stop-color="#ff8e00"/><stop offset=".714" stop-color="#ff5400"/><stop offset=".73" stop-color="#fe0000"/><stop offset=".748" stop-color="#a50000"/><stop offset=".767" stop-color="#960000"/><stop offset="1" stop-color="#960000"/></linearGradient><linearGradient id="gc8" gradientUnits="userSpaceOnUse" x1="844" x2="1337.1" y1="0" y2="0"><stop offset="0" stop-color="#0028ff"/><stop offset=".18" stop-color="#003bff"/><stop offset=".335" stop-color="#005aff"/><stop offset=".397" stop-color="#0074ff"/><stop offset=".442" stop-color="#0090ff"/><stop offset=".464" stop-color="#00a6ff"/><stop offset=".489" stop-color="#00cdff"/><stop offset=".529" stop-color="#00feff"/><stop offset=".59" stop-color="#69ff96"/><stop offset=".667" stop-color="#feff01"/><stop offset=".681" stop-color="#ffde00"/><stop offset=".702" stop-color="#ff9200"/><stop offset=".716" stop-color="#ff5600"/><stop offset=".732" stop-color="#ff0100"/><stop offset=".75" stop-color="#a80000"/><stop offset=".769" stop-color="#960000"/><stop offset="1" stop-color="#960000"/></linearGradient><linearGradient id="gc9" gradientUnits="userSpaceOnUse" x1="844" x2="1337.1" y1="0" y2="0"><stop offset="0" stop-color="#0025ff"/><stop offset=".162" stop-color="#0035ff"/><stop offset=".296" stop-color="#004dff"/><stop offset=".4" stop-color="#0071ff"/><stop offset=".466" stop-color="#00a3ff"/><stop offset=".493" stop-color="#00cdff"/><stop offset=".533" stop-color="#00ffff"/><stop offset=".621" stop-color="#99ff66"/><stop offset=".671" stop-color="#feff01"/><stop offset=".683" stop-color="#ffe300"/><stop offset=".694" stop-color="#ffbe00"/><stop offset=".718" stop-color="#ff5900"/><stop offset=".734" stop-color="#ff0400"/><stop offset=".736" stop-color="#f90000"/><stop offset=".752" stop-color="#aa0000"/><stop offset=".771" stop-color="#960000"/><stop offset="1" stop-color="#960000"/></linearGradient><linearGradient id="gc10" gradientUnits="userSpaceOnUse" x1="844" x2="1337.1" y1="0" y2="0"><stop offset="0" stop-color="#0022ff"/><stop offset=".162" stop-color="#0033ff"/><stop offset=".298" stop-color="#004bff"/><stop offset=".402" stop-color="#006fff"/><stop offset=".468" stop-color="#00a0ff"/><stop offset=".495" stop-color="#00cbff"/><stop offset=".535" stop-color="#00fdff"/><stop offset=".623" stop-color="#94ff6b"/><stop offset=".675" stop-color="#feff01"/><stop offset=".687" stop-color="#ffe300"/><stop offset=".696" stop-color="#ffc400"/><stop offset=".72" stop-color="#ff5b00"/><stop offset=".738" stop-color="#fb0000"/><stop offset=".754" stop-color="#ae0000"/><stop offset=".773" stop-color="#960000"/><stop offset="1" stop-color="#960000"/></linearGradient><linearGradient id="gc11" gradientUnits="userSpaceOnUse" x1="844" x2="1337.1" y1="0" y2="0"><stop offset="0" stop-color="#0020ff"/><stop offset=".164" stop-color="#0030ff"/><stop offset=".3" stop-color="#0049ff"/><stop offset=".404" stop-color="#006cff"/><stop offset=".473" stop-color="#009fff"/><stop offset=".499" stop-color="#00cbff"/><stop offset=".539" stop-color="#00feff"/><stop offset=".627" stop-color="#93ff6c"/><stop offset=".679" stop-color="#feff01"/><stop offset=".69" stop-color="#ffe900"/><stop offset=".7" stop-color="#ffc100"/><stop offset=".724" stop-color="#ff5500"/><stop offset=".74" stop-color="#fd0000"/><stop offset=".758" stop-color="#ab0000"/><stop offset=".775" stop-color="#960000"/><stop offset="1" stop-color="#960000"/></linearGradient><linearGradient id="gc12" gradientUnits="userSpaceOnUse" x1="844" x2="1337.1" y1="0" y2="0"><stop offset="0" stop-color="#001dff"/><stop offset=".164" stop-color="#002dff"/><stop offset=".302" stop-color="#0046ff"/><stop offset=".408" stop-color="#006aff"/><stop offset=".475" stop-color="#009cff"/><stop offset=".501" stop-color="#00c9ff"/><stop offset=".544" stop-color="#00ffff"/><stop offset=".629" stop-color="#8eff71"/><stop offset=".683" stop-color="#fdff02"/><stop offset=".694" stop-color="#ffe800"/><stop offset=".712" stop-color="#ff9a00"/><stop offset=".742" stop-color="#ff0100"/><stop offset=".76" stop-color="#ae0000"/><stop offset=".777" stop-color="#970000"/><stop offset="1" stop-color="#960000"/></linearGradient><linearGradient id="gc13" gradientUnits="userSpaceOnUse" x1="844" x2="1337.1" y1="0" y2="0"><stop offset="0" stop-color="#001aff"/><stop offset=".166" stop-color="#002bff"/><stop offset=".304" stop-color="#0044ff"/><stop offset=".41" stop-color="#0068ff"/><stop offset=".479" stop-color="#009bff"/><stop offset=".505" stop-color="#00caff"/><stop offset=".548" stop-color="#00ffff"/><stop offset=".633" stop-color="#8cff73"/><stop offset=".687" stop-color="#fdff02"/><stop offset=".696" stop-color="#ffee00"/><stop offset=".704" stop-color="#ffcc00"/><stop offset=".728" stop-color="#ff5a00"/><stop offset=".744" stop-color="#ff0300"/><stop offset=".746" stop-color="#f90000"/><stop offset=".765" stop-color="#aa0000"/><stop offset=".779" stop-color="#970000"/><stop offset="1" stop-color="#960000"/></linearGradient><linearGradient id="gc14" gradientUnits="userSpaceOnUse" x1="844" x2="1337.1" y1="0" y2="0"><stop offset="0" stop-color="#0018ff"/><stop offset=".166" stop-color="#0028ff"/><stop offset=".306" stop-color="#0042ff"/><stop offset=".412" stop-color="#0065ff"/><stop offset=".481" stop-color="#0099ff"/><stop offset=".509" stop-color="#00caff"/><stop offset=".55" stop-color="#00feff"/><stop offset=".635" stop-color="#88ff77"/><stop offset=".692" stop-color="#fdff02"/><stop offset=".698" stop-color="#fff400"/><stop offset=".708" stop-color="#ffc800"/><stop offset=".748" stop-color="#fb0000"/><stop offset=".767" stop-color="#ad0000"/><stop offset=".781" stop-color="#970000"/><stop offset="1" stop-color="#960000"/></linearGradient><linearGradient id="gc15" gradientUnits="userSpaceOnUse" x1="844" x2="1337.1" y1="0" y2="0"><stop offset="0" stop-color="#0015ff"/><stop offset=".168" stop-color="#0026ff"/><stop offset=".308" stop-color="#0040ff"/><stop offset=".414" stop-color="#0063ff"/><stop offset=".485" stop-color="#0098ff"/><stop offset=".511" stop-color="#00c8ff"/><stop offset=".554" stop-color="#00feff"/><stop offset=".639" stop-color="#86ff79"/><stop offset=".696" stop-color="#fcff03"/><stop offset=".702" stop-color="#fff300"/><stop offset=".72" stop-color="#ff9f00"/><stop offset=".75" stop-color="#fd0000"/><stop offset=".769" stop-color="#af0000"/><stop offset=".785" stop-color="#960000"/><stop offset="1" stop-color="#960000"/></linearGradient><linearGradient id="gc16" gradientUnits="userSpaceOnUse" x1="844" x2="1337.1" y1="0" y2="0"><stop offset="0" stop-color="#0012ff"/><stop offset=".168" stop-color="#0023ff"/><stop offset=".31" stop-color="#003dff"/><stop offset=".418" stop-color="#0061ff"/><stop offset=".489" stop-color="#0097ff"/><stop offset=".515" stop-color="#00c8ff"/><stop offset=".558" stop-color="#00ffff"/><stop offset=".643" stop-color="#85ff7a"/><stop offset=".7" stop-color="#fcff03"/><stop offset=".704" stop-color="#fff900"/><stop offset=".724" stop-color="#ff9a00"/><stop offset=".752" stop-color="#ff0000"/><stop offset=".773" stop-color="#ab0000"/><stop offset=".787" stop-color="#960000"/><stop offset="1" stop-color="#960000"/></linearGradient><linearGradient id="gc17" gradientUnits="userSpaceOnUse" x1="844" x2="1337.1" y1="0" y2="0"><stop offset="0" stop-color="#0010ff"/><stop offset=".17" stop-color="#0021ff"/><stop offset=".312" stop-color="#003bff"/><stop offset=".42" stop-color="#005eff"/><stop offset=".491" stop-color="#0094ff"/><stop offset=".517" stop-color="#00c6ff"/><stop offset=".56" stop-color="#00fdff"/><stop offset=".645" stop-color="#80ff7f"/><stop offset=".704" stop-color="#fbff04"/><stop offset=".708" stop-color="#fff700"/><stop offset=".726" stop-color="#ff9e00"/><stop offset=".754" stop-color="#ff0200"/><stop offset=".756" stop-color="#f90000"/><stop offset=".775" stop-color="#ad0000"/><stop offset=".789" stop-color="#960000"/><stop offset="1" stop-color="#960000"/></linearGradient><linearGradient id="gc18" gradientUnits="userSpaceOnUse" x1="844" x2="1337.1" y1="0" y2="0"><stop offset="0" stop-color="#000dff"/><stop offset=".17" stop-color="#001eff"/><stop offset=".272" stop-color="#0031ff"/><stop offset=".424" stop-color="#005dff"/><stop offset=".495" stop-color="#0094ff"/><stop offset=".521" stop-color="#00c5ff"/><stop offset=".566" stop-color="#00ffff"/><stop offset=".649" stop-color="#7eff81"/><stop offset=".708" stop-color="#fbff04"/><stop offset=".71" stop-color="#fffe00"/><stop offset=".73" stop-color="#ff9900"/><stop offset=".758" stop-color="#fc0000"/><stop offset=".777" stop-color="#b10000"/><stop offset=".791" stop-color="#980000"/><stop offset="1" stop-color="#960000"/></linearGradient><linearGradient id="gc19" gradientUnits="userSpaceOnUse" x1="844" x2="1337.1" y1="0" y2="0"><stop offset="0" stop-color="#000aff"/><stop offset=".172" stop-color="#001bff"/><stop offset=".274" stop-color="#002eff"/><stop offset=".428" stop-color="#005cff"/><stop offset=".499" stop-color="#0094ff"/><stop offset=".527" stop-color="#00c7ff"/><stop offset=".57" stop-color="#00feff"/><stop offset=".653" stop-color="#7cff83"/><stop offset=".712" stop-color="#fcff03"/><stop offset=".714" stop-color="#fffb00"/><stop offset=".732" stop-color="#ff9d00"/><stop offset=".76" stop-color="#ff0000"/><stop offset=".779" stop-color="#b70000"/><stop offset=".793" stop-color="#9c0000"/><stop offset="1" stop-color="#960000"/></linearGradient><linearGradient id="gc20" gradientUnits="userSpaceOnUse" x1="844" x2="1337.1" y1="0" y2="0"><stop offset="0" stop-color="#0007ff"/><stop offset=".174" stop-color="#0019ff"/><stop offset=".278" stop-color="#002bff"/><stop offset=".432" stop-color="#005bff"/><stop offset=".505" stop-color="#0097ff"/><stop offset=".531" stop-color="#00c6ff"/><stop offset=".576" stop-color="#00feff"/><stop offset=".657" stop-color="#7aff85"/><stop offset=".716" stop-color="#fdff02"/><stop offset=".763" stop-color="#ff0500"/><stop offset=".765" stop-color="#fb0000"/><stop offset=".783" stop-color="#b50000"/><stop offset=".795" stop-color="#a00000"/><stop offset=".862" stop-color="#970000"/><stop offset="1" stop-color="#960000"/></linearGradient><linearGradient id="gc21" gradientUnits="userSpaceOnUse" x1="844" x2="1337.1" y1="0" y2="0"><stop offset="0" stop-color="#0004ff"/><stop offset=".28" stop-color="#0029ff"/><stop offset=".436" stop-color="#005aff"/><stop offset=".509" stop-color="#0097ff"/><stop offset=".537" stop-color="#00c7ff"/><stop offset=".582" stop-color="#00ffff"/><stop offset=".661" stop-color="#78ff87"/><stop offset=".72" stop-color="#feff01"/><stop offset=".767" stop-color="#fe0000"/><stop offset=".785" stop-color="#ba0000"/><stop offset=".799" stop-color="#a20000"/><stop offset=".864" stop-color="#960000"/><stop offset="1" stop-color="#960000"/></linearGradient><linearGradient id="gc22" gradientUnits="userSpaceOnUse" x1="844" x2="1337.1" y1="0" y2="0"><stop offset="0" stop-color="#0001ff"/><stop offset=".282" stop-color="#0026ff"/><stop offset=".44" stop-color="#0059ff"/><stop offset=".513" stop-color="#0097ff"/><stop offset=".541" stop-color="#00c6ff"/><stop offset=".586" stop-color="#00feff"/><stop offset=".665" stop-color="#75ff8a"/><stop offset=".685" stop-color="#9fff60"/><stop offset=".722" stop-color="#faff05"/><stop offset=".724" stop-color="#fffe00"/><stop offset=".74" stop-color="#ff9f00"/><stop offset=".769" stop-color="#ff0400"/><stop offset=".771" stop-color="#fb0000"/><stop offset=".787" stop-color="#c00000"/><stop offset=".801" stop-color="#a60000"/><stop offset=".866" stop-color="#960000"/><stop offset="1" stop-color="#960000"/></linearGradient><linearGradient id="gc23" gradientUnits="userSpaceOnUse" x1="844" x2="1337.1" y1="0" y2="0"><stop offset="0" stop-color="#0000fd"/><stop offset=".178" stop-color="#0011ff"/><stop offset=".284" stop-color="#0023ff"/><stop offset=".381" stop-color="#003eff"/><stop offset=".442" stop-color="#0057ff"/><stop offset=".519" stop-color="#009aff"/><stop offset=".548" stop-color="#00c8ff"/><stop offset=".594" stop-color="#02fffd"/><stop offset=".671" stop-color="#77ff88"/><stop offset=".69" stop-color="#9dff62"/><stop offset=".728" stop-color="#fffc00"/><stop offset=".744" stop-color="#ff9800"/><stop offset=".773" stop-color="#fd0000"/><stop offset=".791" stop-color="#bf0000"/><stop offset=".803" stop-color="#aa0000"/><stop offset=".811" stop-color="#a60000"/><stop offset=".868" stop-color="#960000"/><stop offset="1" stop-color="#960000"/></linearGradient><linearGradient id="gc24" gradientUnits="userSpaceOnUse" x1="844" x2="1337.1" y1="0" y2="0"><stop offset="0" stop-color="#0000fa"/><stop offset=".156" stop-color="#000bff"/><stop offset=".286" stop-color="#0020ff"/><stop offset=".385" stop-color="#003cff"/><stop offset=".446" stop-color="#0056ff"/><stop offset=".523" stop-color="#009aff"/><stop offset=".552" stop-color="#00c6ff"/><stop offset=".598" stop-color="#01fffe"/><stop offset=".675" stop-color="#74ff8b"/><stop offset=".694" stop-color="#9bff64"/><stop offset=".73" stop-color="#fcff03"/><stop offset=".732" stop-color="#fff900"/><stop offset=".746" stop-color="#ff9d00"/><stop offset=".775" stop-color="#ff0300"/><stop offset=".777" stop-color="#fa0000"/><stop offset=".793" stop-color="#c40000"/><stop offset=".805" stop-color="#ae0000"/><stop offset=".813" stop-color="#a90000"/><stop offset=".87" stop-color="#960000"/><stop offset="1" stop-color="#960000"/></linearGradient><linearGradient id="gc25" gradientUnits="userSpaceOnUse" x1="844" x2="1337.1" y1="0" y2="0"><stop offset="0" stop-color="#0000f8"/><stop offset=".183" stop-color="#000cff"/><stop offset=".29" stop-color="#001eff"/><stop offset=".389" stop-color="#003aff"/><stop offset=".454" stop-color="#0057ff"/><stop offset=".527" stop-color="#009aff"/><stop offset=".558" stop-color="#00c8ff"/><stop offset=".604" stop-color="#02fffd"/><stop offset=".679" stop-color="#72ff8d"/><stop offset=".698" stop-color="#98ff67"/><stop offset=".734" stop-color="#fdff02"/><stop offset=".736" stop-color="#fff500"/><stop offset=".75" stop-color="#ff9600"/><stop offset=".779" stop-color="#fd0000"/><stop offset=".797" stop-color="#c40000"/><stop offset=".807" stop-color="#b20000"/><stop offset=".817" stop-color="#ab0000"/><stop offset=".872" stop-color="#960000"/><stop offset="1" stop-color="#960000"/></linearGradient><linearGradient id="gc26" gradientUnits="userSpaceOnUse" x1="844" x2="1337.1" y1="0" y2="0"><stop offset="0" stop-color="#0000f5"/><stop offset=".105" stop-color="#0000ff"/><stop offset=".185" stop-color="#0009ff"/><stop offset=".292" stop-color="#001bff"/><stop offset=".393" stop-color="#0038ff"/><stop offset=".458" stop-color="#0056ff"/><stop offset=".533" stop-color="#009dff"/><stop offset=".562" stop-color="#00c7ff"/><stop offset=".61" stop-color="#03fffc"/><stop offset=".683" stop-color="#70ff8f"/><stop offset=".702" stop-color="#96ff69"/><stop offset=".738" stop-color="#ffff00"/><stop offset=".754" stop-color="#ff9000"/><stop offset=".781" stop-color="#ff0200"/><stop offset=".799" stop-color="#c80000"/><stop offset=".819" stop-color="#ae0000"/><stop offset=".872" stop-color="#970000"/><stop offset="1" stop-color="#960000"/></linearGradient><linearGradient id="gc27" gradientUnits="userSpaceOnUse" x1="844" x2="1337.1" y1="0" y2="0"><stop offset="0" stop-color="#0000f2"/><stop offset=".185" stop-color="#0006ff"/><stop offset=".296" stop-color="#0019ff"/><stop offset=".395" stop-color="#0035ff"/><stop offset=".462" stop-color="#0055ff"/><stop offset=".537" stop-color="#009dff"/><stop offset=".614" stop-color="#01fffe"/><stop offset=".687" stop-color="#6dff92"/><stop offset=".706" stop-color="#94ff6b"/><stop offset=".742" stop-color="#fffc00"/><stop offset=".756" stop-color="#ff9500"/><stop offset=".785" stop-color="#fd0000"/><stop offset=".801" stop-color="#cd0000"/><stop offset=".813" stop-color="#b80000"/><stop offset=".874" stop-color="#970000"/><stop offset="1" stop-color="#960000"/></linearGradient><linearGradient id="gc28" gradientUnits="userSpaceOnUse" x1="844" x2="1337.1" y1="0" y2="0"><stop offset="0" stop-color="#0000f0"/><stop offset=".162" stop-color="#0001ff"/><stop offset=".298" stop-color="#0016ff"/><stop offset=".4" stop-color="#0033ff"/><stop offset=".466" stop-color="#0054ff"/><stop offset=".541" stop-color="#009eff"/><stop offset=".621" stop-color="#02fffd"/><stop offset=".677" stop-color="#51ffae"/><stop offset=".694" stop-color="#6fff90"/><stop offset=".71" stop-color="#92ff6d"/><stop offset=".744" stop-color="#fbff04"/><stop offset=".746" stop-color="#fff900"/><stop offset=".76" stop-color="#ff8e00"/><stop offset=".787" stop-color="#ff0100"/><stop offset=".803" stop-color="#d20000"/><stop offset=".815" stop-color="#bc0000"/><stop offset=".876" stop-color="#960000"/><stop offset="1" stop-color="#960000"/></linearGradient><linearGradient id="gc29" gradientUnits="userSpaceOnUse" x1="844" x2="1337.1" y1="0" y2="0"><stop offset="0" stop-color="#0000ed"/><stop offset=".18" stop-color="#0000ff"/><stop offset=".3" stop-color="#0013ff"/><stop offset=".404" stop-color="#0031ff"/><stop offset=".47" stop-color="#0053ff"/><stop offset=".548" stop-color="#00a0ff"/><stop offset=".627" stop-color="#03fffc"/><stop offset=".681" stop-color="#4fffb0"/><stop offset=".698" stop-color="#6dff92"/><stop offset=".714" stop-color="#8fff70"/><stop offset=".748" stop-color="#fdff02"/><stop offset=".75" stop-color="#fff500"/><stop offset=".765" stop-color="#ff8800"/><stop offset=".791" stop-color="#fc0000"/><stop offset=".807" stop-color="#d20000"/><stop offset=".819" stop-color="#bd0000"/><stop offset=".876" stop-color="#970000"/><stop offset="1" stop-color="#960000"/></linearGradient><linearGradient id="gc30" gradientUnits="userSpaceOnUse" x1="844" x2="1337.1" y1="0" y2="0"><stop offset="0" stop-color="#0000ea"/><stop offset=".199" stop-color="#0000ff"/><stop offset=".302" stop-color="#0010ff"/><stop offset=".406" stop-color="#002fff"/><stop offset=".475" stop-color="#0051ff"/><stop offset=".552" stop-color="#00a0ff"/><stop offset=".631" stop-color="#01fffe"/><stop offset=".687" stop-color="#4fffb0"/><stop offset=".716" stop-color="#88ff77"/><stop offset=".738" stop-color="#cbff34"/><stop offset=".752" stop-color="#ffff00"/><stop offset=".767" stop-color="#ff8d00"/><stop offset=".793" stop-color="#ff0000"/><stop offset=".809" stop-color="#d60000"/><stop offset=".821" stop-color="#c10000"/><stop offset=".878" stop-color="#970000"/><stop offset="1" stop-color="#960000"/></linearGradient><linearGradient id="gc31" gradientUnits="userSpaceOnUse" x1="844" x2="1337.1" y1="0" y2="0"><stop offset="0" stop-color="#0000e8"/><stop offset=".217" stop-color="#0000ff"/><stop offset=".306" stop-color="#000eff"/><stop offset=".41" stop-color="#002cff"/><stop offset=".479" stop-color="#0050ff"/><stop offset=".637" stop-color="#02fffd"/><stop offset=".692" stop-color="#4dffb2"/><stop offset=".72" stop-color="#86ff79"/><stop offset=".742" stop-color="#cbff34"/><stop offset=".756" stop-color="#fffd00"/><stop offset=".771" stop-color="#ff8600"/><stop offset=".795" stop-color="#ff0500"/><stop offset=".797" stop-color="#fc0000"/><stop offset=".813" stop-color="#d70000"/><stop offset=".829" stop-color="#be0000"/><stop offset=".88" stop-color="#970000"/><stop offset="1" stop-color="#960000"/></linearGradient><linearGradient id="gc32" gradientUnits="userSpaceOnUse" x1="844" x2="1337.1" y1="0" y2="0"><stop offset="0" stop-color="#0000e5"/><stop offset=".237" stop-color="#0000ff"/><stop offset=".308" stop-color="#000bff"/><stop offset=".414" stop-color="#002bff"/><stop offset=".483" stop-color="#004fff"/><stop offset=".641" stop-color="#00ffff"/><stop offset=".696" stop-color="#4affb5"/><stop offset=".724" stop-color="#83ff7c"/><stop offset=".746" stop-color="#cbff34"/><stop offset=".758" stop-color="#faff05"/><stop offset=".76" stop-color="#fff800"/><stop offset=".775" stop-color="#ff7f00"/><stop offset=".799" stop-color="#fe0000"/><stop offset=".834" stop-color="#be0000"/><stop offset=".882" stop-color="#970000"/><stop offset="1" stop-color="#960000"/></linearGradient><linearGradient id="gc33" gradientUnits="userSpaceOnUse" x1="844" x2="1337.1" y1="0" y2="0"><stop offset="0" stop-color="#0000e3"/><stop offset=".256" stop-color="#0000ff"/><stop offset=".31" stop-color="#0008ff"/><stop offset=".416" stop-color="#0028ff"/><stop offset=".487" stop-color="#004eff"/><stop offset=".647" stop-color="#01fffe"/><stop offset=".702" stop-color="#4bffb4"/><stop offset=".728" stop-color="#81ff7e"/><stop offset=".75" stop-color="#cbff34"/><stop offset=".763" stop-color="#fcff03"/><stop offset=".765" stop-color="#fff300"/><stop offset=".777" stop-color="#ff8400"/><stop offset=".801" stop-color="#ff0300"/><stop offset=".803" stop-color="#fc0000"/><stop offset=".836" stop-color="#c10000"/><stop offset=".884" stop-color="#970000"/><stop offset="1" stop-color="#960000"/></linearGradient><linearGradient id="gc34" gradientUnits="userSpaceOnUse" x1="844" x2="1337.1" y1="0" y2="0"><stop offset="0" stop-color="#0000e0"/><stop offset=".276" stop-color="#0000ff"/><stop offset=".42" stop-color="#0026ff"/><stop offset=".491" stop-color="#004dff"/><stop offset=".653" stop-color="#02fffd"/><stop offset=".706" stop-color="#48ffb7"/><stop offset=".732" stop-color="#7fff80"/><stop offset=".752" stop-color="#c3ff3c"/><stop offset=".767" stop-color="#feff01"/><stop offset=".769" stop-color="#ffee00"/><stop offset=".781" stop-color="#ff7d00"/><stop offset=".805" stop-color="#fe0000"/><stop offset=".838" stop-color="#c50000"/><stop offset=".886" stop-color="#960000"/><stop offset="1" stop-color="#960000"/></linearGradient><linearGradient id="gc35" gradientUnits="userSpaceOnUse" x1="844" x2="1337.1" y1="0" y2="0"><stop offset="0" stop-color="#0000dd"/><stop offset=".294" stop-color="#0000ff"/><stop offset=".424" stop-color="#0024ff"/><stop offset=".495" stop-color="#004cff"/><stop offset=".657" stop-color="#00ffff"/><stop offset=".71" stop-color="#47ffb8"/><stop offset=".736" stop-color="#7fff80"/><stop offset=".756" stop-color="#c6ff39"/><stop offset=".769" stop-color="#fbff04"/><stop offset=".771" stop-color="#fff700"/><stop offset=".783" stop-color="#ff8200"/><stop offset=".807" stop-color="#ff0100"/><stop offset=".842" stop-color="#c50000"/><stop offset=".888" stop-color="#990000"/><stop offset="1" stop-color="#990000"/></linearGradient><linearGradient id="gc36" gradientUnits="userSpaceOnUse" x1="844" x2="1337.1" y1="0" y2="0"><stop offset="0" stop-color="#0000d9"/><stop offset=".308" stop-color="#0000ff"/><stop offset=".426" stop-color="#0023ff"/><stop offset=".499" stop-color="#004cff"/><stop offset=".663" stop-color="#02fffd"/><stop offset=".714" stop-color="#48ffb7"/><stop offset=".734" stop-color="#73ff8c"/><stop offset=".742" stop-color="#88ff77"/><stop offset=".76" stop-color="#ccff33"/><stop offset=".771" stop-color="#fdff02"/><stop offset=".773" stop-color="#fff800"/><stop offset=".787" stop-color="#ff7700"/><stop offset=".809" stop-color="#ff0400"/><stop offset=".811" stop-color="#fd0000"/><stop offset=".844" stop-color="#c60000"/><stop offset=".888" stop-color="#9e0000"/><stop offset="1" stop-color="#9d0000"/></linearGradient><linearGradient id="gc37" gradientUnits="userSpaceOnUse" x1="844" x2="1337.1" y1="0" y2="0"><stop offset="0" stop-color="#0000d5"/><stop offset=".32" stop-color="#0000ff"/><stop offset=".43" stop-color="#0021ff"/><stop offset=".503" stop-color="#004bff"/><stop offset=".667" stop-color="#00ffff"/><stop offset=".718" stop-color="#49ffb6"/><stop offset=".738" stop-color="#75ff8a"/><stop offset=".752" stop-color="#a3ff5c"/><stop offset=".765" stop-color="#d3ff2c"/><stop offset=".773" stop-color="#fdff02"/><stop offset=".775" stop-color="#fff700"/><stop offset=".777" stop-color="#ffec00"/><stop offset=".789" stop-color="#ff7a00"/><stop offset=".813" stop-color="#fe0000"/><stop offset=".846" stop-color="#c80000"/><stop offset=".89" stop-color="#a20000"/><stop offset="1" stop-color="#a10000"/></linearGradient><linearGradient id="gc38" gradientUnits="userSpaceOnUse" x1="844" x2="1337.1" y1="0" y2="0"><stop offset="0" stop-color="#0000d1"/><stop offset=".331" stop-color="#0000ff"/><stop offset=".432" stop-color="#0020ff"/><stop offset=".507" stop-color="#004bff"/><stop offset=".673" stop-color="#02fffd"/><stop offset=".722" stop-color="#4affb5"/><stop offset=".74" stop-color="#72ff8d"/><stop offset=".748" stop-color="#87ff78"/><stop offset=".767" stop-color="#d0ff2f"/><stop offset=".775" stop-color="#fcff03"/><stop offset=".777" stop-color="#fff600"/><stop offset=".781" stop-color="#ffdd00"/><stop offset=".793" stop-color="#ff6f00"/><stop offset=".815" stop-color="#ff0000"/><stop offset=".848" stop-color="#c90000"/><stop offset=".892" stop-color="#a60000"/><stop offset="1" stop-color="#a60000"/></linearGradient><linearGradient id="gc39" gradientUnits="userSpaceOnUse" x1="844" x2="1337.1" y1="0" y2="0"><stop offset="0" stop-color="#0000ce"/><stop offset=".158" stop-color="#0000df"/><stop offset=".339" stop-color="#0000ff"/><stop offset=".436" stop-color="#001fff"/><stop offset=".511" stop-color="#004aff"/><stop offset=".677" stop-color="#01fffe"/><stop offset=".726" stop-color="#4bffb4"/><stop offset=".744" stop-color="#73ff8c"/><stop offset=".758" stop-color="#a3ff5c"/><stop offset=".771" stop-color="#d7ff28"/><stop offset=".777" stop-color="#fbff04"/><stop offset=".779" stop-color="#fff700"/><stop offset=".783" stop-color="#ffe100"/><stop offset=".795" stop-color="#ff7100"/><stop offset=".817" stop-color="#ff0100"/><stop offset=".85" stop-color="#cb0000"/><stop offset=".894" stop-color="#aa0000"/><stop offset="1" stop-color="#aa0000"/></linearGradient><linearGradient id="gc40" gradientUnits="userSpaceOnUse" x1="844" x2="1337.1" y1="0" y2="0"><stop offset="0" stop-color="#0000ca"/><stop offset=".158" stop-color="#0000dc"/><stop offset=".347" stop-color="#0000ff"/><stop offset=".44" stop-color="#001eff"/><stop offset=".513" stop-color="#0048ff"/><stop offset=".683" stop-color="#02fffd"/><stop offset=".73" stop-color="#4bffb4"/><stop offset=".748" stop-color="#75ff8a"/><stop offset=".763" stop-color="#a8ff57"/><stop offset=".773" stop-color="#d5ff2a"/><stop offset=".779" stop-color="#f9ff06"/><stop offset=".781" stop-color="#fff900"/><stop offset=".787" stop-color="#ffd200"/><stop offset=".799" stop-color="#ff6800"/><stop offset=".819" stop-color="#ff0400"/><stop offset=".821" stop-color="#fd0000"/><stop offset=".85" stop-color="#cf0000"/><stop offset=".894" stop-color="#af0000"/><stop offset="1" stop-color="#ae0000"/></linearGradient><linearGradient id="gc41" gradientUnits="userSpaceOnUse" x1="844" x2="1337.1" y1="0" y2="0"><stop offset="0" stop-color="#0000c6"/><stop offset=".16" stop-color="#0000d9"/><stop offset=".357" stop-color="#0000ff"/><stop offset=".442" stop-color="#001cff"/><stop offset=".517" stop-color="#0047ff"/><stop offset=".687" stop-color="#01fffe"/><stop offset=".728" stop-color="#41ffbe"/><stop offset=".752" stop-color="#76ff89"/><stop offset=".767" stop-color="#acff53"/><stop offset=".783" stop-color="#fffb00"/><stop offset=".789" stop-color="#ffd400"/><stop offset=".801" stop-color="#ff6900"/><stop offset=".823" stop-color="#fe0000"/><stop offset=".84" stop-color="#de0000"/><stop offset=".852" stop-color="#d00000"/><stop offset=".896" stop-color="#b30000"/><stop offset="1" stop-color="#b30000"/></linearGradient><linearGradient id="gc42" gradientUnits="userSpaceOnUse" x1="844" x2="1337.1" y1="0" y2="0"><stop offset="0" stop-color="#0000c3"/><stop offset=".16" stop-color="#0000d5"/><stop offset=".365" stop-color="#0000ff"/><stop offset=".446" stop-color="#001bff"/><stop offset=".521" stop-color="#0046ff"/><stop offset=".694" stop-color="#02fffd"/><stop offset=".732" stop-color="#41ffbe"/><stop offset=".756" stop-color="#78ff87"/><stop offset=".771" stop-color="#b1ff4e"/><stop offset=".781" stop-color="#e3ff1c"/><stop offset=".785" stop-color="#ffff00"/><stop offset=".793" stop-color="#ffc700"/><stop offset=".805" stop-color="#ff6000"/><stop offset=".825" stop-color="#ff0000"/><stop offset=".842" stop-color="#df0000"/><stop offset=".854" stop-color="#d10000"/><stop offset=".898" stop-color="#b70000"/><stop offset="1" stop-color="#b70000"/></linearGradient><linearGradient id="gc43" gradientUnits="userSpaceOnUse" x1="844" x2="1337.1" y1="0" y2="0"><stop offset="0" stop-color="#0000bf"/><stop offset=".162" stop-color="#0000d2"/><stop offset=".373" stop-color="#0000ff"/><stop offset=".448" stop-color="#0019ff"/><stop offset=".525" stop-color="#0046ff"/><stop offset=".621" stop-color="#00a6ff"/><stop offset=".698" stop-color="#01fffe"/><stop offset=".736" stop-color="#42ffbd"/><stop offset=".76" stop-color="#7aff85"/><stop offset=".775" stop-color="#b6ff49"/><stop offset=".787" stop-color="#fbff04"/><stop offset=".789" stop-color="#fff400"/><stop offset=".797" stop-color="#ffb800"/><stop offset=".807" stop-color="#ff6200"/><stop offset=".827" stop-color="#ff0100"/><stop offset=".846" stop-color="#dc0000"/><stop offset=".898" stop-color="#bc0000"/><stop offset="1" stop-color="#bb0000"/></linearGradient><linearGradient id="gc44" gradientUnits="userSpaceOnUse" x1="844" x2="1337.1" y1="0" y2="0"><stop offset="0" stop-color="#0000bb"/><stop offset=".162" stop-color="#0000cf"/><stop offset=".381" stop-color="#0000ff"/><stop offset=".404" stop-color="#0006ff"/><stop offset=".495" stop-color="#002cff"/><stop offset=".529" stop-color="#0045ff"/><stop offset=".625" stop-color="#00a5ff"/><stop offset=".704" stop-color="#02fffd"/><stop offset=".74" stop-color="#42ffbd"/><stop offset=".763" stop-color="#76ff89"/><stop offset=".777" stop-color="#b1ff4e"/><stop offset=".789" stop-color="#f5ff0a"/><stop offset=".791" stop-color="#fff900"/><stop offset=".811" stop-color="#ff5800"/><stop offset=".829" stop-color="#ff0400"/><stop offset=".831" stop-color="#fc0000"/><stop offset=".848" stop-color="#dc0000"/><stop offset=".9" stop-color="#c00000"/><stop offset="1" stop-color="#c00000"/></linearGradient><linearGradient id="gc45" gradientUnits="userSpaceOnUse" x1="844" x2="1337.1" y1="0" y2="0"><stop offset="0" stop-color="#0000b7"/><stop offset=".164" stop-color="#0000cb"/><stop offset=".408" stop-color="#0005ff"/><stop offset=".499" stop-color="#002aff"/><stop offset=".533" stop-color="#0044ff"/><stop offset=".629" stop-color="#00a3ff"/><stop offset=".708" stop-color="#01fffe"/><stop offset=".744" stop-color="#42ffbd"/><stop offset=".767" stop-color="#77ff88"/><stop offset=".781" stop-color="#b5ff4a"/><stop offset=".793" stop-color="#ffff00"/><stop offset=".813" stop-color="#ff5a00"/><stop offset=".834" stop-color="#fd0000"/><stop offset=".85" stop-color="#dc0000"/><stop offset=".902" stop-color="#c40000"/><stop offset="1" stop-color="#c40000"/></linearGradient><linearGradient id="gc46" gradientUnits="userSpaceOnUse" x1="844" x2="1337.1" y1="0" y2="0"><stop offset="0" stop-color="#0000b4"/><stop offset=".166" stop-color="#0000c8"/><stop offset=".41" stop-color="#0003ff"/><stop offset=".503" stop-color="#0029ff"/><stop offset=".535" stop-color="#0042ff"/><stop offset=".633" stop-color="#00a2ff"/><stop offset=".714" stop-color="#03fffc"/><stop offset=".748" stop-color="#42ffbd"/><stop offset=".771" stop-color="#79ff86"/><stop offset=".785" stop-color="#baff45"/><stop offset=".795" stop-color="#f8ff07"/><stop offset=".797" stop-color="#fff400"/><stop offset=".815" stop-color="#ff5d00"/><stop offset=".836" stop-color="#fe0000"/><stop offset=".852" stop-color="#dc0000"/><stop offset=".864" stop-color="#d60000"/><stop offset=".904" stop-color="#c90000"/><stop offset="1" stop-color="#c90000"/></linearGradient><linearGradient id="gc47" gradientUnits="userSpaceOnUse" x1="844" x2="1337.1" y1="0" y2="0"><stop offset="0" stop-color="#0000b0"/><stop offset=".166" stop-color="#0000c5"/><stop offset=".412" stop-color="#0001ff"/><stop offset=".505" stop-color="#0027ff"/><stop offset=".539" stop-color="#0041ff"/><stop offset=".639" stop-color="#00a3ff"/><stop offset=".718" stop-color="#01fffe"/><stop offset=".754" stop-color="#47ffb8"/><stop offset=".775" stop-color="#7aff85"/><stop offset=".789" stop-color="#bfff40"/><stop offset=".799" stop-color="#fffc00"/><stop offset=".807" stop-color="#ffb000"/><stop offset=".819" stop-color="#ff5200"/><stop offset=".838" stop-color="#ff0100"/><stop offset=".854" stop-color="#dd0000"/><stop offset=".866" stop-color="#d70000"/><stop offset=".907" stop-color="#cd0000"/><stop offset="1" stop-color="#cd0000"/></linearGradient><linearGradient id="gc48" gradientUnits="userSpaceOnUse" x1="844" x2="1337.1" y1="0" y2="0"><stop offset="0" stop-color="#0000ac"/><stop offset=".168" stop-color="#0000c2"/><stop offset=".418" stop-color="#0000ff"/><stop offset=".509" stop-color="#0025ff"/><stop offset=".544" stop-color="#0041ff"/><stop offset=".643" stop-color="#00a1ff"/><stop offset=".724" stop-color="#03fffc"/><stop offset=".758" stop-color="#47ffb8"/><stop offset=".779" stop-color="#7cff83"/><stop offset=".791" stop-color="#baff45"/><stop offset=".801" stop-color="#f9ff06"/><stop offset=".803" stop-color="#fff000"/><stop offset=".809" stop-color="#ffb400"/><stop offset=".821" stop-color="#ff5500"/><stop offset=".84" stop-color="#ff0300"/><stop offset=".842" stop-color="#fc0000"/><stop offset=".856" stop-color="#dd0000"/><stop offset=".868" stop-color="#d90000"/><stop offset=".907" stop-color="#d10000"/><stop offset="1" stop-color="#d10000"/></linearGradient><linearGradient id="gc49" gradientUnits="userSpaceOnUse" x1="844" x2="1337.1" y1="0" y2="0"><stop offset="0" stop-color="#0000a8"/><stop offset=".168" stop-color="#0000be"/><stop offset=".426" stop-color="#0000ff"/><stop offset=".513" stop-color="#0024ff"/><stop offset=".548" stop-color="#0040ff"/><stop offset=".647" stop-color="#00a0ff"/><stop offset=".728" stop-color="#01fffe"/><stop offset=".763" stop-color="#47ffb8"/><stop offset=".783" stop-color="#7dff82"/><stop offset=".795" stop-color="#bfff40"/><stop offset=".805" stop-color="#fffa00"/><stop offset=".813" stop-color="#ffa500"/><stop offset=".825" stop-color="#ff4a00"/><stop offset=".844" stop-color="#fd0000"/><stop offset=".86" stop-color="#dc0000"/><stop offset="1" stop-color="#d60000"/></linearGradient><linearGradient id="gc50" gradientUnits="userSpaceOnUse" x1="844" x2="1337.1" y1="0" y2="0"><stop offset="0" stop-color="#0000a5"/><stop offset=".17" stop-color="#0000bb"/><stop offset=".434" stop-color="#0001ff"/><stop offset=".517" stop-color="#0023ff"/><stop offset=".552" stop-color="#0040ff"/><stop offset=".651" stop-color="#009eff"/><stop offset=".734" stop-color="#03fffc"/><stop offset=".767" stop-color="#47ffb8"/><stop offset=".787" stop-color="#7fff80"/><stop offset=".799" stop-color="#c4ff3b"/><stop offset=".807" stop-color="#fbff04"/><stop offset=".809" stop-color="#ffee00"/><stop offset=".817" stop-color="#ff9800"/><stop offset=".827" stop-color="#ff4d00"/><stop offset=".846" stop-color="#fe0000"/><stop offset=".862" stop-color="#dc0000"/><stop offset="1" stop-color="#da0000"/></linearGradient><linearGradient id="gc51" gradientUnits="userSpaceOnUse" x1="844" x2="1337.1" y1="0" y2="0"><stop offset="0" stop-color="#0000a2"/><stop offset=".17" stop-color="#0000b7"/><stop offset=".44" stop-color="#0000ff"/><stop offset=".521" stop-color="#0021ff"/><stop offset=".588" stop-color="#0059ff"/><stop offset=".657" stop-color="#009dff"/><stop offset=".738" stop-color="#00ffff"/><stop offset=".771" stop-color="#46ffb9"/><stop offset=".791" stop-color="#80ff7f"/><stop offset=".809" stop-color="#f6ff09"/><stop offset=".811" stop-color="#fff800"/><stop offset=".819" stop-color="#ff9d00"/><stop offset=".829" stop-color="#ff5200"/><stop offset=".846" stop-color="#ff0b00"/><stop offset=".85" stop-color="#fd0000"/><stop offset=".864" stop-color="#e10000"/><stop offset="1" stop-color="#e10000"/></linearGradient><linearGradient id="gc52" gradientUnits="userSpaceOnUse" x1="844" x2="1337.1" y1="0" y2="0"><stop offset="0" stop-color="#00009f"/><stop offset=".172" stop-color="#0000b3"/><stop offset=".45" stop-color="#0001ff"/><stop offset=".525" stop-color="#0020ff"/><stop offset=".594" stop-color="#0057ff"/><stop offset=".663" stop-color="#009aff"/><stop offset=".744" stop-color="#00ffff"/><stop offset=".775" stop-color="#46ffb9"/><stop offset=".795" stop-color="#82ff7d"/><stop offset=".813" stop-color="#ffff00"/><stop offset=".821" stop-color="#ffa700"/><stop offset=".831" stop-color="#ff5b00"/><stop offset=".848" stop-color="#ff1000"/><stop offset=".854" stop-color="#ff0000"/><stop offset=".864" stop-color="#ec0000"/><stop offset="1" stop-color="#ec0000"/></linearGradient><linearGradient id="gc53" gradientUnits="userSpaceOnUse" x1="844" x2="1337.1" y1="0" y2="0"><stop offset="0" stop-color="#00009d"/><stop offset=".174" stop-color="#0000ae"/><stop offset=".458" stop-color="#0000ff"/><stop offset=".529" stop-color="#001eff"/><stop offset=".598" stop-color="#0053ff"/><stop offset=".679" stop-color="#00a2ff"/><stop offset=".75" stop-color="#00ffff"/><stop offset=".779" stop-color="#44ffbb"/><stop offset=".797" stop-color="#7bff84"/><stop offset=".801" stop-color="#91ff6e"/><stop offset=".815" stop-color="#faff05"/><stop offset=".817" stop-color="#fff200"/><stop offset=".825" stop-color="#ff9f00"/><stop offset=".836" stop-color="#ff5700"/><stop offset=".85" stop-color="#ff1400"/><stop offset=".86" stop-color="#fe0000"/><stop offset=".866" stop-color="#f60000"/><stop offset="1" stop-color="#f60000"/></linearGradient><linearGradient id="gc54" gradientUnits="userSpaceOnUse" x1="844" x2="1337.1" y1="0" y2="0"><stop offset="0" stop-color="#00009b"/><stop offset=".174" stop-color="#0000a9"/><stop offset=".466" stop-color="#0000ff"/><stop offset=".533" stop-color="#001cff"/><stop offset=".604" stop-color="#0052ff"/><stop offset=".685" stop-color="#009eff"/><stop offset=".756" stop-color="#00ffff"/><stop offset=".785" stop-color="#49ffb6"/><stop offset=".801" stop-color="#7bff84"/><stop offset=".803" stop-color="#84ff7b"/><stop offset=".817" stop-color="#f6ff09"/><stop offset=".819" stop-color="#fff900"/><stop offset=".827" stop-color="#ffa800"/><stop offset=".838" stop-color="#ff5f00"/><stop offset=".852" stop-color="#ff1a00"/><stop offset=".866" stop-color="#ff0200"/><stop offset="1" stop-color="#ff0200"/></linearGradient><linearGradient id="gc55" gradientUnits="userSpaceOnUse" x1="844" x2="1337.1" y1="0" y2="0"><stop offset="0" stop-color="#000099"/><stop offset=".17" stop-color="#0000a4"/><stop offset=".477" stop-color="#0001ff"/><stop offset=".537" stop-color="#001bff"/><stop offset=".61" stop-color="#0050ff"/><stop offset=".692" stop-color="#009aff"/><stop offset=".763" stop-color="#00ffff"/><stop offset=".789" stop-color="#47ffb8"/><stop offset=".805" stop-color="#7cff83"/><stop offset=".807" stop-color="#86ff79"/><stop offset=".821" stop-color="#ffff00"/><stop offset=".829" stop-color="#ffb000"/><stop offset=".84" stop-color="#ff6700"/><stop offset=".852" stop-color="#ff2600"/><stop offset=".866" stop-color="#ff1000"/><stop offset="1" stop-color="#ff0e00"/></linearGradient><linearGradient id="gc56" gradientUnits="userSpaceOnUse" x1="844" x2="1337.1" y1="0" y2="0"><stop offset="0" stop-color="#000097"/><stop offset=".172" stop-color="#00009f"/><stop offset=".485" stop-color="#0000ff"/><stop offset=".544" stop-color="#001aff"/><stop offset=".612" stop-color="#004bff"/><stop offset=".683" stop-color="#0088ff"/><stop offset=".742" stop-color="#00d3ff"/><stop offset=".769" stop-color="#00ffff"/><stop offset=".809" stop-color="#7dff82"/><stop offset=".811" stop-color="#89ff76"/><stop offset=".823" stop-color="#faff05"/><stop offset=".825" stop-color="#fff400"/><stop offset=".831" stop-color="#ffb900"/><stop offset=".84" stop-color="#ff7c00"/><stop offset=".854" stop-color="#ff2b00"/><stop offset=".868" stop-color="#ff1b00"/><stop offset="1" stop-color="#ff1b00"/></linearGradient><linearGradient id="gc57" gradientUnits="userSpaceOnUse" x1="844" x2="1337.1" y1="0" y2="0"><stop offset="0" stop-color="#000094"/><stop offset=".172" stop-color="#00009a"/><stop offset=".493" stop-color="#0000ff"/><stop offset=".548" stop-color="#0018ff"/><stop offset=".619" stop-color="#0048ff"/><stop offset=".69" stop-color="#0085ff"/><stop offset=".746" stop-color="#00ceff"/><stop offset=".775" stop-color="#00ffff"/><stop offset=".813" stop-color="#7dff82"/><stop offset=".825" stop-color="#f3ff0c"/><stop offset=".827" stop-color="#fffa00"/><stop offset=".842" stop-color="#ff8400"/><stop offset=".856" stop-color="#ff3200"/><stop offset=".87" stop-color="#ff2700"/><stop offset="1" stop-color="#ff2700"/></linearGradient><linearGradient id="gc58" gradientUnits="userSpaceOnUse" x1="844" x2="1337.1" y1="0" y2="0"><stop offset="0" stop-color="#000092"/><stop offset=".174" stop-color="#000096"/><stop offset=".501" stop-color="#0000ff"/><stop offset=".537" stop-color="#000eff"/><stop offset=".623" stop-color="#0045ff"/><stop offset=".708" stop-color="#008cff"/><stop offset=".754" stop-color="#00cfff"/><stop offset=".779" stop-color="#00fcff"/><stop offset=".781" stop-color="#01fffe"/><stop offset=".801" stop-color="#43ffbc"/><stop offset=".817" stop-color="#7eff81"/><stop offset=".829" stop-color="#ffff00"/><stop offset=".844" stop-color="#ff8c00"/><stop offset=".856" stop-color="#ff3c00"/><stop offset=".872" stop-color="#ff3400"/><stop offset="1" stop-color="#ff3400"/></linearGradient><linearGradient id="gc59" gradientUnits="userSpaceOnUse" x1="844" x2="1337.1" y1="0" y2="0"><stop offset="0" stop-color="#000090"/><stop offset=".176" stop-color="#000092"/><stop offset=".511" stop-color="#0000ff"/><stop offset=".541" stop-color="#000cff"/><stop offset=".627" stop-color="#0042ff"/><stop offset=".712" stop-color="#0086ff"/><stop offset=".758" stop-color="#00c9ff"/><stop offset=".785" stop-color="#00fbff"/><stop offset=".787" stop-color="#01fffe"/><stop offset=".821" stop-color="#7fff80"/><stop offset=".831" stop-color="#f7ff08"/><stop offset=".834" stop-color="#fff500"/><stop offset=".846" stop-color="#ff9500"/><stop offset=".858" stop-color="#ff4300"/><stop offset="1" stop-color="#ff4100"/></linearGradient><linearGradient id="gc60" gradientUnits="userSpaceOnUse" x1="844" x2="1337.1" y1="0" y2="0"><stop offset="0" stop-color="#00008f"/><stop offset=".176" stop-color="#00008f"/><stop offset=".515" stop-color="#0000ff"/><stop offset=".631" stop-color="#0041ff"/><stop offset=".718" stop-color="#0087ff"/><stop offset=".765" stop-color="#00caff"/><stop offset=".791" stop-color="#00feff"/><stop offset=".823" stop-color="#7eff81"/><stop offset=".825" stop-color="#8eff71"/><stop offset=".834" stop-color="#f4ff0b"/><stop offset=".836" stop-color="#fff700"/><stop offset=".858" stop-color="#ff4c00"/><stop offset="1" stop-color="#ff4a00"/></linearGradient><linearGradient id="gc61" gradientUnits="userSpaceOnUse" x1="844" x2="1337.1" y1="0" y2="0"><stop offset="0" stop-color="#00008f"/><stop offset=".178" stop-color="#00008f"/><stop offset=".312" stop-color="#0000b4"/><stop offset=".517" stop-color="#0000ff"/><stop offset=".635" stop-color="#0042ff"/><stop offset=".72" stop-color="#0088ff"/><stop offset=".767" stop-color="#00c9ff"/><stop offset=".795" stop-color="#00feff"/><stop offset=".825" stop-color="#82ff7d"/><stop offset=".827" stop-color="#92ff6d"/><stop offset=".836" stop-color="#f6ff09"/><stop offset=".838" stop-color="#fff600"/><stop offset=".858" stop-color="#ff5500"/><stop offset=".86" stop-color="#ff5000"/><stop offset="1" stop-color="#ff5000"/></linearGradient><linearGradient id="gc62" gradientUnits="userSpaceOnUse" x1="844" x2="1337.1" y1="0" y2="0"><stop offset="0" stop-color="#00008f"/><stop offset=".178" stop-color="#00008f"/><stop offset=".312" stop-color="#0000ae"/><stop offset=".519" stop-color="#0000ff"/><stop offset=".635" stop-color="#0041ff"/><stop offset=".724" stop-color="#008bff"/><stop offset=".771" stop-color="#00cbff"/><stop offset=".799" stop-color="#00ffff"/><stop offset=".827" stop-color="#87ff78"/><stop offset=".829" stop-color="#96ff69"/><stop offset=".838" stop-color="#f8ff07"/><stop offset=".84" stop-color="#fff500"/><stop offset=".854" stop-color="#ff7f00"/><stop offset=".86" stop-color="#ff5700"/><stop offset="1" stop-color="#ff5700"/></linearGradient><linearGradient id="gc63" gradientUnits="userSpaceOnUse" x1="844" x2="1337.1" y1="0" y2="0"><stop offset="0" stop-color="#00008f"/><stop offset=".178" stop-color="#00008f"/><stop offset=".314" stop-color="#0000aa"/><stop offset=".521" stop-color="#0000ff"/><stop offset=".639" stop-color="#0043ff"/><stop offset=".726" stop-color="#008cff"/><stop offset=".775" stop-color="#00cdff"/><stop offset=".801" stop-color="#00fcff"/><stop offset=".803" stop-color="#01fffe"/><stop offset=".829" stop-color="#8bff74"/><stop offset=".831" stop-color="#9aff65"/><stop offset=".84" stop-color="#f9ff06"/><stop offset=".842" stop-color="#fff400"/><stop offset=".854" stop-color="#ff8a00"/><stop offset=".86" stop-color="#ff5d00"/><stop offset="1" stop-color="#ff5d00"/></linearGradient><linearGradient id="gc64" gradientUnits="userSpaceOnUse" x1="844" x2="1337.1" y1="0" y2="0"><stop offset="0" stop-color="#00008f"/><stop offset=".178" stop-color="#00008f"/><stop offset=".314" stop-color="#0000a5"/><stop offset=".523" stop-color="#0000ff"/><stop offset=".641" stop-color="#0043ff"/><stop offset=".73" stop-color="#008eff"/><stop offset=".758" stop-color="#00b1ff"/><stop offset=".805" stop-color="#00fdff"/><stop offset=".807" stop-color="#03fffc"/><stop offset=".831" stop-color="#8fff70"/><stop offset=".834" stop-color="#9eff61"/><stop offset=".842" stop-color="#faff05"/><stop offset=".844" stop-color="#fff300"/><stop offset=".86" stop-color="#ff6300"/><stop offset="1" stop-color="#ff6300"/></linearGradient><linearGradient id="gc65" gradientUnits="userSpaceOnUse" x1="844" x2="1337.1" y1="0" y2="0"><stop offset="0" stop-color="#00008f"/><stop offset=".18" stop-color="#00008f"/><stop offset=".316" stop-color="#0000a0"/><stop offset=".525" stop-color="#0000ff"/><stop offset=".576" stop-color="#0018ff"/><stop offset=".643" stop-color="#0043ff"/><stop offset=".712" stop-color="#007dff"/><stop offset=".76" stop-color="#00afff"/><stop offset=".809" stop-color="#00fdff"/><stop offset=".811" stop-color="#06fff9"/><stop offset=".834" stop-color="#92ff6d"/><stop offset=".844" stop-color="#fbff04"/><stop offset=".846" stop-color="#fff100"/><stop offset=".858" stop-color="#ff7e00"/><stop offset=".86" stop-color="#ff6d00"/><stop offset=".862" stop-color="#ff6900"/><stop offset="1" stop-color="#ff6900"/></linearGradient><linearGradient id="gc66" gradientUnits="userSpaceOnUse" x1="844" x2="1337.1" y1="0" y2="0"><stop offset="0" stop-color="#00008f"/><stop offset=".18" stop-color="#00008f"/><stop offset=".318" stop-color="#00009b"/><stop offset=".527" stop-color="#0000ff"/><stop offset=".58" stop-color="#0019ff"/><stop offset=".647" stop-color="#0045ff"/><stop offset=".714" stop-color="#007eff"/><stop offset=".765" stop-color="#00b1ff"/><stop offset=".813" stop-color="#00feff"/><stop offset=".815" stop-color="#08fff7"/><stop offset=".836" stop-color="#96ff69"/><stop offset=".846" stop-color="#fcff03"/><stop offset=".858" stop-color="#ff8900"/><stop offset=".862" stop-color="#ff7000"/><stop offset="1" stop-color="#ff7000"/></linearGradient><linearGradient id="gc67" gradientUnits="userSpaceOnUse" x1="844" x2="1337.1" y1="0" y2="0"><stop offset="0" stop-color="#00008f"/><stop offset=".32" stop-color="#000096"/><stop offset=".529" stop-color="#0000ff"/><stop offset=".582" stop-color="#0019ff"/><stop offset=".649" stop-color="#0045ff"/><stop offset=".716" stop-color="#007fff"/><stop offset=".767" stop-color="#00b0ff"/><stop offset=".817" stop-color="#00feff"/><stop offset=".838" stop-color="#99ff66"/><stop offset=".848" stop-color="#feff01"/><stop offset=".858" stop-color="#ff9400"/><stop offset=".862" stop-color="#ff7600"/><stop offset="1" stop-color="#ff7600"/></linearGradient><linearGradient id="gc68" gradientUnits="userSpaceOnUse" x1="844" x2="1337.1" y1="0" y2="0"><stop offset="0" stop-color="#00008f"/><stop offset=".322" stop-color="#000092"/><stop offset=".531" stop-color="#0000ff"/><stop offset=".584" stop-color="#0019ff"/><stop offset=".651" stop-color="#0045ff"/><stop offset=".72" stop-color="#0081ff"/><stop offset=".771" stop-color="#00b2ff"/><stop offset=".821" stop-color="#00ffff"/><stop offset=".836" stop-color="#77ff88"/><stop offset=".85" stop-color="#fffe00"/><stop offset=".858" stop-color="#ffa100"/><stop offset=".862" stop-color="#ff7c00"/><stop offset="1" stop-color="#ff7c00"/></linearGradient><linearGradient id="gc69" gradientUnits="userSpaceOnUse" x1="844" x2="1337.1" y1="0" y2="0"><stop offset="0" stop-color="#00008f"/><stop offset=".322" stop-color="#00008f"/><stop offset=".537" stop-color="#0000ff"/><stop offset=".588" stop-color="#0018ff"/><stop offset=".655" stop-color="#0045ff"/><stop offset=".714" stop-color="#0078ff"/><stop offset=".775" stop-color="#00b2ff"/><stop offset=".823" stop-color="#00fdff"/><stop offset=".825" stop-color="#05fffa"/><stop offset=".84" stop-color="#86ff79"/><stop offset=".852" stop-color="#fffe00"/><stop offset=".86" stop-color="#ff9e00"/><stop offset=".862" stop-color="#ff8b00"/><stop offset=".864" stop-color="#ff8300"/><stop offset="1" stop-color="#ff8300"/></linearGradient><linearGradient id="gc70" gradientUnits="userSpaceOnUse" x1="844" x2="1337.1" y1="0" y2="0"><stop offset="0" stop-color="#00008f"/><stop offset=".324" stop-color="#00008f"/><stop offset=".404" stop-color="#0000b2"/><stop offset=".548" stop-color="#0000ff"/><stop offset=".657" stop-color="#0042ff"/><stop offset=".726" stop-color="#007dff"/><stop offset=".777" stop-color="#00aeff"/><stop offset=".827" stop-color="#00ffff"/><stop offset=".842" stop-color="#80ff7f"/><stop offset=".854" stop-color="#fcff03"/><stop offset=".856" stop-color="#ffea00"/><stop offset=".864" stop-color="#ff9000"/><stop offset=".866" stop-color="#ff8a00"/><stop offset="1" stop-color="#ff8a00"/></linearGradient><linearGradient id="gc71" gradientUnits="userSpaceOnUse" x1="844" x2="1337.1" y1="0" y2="0"><stop offset="0" stop-color="#00008f"/><stop offset=".324" stop-color="#00008f"/><stop offset=".404" stop-color="#0000ac"/><stop offset=".558" stop-color="#0000ff"/><stop offset=".659" stop-color="#003eff"/><stop offset=".728" stop-color="#0079ff"/><stop offset=".779" stop-color="#00aaff"/><stop offset=".829" stop-color="#00fdff"/><stop offset=".831" stop-color="#09fff6"/><stop offset=".844" stop-color="#7aff85"/><stop offset=".856" stop-color="#f8ff07"/><stop offset=".858" stop-color="#ffed00"/><stop offset=".866" stop-color="#ff9500"/><stop offset=".868" stop-color="#ff9100"/><stop offset="1" stop-color="#ff9100"/></linearGradient><linearGradient id="gc72" gradientUnits="userSpaceOnUse" x1="844" x2="1337.1" y1="0" y2="0"><stop offset="0" stop-color="#00008f"/><stop offset=".327" stop-color="#00008f"/><stop offset=".406" stop-color="#0000a7"/><stop offset=".568" stop-color="#0000ff"/><stop offset=".661" stop-color="#003bff"/><stop offset=".732" stop-color="#0077ff"/><stop offset=".781" stop-color="#00a5ff"/><stop offset=".831" stop-color="#00fbff"/><stop offset=".834" stop-color="#01fffe"/><stop offset=".848" stop-color="#88ff77"/><stop offset=".858" stop-color="#f4ff0b"/><stop offset=".86" stop-color="#fff100"/><stop offset=".868" stop-color="#ff9a00"/><stop offset="1" stop-color="#ff9800"/></linearGradient><linearGradient id="gc73" gradientUnits="userSpaceOnUse" x1="844" x2="1337.1" y1="0" y2="0"><stop offset="0" stop-color="#00008f"/><stop offset=".329" stop-color="#00008f"/><stop offset=".408" stop-color="#0000a2"/><stop offset=".576" stop-color="#0000ff"/><stop offset=".665" stop-color="#0039ff"/><stop offset=".783" stop-color="#00a1ff"/><stop offset=".817" stop-color="#00d7ff"/><stop offset=".836" stop-color="#00fdff"/><stop offset=".838" stop-color="#0cfff3"/><stop offset=".85" stop-color="#81ff7e"/><stop offset=".86" stop-color="#f1ff0e"/><stop offset=".862" stop-color="#fff500"/><stop offset=".87" stop-color="#ff9f00"/><stop offset="1" stop-color="#ff9f00"/></linearGradient><linearGradient id="gc74" gradientUnits="userSpaceOnUse" x1="844" x2="1337.1" y1="0" y2="0"><stop offset="0" stop-color="#00008f"/><stop offset=".329" stop-color="#00008f"/><stop offset=".408" stop-color="#00009c"/><stop offset=".584" stop-color="#0000ff"/><stop offset=".667" stop-color="#0035ff"/><stop offset=".785" stop-color="#009dff"/><stop offset=".819" stop-color="#00d4ff"/><stop offset=".838" stop-color="#00fcff"/><stop offset=".84" stop-color="#05fffa"/><stop offset=".852" stop-color="#7bff84"/><stop offset=".862" stop-color="#edff12"/><stop offset=".864" stop-color="#fff800"/><stop offset=".872" stop-color="#ffa600"/><stop offset="1" stop-color="#ffa600"/></linearGradient><linearGradient id="gc75" gradientUnits="userSpaceOnUse" x1="844" x2="1337.1" y1="0" y2="0"><stop offset="0" stop-color="#00008f"/><stop offset=".329" stop-color="#00008f"/><stop offset=".41" stop-color="#000097"/><stop offset=".477" stop-color="#0000c2"/><stop offset=".592" stop-color="#0000ff"/><stop offset=".645" stop-color="#0020ff"/><stop offset=".728" stop-color="#0060ff"/><stop offset=".789" stop-color="#009bff"/><stop offset=".823" stop-color="#00d3ff"/><stop offset=".842" stop-color="#00feff"/><stop offset=".854" stop-color="#75ff8a"/><stop offset=".866" stop-color="#fffc00"/><stop offset=".872" stop-color="#ffbc00"/><stop offset=".874" stop-color="#ffae00"/><stop offset="1" stop-color="#ffae00"/></linearGradient><linearGradient id="gc76" gradientUnits="userSpaceOnUse" x1="844" x2="1337.1" y1="0" y2="0"><stop offset="0" stop-color="#00008f"/><stop offset=".41" stop-color="#000091"/><stop offset=".479" stop-color="#0000be"/><stop offset=".6" stop-color="#0000ff"/><stop offset=".73" stop-color="#005cff"/><stop offset=".791" stop-color="#0097ff"/><stop offset=".825" stop-color="#00cfff"/><stop offset=".844" stop-color="#00fcff"/><stop offset=".846" stop-color="#08fff7"/><stop offset=".858" stop-color="#83ff7c"/><stop offset=".868" stop-color="#feff01"/><stop offset=".874" stop-color="#ffc000"/><stop offset=".876" stop-color="#ffb500"/><stop offset="1" stop-color="#ffb500"/></linearGradient><linearGradient id="gc77" gradientUnits="userSpaceOnUse" x1="844" x2="1337.1" y1="0" y2="0"><stop offset="0" stop-color="#00008f"/><stop offset=".412" stop-color="#00008f"/><stop offset=".606" stop-color="#0000ff"/><stop offset=".732" stop-color="#0059ff"/><stop offset=".793" stop-color="#0094ff"/><stop offset=".827" stop-color="#00cdff"/><stop offset=".846" stop-color="#00fbff"/><stop offset=".848" stop-color="#06fff9"/><stop offset=".86" stop-color="#81ff7e"/><stop offset=".87" stop-color="#fdff02"/><stop offset=".876" stop-color="#ffc100"/><stop offset=".878" stop-color="#ffbb00"/><stop offset="1" stop-color="#ffbb00"/></linearGradient><linearGradient id="gc78" gradientUnits="userSpaceOnUse" x1="844" x2="1337.1" y1="0" y2="0"><stop offset="0" stop-color="#00008f"/><stop offset=".412" stop-color="#00008f"/><stop offset=".612" stop-color="#0000ff"/><stop offset=".734" stop-color="#0056ff"/><stop offset=".795" stop-color="#0092ff"/><stop offset=".829" stop-color="#00ccff"/><stop offset=".848" stop-color="#00fcff"/><stop offset=".85" stop-color="#0afff5"/><stop offset=".86" stop-color="#6fff90"/><stop offset=".872" stop-color="#ffff00"/><stop offset=".878" stop-color="#ffbf00"/><stop offset="1" stop-color="#ffbf00"/></linearGradient><linearGradient id="gc79" gradientUnits="userSpaceOnUse" x1="844" x2="1337.1" y1="0" y2="0"><stop offset="0" stop-color="#00008f"/><stop offset=".414" stop-color="#00008f"/><stop offset=".505" stop-color="#0000bb"/><stop offset=".527" stop-color="#0000d1"/><stop offset=".617" stop-color="#0000ff"/><stop offset=".718" stop-color="#0044ff"/><stop offset=".781" stop-color="#007eff"/><stop offset=".797" stop-color="#0091ff"/><stop offset=".831" stop-color="#00cbff"/><stop offset=".85" stop-color="#00fdff"/><stop offset=".862" stop-color="#71ff8e"/><stop offset=".874" stop-color="#fffe00"/><stop offset=".878" stop-color="#ffd200"/><stop offset=".88" stop-color="#ffc400"/><stop offset="1" stop-color="#ffc400"/></linearGradient><linearGradient id="gc80" gradientUnits="userSpaceOnUse" x1="844" x2="1337.1" y1="0" y2="0"><stop offset="0" stop-color="#00008f"/><stop offset=".414" stop-color="#00008f"/><stop offset=".505" stop-color="#0000b6"/><stop offset=".529" stop-color="#0000d0"/><stop offset=".623" stop-color="#0000ff"/><stop offset=".72" stop-color="#0041ff"/><stop offset=".783" stop-color="#007cff"/><stop offset=".799" stop-color="#008fff"/><stop offset=".831" stop-color="#00c7ff"/><stop offset=".852" stop-color="#00ffff"/><stop offset=".864" stop-color="#73ff8c"/><stop offset=".876" stop-color="#fffc00"/><stop offset=".88" stop-color="#ffd000"/><stop offset=".882" stop-color="#ffc900"/><stop offset="1" stop-color="#ffc900"/></linearGradient><linearGradient id="gc81" gradientUnits="userSpaceOnUse" x1="844" x2="1337.1" y1="0" y2="0"><stop offset="0" stop-color="#00008f"/><stop offset=".416" stop-color="#00008f"/><stop offset=".507" stop-color="#0000b1"/><stop offset=".529" stop-color="#0000ce"/><stop offset=".627" stop-color="#0000ff"/><stop offset=".722" stop-color="#003eff"/><stop offset=".785" stop-color="#0079ff"/><stop offset=".801" stop-color="#008dff"/><stop offset=".834" stop-color="#00c6ff"/><stop offset=".852" stop-color="#00faff"/><stop offset=".854" stop-color="#03fffc"/><stop offset=".866" stop-color="#75ff8a"/><stop offset=".876" stop-color="#edff12"/><stop offset=".878" stop-color="#fff900"/><stop offset=".882" stop-color="#ffcd00"/><stop offset="1" stop-color="#ffcd00"/></linearGradient><linearGradient id="gc82" gradientUnits="userSpaceOnUse" x1="844" x2="1337.1" y1="0" y2="0"><stop offset="0" stop-color="#00008f"/><stop offset=".416" stop-color="#00008f"/><stop offset=".507" stop-color="#0000ab"/><stop offset=".531" stop-color="#0000ce"/><stop offset=".633" stop-color="#0000ff"/><stop offset=".722" stop-color="#003aff"/><stop offset=".785" stop-color="#0074ff"/><stop offset=".819" stop-color="#00a6ff"/><stop offset=".84" stop-color="#00cfff"/><stop offset=".854" stop-color="#00fbff"/><stop offset=".856" stop-color="#07fff8"/><stop offset=".868" stop-color="#77ff88"/><stop offset=".872" stop-color="#a2ff5d"/><stop offset=".878" stop-color="#efff10"/><stop offset=".88" stop-color="#fff600"/><stop offset=".884" stop-color="#ffd200"/><stop offset="1" stop-color="#ffd200"/></linearGradient><linearGradient id="gc83" gradientUnits="userSpaceOnUse" x1="844" x2="1337.1" y1="0" y2="0"><stop offset="0" stop-color="#00008f"/><stop offset=".418" stop-color="#00008f"/><stop offset=".509" stop-color="#0000a6"/><stop offset=".531" stop-color="#0000cc"/><stop offset=".639" stop-color="#0000ff"/><stop offset=".724" stop-color="#0037ff"/><stop offset=".787" stop-color="#0072ff"/><stop offset=".821" stop-color="#00a4ff"/><stop offset=".84" stop-color="#00caff"/><stop offset=".856" stop-color="#00fcff"/><stop offset=".858" stop-color="#0bfff4"/><stop offset=".87" stop-color="#79ff86"/><stop offset=".874" stop-color="#a4ff5b"/><stop offset=".88" stop-color="#f2ff0d"/><stop offset=".882" stop-color="#fff300"/><stop offset=".884" stop-color="#ffde00"/><stop offset=".886" stop-color="#ffd700"/><stop offset="1" stop-color="#ffd700"/></linearGradient><linearGradient id="gc84" gradientUnits="userSpaceOnUse" x1="844" x2="1337.1" y1="0" y2="0"><stop offset="0" stop-color="#00008f"/><stop offset=".418" stop-color="#00008f"/><stop offset=".509" stop-color="#0000a0"/><stop offset=".533" stop-color="#0000cb"/><stop offset=".645" stop-color="#0000ff"/><stop offset=".726" stop-color="#0034ff"/><stop offset=".789" stop-color="#006fff"/><stop offset=".821" stop-color="#009fff"/><stop offset=".842" stop-color="#00c9ff"/><stop offset=".858" stop-color="#00feff"/><stop offset=".874" stop-color="#8dff72"/><stop offset=".882" stop-color="#f5ff0a"/><stop offset=".884" stop-color="#fff000"/><stop offset=".886" stop-color="#ffdc00"/><stop offset="1" stop-color="#ffdc00"/></linearGradient><linearGradient id="gc85" gradientUnits="userSpaceOnUse" x1="844" x2="1337.1" y1="0" y2="0"><stop offset="0" stop-color="#00008f"/><stop offset=".418" stop-color="#00008f"/><stop offset=".509" stop-color="#00009b"/><stop offset=".533" stop-color="#0000c9"/><stop offset=".651" stop-color="#0000ff"/><stop offset=".726" stop-color="#002fff"/><stop offset=".789" stop-color="#006aff"/><stop offset=".823" stop-color="#009dff"/><stop offset=".844" stop-color="#00c9ff"/><stop offset=".86" stop-color="#00ffff"/><stop offset=".876" stop-color="#8dff72"/><stop offset=".884" stop-color="#f8ff07"/><stop offset=".886" stop-color="#ffee00"/><stop offset=".888" stop-color="#ffe000"/><stop offset="1" stop-color="#ffe000"/></linearGradient><linearGradient id="gc86" gradientUnits="userSpaceOnUse" x1="844" x2="1337.1" y1="0" y2="0"><stop offset="0" stop-color="#00008f"/><stop offset=".418" stop-color="#00008f"/><stop offset=".511" stop-color="#000096"/><stop offset=".535" stop-color="#0000c8"/><stop offset=".657" stop-color="#0000ff"/><stop offset=".728" stop-color="#002cff"/><stop offset=".791" stop-color="#0067ff"/><stop offset=".825" stop-color="#009cff"/><stop offset=".846" stop-color="#00c8ff"/><stop offset=".86" stop-color="#00faff"/><stop offset=".862" stop-color="#04fffb"/><stop offset=".876" stop-color="#7bff84"/><stop offset=".878" stop-color="#90ff6f"/><stop offset=".886" stop-color="#fcff03"/><stop offset=".888" stop-color="#ffec00"/><stop offset=".89" stop-color="#ffe500"/><stop offset="1" stop-color="#ffe500"/></linearGradient><linearGradient id="gc87" gradientUnits="userSpaceOnUse" x1="844" x2="1337.1" y1="0" y2="0"><stop offset="0" stop-color="#00008f"/><stop offset=".511" stop-color="#000091"/><stop offset=".535" stop-color="#0000c6"/><stop offset=".663" stop-color="#0000ff"/><stop offset=".73" stop-color="#002aff"/><stop offset=".793" stop-color="#0065ff"/><stop offset=".827" stop-color="#009bff"/><stop offset=".848" stop-color="#00c9ff"/><stop offset=".862" stop-color="#00fcff"/><stop offset=".864" stop-color="#09fff6"/><stop offset=".878" stop-color="#7cff83"/><stop offset=".888" stop-color="#fffc00"/><stop offset=".89" stop-color="#ffe900"/><stop offset="1" stop-color="#ffe900"/></linearGradient></defs><rect x="844" y="615" width="493.1" height="6" fill="url(#gc0)"/><rect x="844" y="620" width="493.1" height="6" fill="url(#gc1)"/><rect x="844" y="625" width="493.1" height="6" fill="url(#gc2)"/><rect x="844" y="630" width="493.1" height="6" fill="url(#gc3)"/><rect x="844" y="635" width="493.1" height="6" fill="url(#gc4)"/><rect x="844" y="640" width="493.1" height="6" fill="url(#gc5)"/><rect x="844" y="645" width="493.1" height="6" fill="url(#gc6)"/><rect x="844" y="650" width="493.1" height="6" fill="url(#gc7)"/><rect x="844" y="655" width="493.1" height="6" fill="url(#gc8)"/><rect x="844" y="660" width="493.1" height="6" fill="url(#gc9)"/><rect x="844" y="665" width="493.1" height="6" fill="url(#gc10)"/><rect x="844" y="670" width="493.1" height="6" fill="url(#gc11)"/><rect x="844" y="675" width="493.1" height="6" fill="url(#gc12)"/><rect x="844" y="680" width="493.1" height="6" fill="url(#gc13)"/><rect x="844" y="685" width="493.1" height="6" fill="url(#gc14)"/><rect x="844" y="690" width="493.1" height="6" fill="url(#gc15)"/><rect x="844" y="695" width="493.1" height="6" fill="url(#gc16)"/><rect x="844" y="700" width="493.1" height="6" fill="url(#gc17)"/><rect x="844" y="705" width="493.1" height="6" fill="url(#gc18)"/><rect x="844" y="710" width="493.1" height="6" fill="url(#gc19)"/><rect x="844" y="715" width="493.1" height="6" fill="url(#gc20)"/><rect x="844" y="720" width="493.1" height="6" fill="url(#gc21)"/><rect x="844" y="725" width="493.1" height="6" fill="url(#gc22)"/><rect x="844" y="730" width="493.1" height="6" fill="url(#gc23)"/><rect x="844" y="735" width="493.1" height="6" fill="url(#gc24)"/><rect x="844" y="740" width="493.1" height="6" fill="url(#gc25)"/><rect x="844" y="745" width="493.1" height="6" fill="url(#gc26)"/><rect x="844" y="750" width="493.1" height="6" fill="url(#gc27)"/><rect x="844" y="755" width="493.1" height="6" fill="url(#gc28)"/><rect x="844" y="760" width="493.1" height="6" fill="url(#gc29)"/><rect x="844" y="765" width="493.1" height="6" fill="url(#gc30)"/><rect x="844" y="770" width="493.1" height="6" fill="url(#gc31)"/><rect x="844" y="775" width="493.1" height="6" fill="url(#gc32)"/><rect x="844" y="780" width="493.1" height="6" fill="url(#gc33)"/><rect x="844" y="785" width="493.1" height="6" fill="url(#gc34)"/><rect x="844" y="790" width="493.1" height="6" fill="url(#gc35)"/><rect x="844" y="795" width="493.1" height="6" fill="url(#gc36)"/><rect x="844" y="800" width="493.1" height="6" fill="url(#gc37)"/><rect x="844" y="805" width="493.1" height="6" fill="url(#gc38)"/><rect x="844" y="810" width="493.1" height="6" fill="url(#gc39)"/><rect x="844" y="815" width="493.1" height="6" fill="url(#gc40)"/><rect x="844" y="820" width="493.1" height="6" fill="url(#gc41)"/><rect x="844" y="825" width="493.1" height="6" fill="url(#gc42)"/><rect x="844" y="830" width="493.1" height="6" fill="url(#gc43)"/><rect x="844" y="835" width="493.1" height="6" fill="url(#gc44)"/><rect x="844" y="840" width="493.1" height="6" fill="url(#gc45)"/><rect x="844" y="845" width="493.1" height="6" fill="url(#gc46)"/><rect x="844" y="850" width="493.1" height="6" fill="url(#gc47)"/><rect x="844" y="855" width="493.1" height="6" fill="url(#gc48)"/><rect x="844" y="860" width="493.1" height="6" fill="url(#gc49)"/><rect x="844" y="865" width="493.1" height="6" fill="url(#gc50)"/><rect x="844" y="870" width="493.1" height="6" fill="url(#gc51)"/><rect x="844" y="875" width="493.1" height="6" fill="url(#gc52)"/><rect x="844" y="880" width="493.1" height="6" fill="url(#gc53)"/><rect x="844" y="885" width="493.1" height="6" fill="url(#gc54)"/><rect x="844" y="890" width="493.1" height="6" fill="url(#gc55)"/><rect x="844" y="895" width="493.1" height="6" fill="url(#gc56)"/><rect x="844" y="900" width="493.1" height="6" fill="url(#gc57)"/><rect x="844" y="905" width="493.1" height="6" fill="url(#gc58)"/><rect x="844" y="910" width="493.1" height="6" fill="url(#gc59)"/><rect x="844" y="915" width="493.1" height="6" fill="url(#gc60)"/><rect x="844" y="920" width="493.1" height="6" fill="url(#gc61)"/><rect x="844" y="925" width="493.1" height="6" fill="url(#gc62)"/><rect x="844" y="930" width="493.1" height="6" fill="url(#gc63)"/><rect x="844" y="935" width="493.1" height="6" fill="url(#gc64)"/><rect x="844" y="940" width="493.1" height="6" fill="url(#gc65)"/><rect x="844" y="945" width="493.1" height="6" fill="url(#gc66)"/><rect x="844" y="950" width="493.1" height="6" fill="url(#gc67)"/><rect x="844" y="955" width="493.1" height="6" fill="url(#gc68)"/><rect x="844" y="960" width="493.1" height="6" fill="url(#gc69)"/><rect x="844" y="965" width="493.1" height="6" fill="url(#gc70)"/><rect x="844" y="970" width="493.1" height="6" fill="url(#gc71)"/><rect x="844" y="975" width="493.1" height="6" fill="url(#gc72)"/><rect x="844" y="980" width="493.1" height="6" fill="url(#gc73)"/><rect x="844" y="985" width="493.1" height="6" fill="url(#gc74)"/><rect x="844" y="990" width="493.1" height="6" fill="url(#gc75)"/><rect x="844" y="995" width="493.1" height="6" fill="url(#gc76)"/><rect x="844" y="1000" width="493.1" height="6" fill="url(#gc77)"/><rect x="844" y="1005" width="493.1" height="6" fill="url(#gc78)"/><rect x="844" y="1010" width="493.1" height="6" fill="url(#gc79)"/><rect x="844" y="1015" width="493.1" height="6" fill="url(#gc80)"/><rect x="844" y="1020" width="493.1" height="6" fill="url(#gc81)"/><rect x="844" y="1025" width="493.1" height="6" fill="url(#gc82)"/><rect x="844" y="1030" width="493.1" height="6" fill="url(#gc83)"/><rect x="844" y="1035" width="493.1" height="6" fill="url(#gc84)"/><rect x="844" y="1040" width="493.1" height="6" fill="url(#gc85)"/><rect x="844" y="1045" width="493.1" height="6" fill="url(#gc86)"/><rect x="844" y="1050" width="493.1" height="4" fill="url(#gc87)"/><polygon points="843.9,1054.2 843.9,890.1 873.8,895.2 891.1,899.3 915.6,907.4 944.1,921.7 972.7,939 999.1,956.4 1023.6,976.7 1046,999.1 1068.4,1023.6 1084.7,1042 1097,1054.2" fill="#9a0000"/><polygon points="843.9,1054.2 843.9,900.4 871.9,905.1 888.1,909 911.1,916.6 937.8,930 964.7,946.2 989.4,962.5 1012.4,981.5 1033.4,1002.5 1054.4,1025.5 1069.7,1042.8 1081.2,1054.2" fill="#a20000"/><polygon points="843.9,1054.2 843.9,910.6 870.1,915.1 885.2,918.7 906.6,925.8 931.6,938.3 956.6,953.4 979.7,968.6 1001.1,986.4 1020.7,1006 1040.3,1027.4 1054.6,1043.5 1065.4,1054.2" fill="#aa0000"/><polygon points="843.9,1054.2 843.9,920.9 868.2,925 882.2,928.3 902.2,934.9 925.3,946.5 948.6,960.6 970,974.7 989.9,991.2 1008.1,1009.4 1026.3,1029.3 1039.5,1044.3 1049.5,1054.2" fill="#b10000"/><polygon points="843.9,1054.2 843.9,931.1 866.3,935 879.3,938 897.7,944.1 919,954.8 940.5,967.8 960.3,980.9 978.7,996.1 995.5,1012.9 1012.3,1031.2 1024.5,1045 1033.7,1054.2" fill="#b90000"/><polygon points="843.9,1054.2 843.9,941.4 864.5,944.9 876.4,947.7 893.2,953.3 912.8,963.1 932.5,975 950.6,987 967.4,1000.9 982.8,1016.3 998.2,1033.2 1009.5,1045.8 1017.9,1054.2" fill="#c00000"/><polygon points="843.9,1054.2 843.9,951.6 862.6,954.8 873.4,957.4 888.7,962.5 906.5,971.4 924.4,982.2 940.9,993.1 956.2,1005.8 970.2,1019.8 984.2,1035.1 994.4,1046.6 1002.1,1054.2" fill="#c60000"/><polygon points="843.9,1054.2 843.9,961.9 860.7,964.8 870.5,967.1 884.2,971.6 900.3,979.7 916.4,989.4 931.2,999.2 945,1010.6 957.6,1023.2 970.2,1037 979.4,1047.3 986.3,1054.2" fill="#cd0000"/><polygon points="843.9,1054.2 843.9,972.2 858.8,974.7 867.5,976.8 879.8,980.8 894,988 908.3,996.6 921.5,1005.3 933.8,1015.5 945,1026.7 956.2,1038.9 964.3,1048.1 970.5,1054.2" fill="#d40000"/><polygon points="843.9,1054.2 843.9,982.4 857,984.6 864.5,986.4 875.3,990 887.7,996.2 900.2,1003.8 911.8,1011.4 922.5,1020.3 932.3,1030.1 942.1,1040.8 949.2,1048.9 954.6,1054.2" fill="#da0000"/><polygon points="843.9,1054.2 843.9,992.7 855.1,994.6 861.6,996.1 870.8,999.1 881.5,1004.5 892.2,1011 902.1,1017.5 911.3,1025.1 919.7,1033.5 928.1,1042.7 934.2,1049.6 938.8,1054.2" fill="#e00000"/><polygon points="843.9,1054.2 843.9,1002.9 853.2,1004.5 858.6,1005.8 866.3,1008.3 875.2,1012.8 884.1,1018.2 892.4,1023.6 900.1,1030 907.1,1037 914.1,1044.6 919.1,1050.4 923,1054.2" fill="#e50000"/><polygon points="843.9,1054.2 843.9,1013.2 851.4,1014.5 855.7,1015.5 861.8,1017.5 869,1021.1 876.1,1025.4 882.7,1029.8 888.8,1034.8 894.4,1040.4 900,1046.5 904.1,1051.2 907.2,1054.2" fill="#eb0000"/><polygon points="843.9,1054.2 843.9,1023.4 849.5,1024.4 852.8,1025.2 857.3,1026.7 862.7,1029.4 868,1032.6 873,1035.9 877.6,1039.7 881.8,1043.9 886,1048.5 889,1051.9 891.4,1054.2" fill="#ef0000"/><polygon points="843.9,1054.2 843.9,1033.7 847.6,1034.3 849.8,1034.8 852.9,1035.9 856.4,1037.6 860,1039.8 863.3,1042 866.4,1044.5 869.2,1047.3 872,1050.4 874,1052.7 875.5,1054.2" fill="#f40000"/><polygon points="843.9,1054.2 843.9,1043.9 845.8,1044.3 846.9,1044.5 848.4,1045 850.2,1045.9 851.9,1047 853.6,1048.1 855.1,1049.4 856.5,1050.8 857.9,1052.3 858.9,1053.4 859.7,1054.2" fill="#f70000"/><defs><linearGradient id="gB0" gradientUnits="userSpaceOnUse" x1="1200" x2="1337.1" y1="0" y2="0"><stop offset="0" stop-color="#00008f"/><stop offset=".036" stop-color="#000090"/><stop offset=".182" stop-color="#0000fb"/><stop offset=".197" stop-color="#0001ff"/><stop offset=".401" stop-color="#0031ff"/><stop offset="1" stop-color="#0061ff"/></linearGradient><linearGradient id="gB1" gradientUnits="userSpaceOnUse" x1="1200" x2="1337.1" y1="0" y2="0"><stop offset="0" stop-color="#00008f"/><stop offset=".051" stop-color="#00008f"/><stop offset=".197" stop-color="#0000f6"/><stop offset=".226" stop-color="#0000fe"/><stop offset=".416" stop-color="#002dff"/><stop offset="1" stop-color="#005cff"/></linearGradient><linearGradient id="gB2" gradientUnits="userSpaceOnUse" x1="1200" x2="1337.1" y1="0" y2="0"><stop offset="0" stop-color="#00008f"/><stop offset=".073" stop-color="#000090"/><stop offset=".212" stop-color="#0000f1"/><stop offset=".263" stop-color="#0000ff"/><stop offset=".423" stop-color="#0027ff"/><stop offset="1" stop-color="#0056ff"/></linearGradient><linearGradient id="gB3" gradientUnits="userSpaceOnUse" x1="1200" x2="1337.1" y1="0" y2="0"><stop offset="0" stop-color="#00008f"/><stop offset=".088" stop-color="#000091"/><stop offset=".226" stop-color="#0000ef"/><stop offset=".292" stop-color="#0001ff"/><stop offset=".438" stop-color="#0023ff"/><stop offset="1" stop-color="#0051ff"/></linearGradient><linearGradient id="gB4" gradientUnits="userSpaceOnUse" x1="1200" x2="1337.1" y1="0" y2="0"><stop offset="0" stop-color="#00008f"/><stop offset=".095" stop-color="#00008f"/><stop offset=".241" stop-color="#0000ec"/><stop offset=".314" stop-color="#0000ff"/><stop offset=".445" stop-color="#001eff"/><stop offset="1" stop-color="#004cff"/></linearGradient><linearGradient id="gB5" gradientUnits="userSpaceOnUse" x1="1200" x2="1337.1" y1="0" y2="0"><stop offset="0" stop-color="#00008f"/><stop offset=".109" stop-color="#00008f"/><stop offset=".248" stop-color="#0000e7"/><stop offset=".336" stop-color="#0000fe"/><stop offset=".452" stop-color="#0019ff"/><stop offset="1" stop-color="#0046ff"/></linearGradient><linearGradient id="gB6" gradientUnits="userSpaceOnUse" x1="1200" x2="1337.1" y1="0" y2="0"><stop offset="0" stop-color="#00008f"/><stop offset=".124" stop-color="#000090"/><stop offset=".255" stop-color="#0000e1"/><stop offset=".365" stop-color="#0001ff"/><stop offset=".46" stop-color="#0015ff"/><stop offset="1" stop-color="#0041ff"/></linearGradient><linearGradient id="gB7" gradientUnits="userSpaceOnUse" x1="1200" x2="1337.1" y1="0" y2="0"><stop offset="0" stop-color="#00008f"/><stop offset=".131" stop-color="#00008f"/><stop offset=".27" stop-color="#0000df"/><stop offset=".379" stop-color="#0000fe"/><stop offset=".467" stop-color="#0010ff"/><stop offset="1" stop-color="#003cff"/></linearGradient><linearGradient id="gB8" gradientUnits="userSpaceOnUse" x1="1200" x2="1337.1" y1="0" y2="0"><stop offset="0" stop-color="#00008f"/><stop offset=".146" stop-color="#00008f"/><stop offset=".277" stop-color="#0000d9"/><stop offset=".401" stop-color="#0000ff"/><stop offset="1" stop-color="#0036ff"/></linearGradient><linearGradient id="gB9" gradientUnits="userSpaceOnUse" x1="1200" x2="1337.1" y1="0" y2="0"><stop offset="0" stop-color="#00008f"/><stop offset=".16" stop-color="#00008f"/><stop offset=".292" stop-color="#0000d6"/><stop offset=".438" stop-color="#0000ff"/><stop offset="1" stop-color="#0031ff"/></linearGradient><linearGradient id="gB10" gradientUnits="userSpaceOnUse" x1="1200" x2="1337.1" y1="0" y2="0"><stop offset="0" stop-color="#00008f"/><stop offset=".175" stop-color="#000090"/><stop offset=".306" stop-color="#0000d3"/><stop offset=".423" stop-color="#0000f8"/><stop offset=".474" stop-color="#0000fe"/><stop offset="1" stop-color="#002cff"/></linearGradient><linearGradient id="gB11" gradientUnits="userSpaceOnUse" x1="1200" x2="1337.1" y1="0" y2="0"><stop offset="0" stop-color="#00008f"/><stop offset=".19" stop-color="#00008f"/><stop offset=".314" stop-color="#0000cc"/><stop offset=".438" stop-color="#0000f5"/><stop offset=".54" stop-color="#0000ff"/><stop offset="1" stop-color="#0026ff"/></linearGradient><linearGradient id="gB12" gradientUnits="userSpaceOnUse" x1="1200" x2="1337.1" y1="0" y2="0"><stop offset="0" stop-color="#00008f"/><stop offset=".204" stop-color="#00008f"/><stop offset=".328" stop-color="#0000c9"/><stop offset=".445" stop-color="#0000f1"/><stop offset=".605" stop-color="#0000ff"/><stop offset="1" stop-color="#0021ff"/></linearGradient><linearGradient id="gB13" gradientUnits="userSpaceOnUse" x1="1200" x2="1337.1" y1="0" y2="0"><stop offset="0" stop-color="#00008f"/><stop offset=".219" stop-color="#00008f"/><stop offset=".46" stop-color="#0000ee"/><stop offset=".671" stop-color="#0000ff"/><stop offset="1" stop-color="#001cff"/></linearGradient><linearGradient id="gB14" gradientUnits="userSpaceOnUse" x1="1200" x2="1337.1" y1="0" y2="0"><stop offset="0" stop-color="#00008f"/><stop offset=".233" stop-color="#00008f"/><stop offset=".467" stop-color="#0000eb"/><stop offset=".737" stop-color="#0000ff"/><stop offset="1" stop-color="#0016ff"/></linearGradient><linearGradient id="gB15" gradientUnits="userSpaceOnUse" x1="1200" x2="1337.1" y1="0" y2="0"><stop offset="0" stop-color="#00008f"/><stop offset=".248" stop-color="#00008f"/><stop offset=".481" stop-color="#0000e7"/><stop offset=".795" stop-color="#0000ff"/><stop offset="1" stop-color="#0012ff"/></linearGradient><linearGradient id="gB16" gradientUnits="userSpaceOnUse" x1="1200" x2="1337.1" y1="0" y2="0"><stop offset="0" stop-color="#00008f"/><stop offset=".263" stop-color="#00008f"/><stop offset=".489" stop-color="#0000e1"/><stop offset=".839" stop-color="#0000ff"/><stop offset="1" stop-color="#000eff"/></linearGradient><linearGradient id="gB17" gradientUnits="userSpaceOnUse" x1="1200" x2="1337.1" y1="0" y2="0"><stop offset="0" stop-color="#00008f"/><stop offset=".284" stop-color="#00008f"/><stop offset=".503" stop-color="#0000dd"/><stop offset=".883" stop-color="#0000ff"/><stop offset="1" stop-color="#000aff"/></linearGradient><linearGradient id="gB18" gradientUnits="userSpaceOnUse" x1="1200" x2="1337.1" y1="0" y2="0"><stop offset="0" stop-color="#00008f"/><stop offset=".299" stop-color="#00008f"/><stop offset=".511" stop-color="#0000d7"/><stop offset=".576" stop-color="#0000e1"/><stop offset=".926" stop-color="#0000ff"/><stop offset="1" stop-color="#0007ff"/></linearGradient><linearGradient id="gB19" gradientUnits="userSpaceOnUse" x1="1200" x2="1337.1" y1="0" y2="0"><stop offset="0" stop-color="#00008f"/><stop offset=".321" stop-color="#00008f"/><stop offset=".525" stop-color="#0000d2"/><stop offset=".591" stop-color="#0000de"/><stop offset="1" stop-color="#0003ff"/></linearGradient><linearGradient id="gB20" gradientUnits="userSpaceOnUse" x1="1200" x2="1337.1" y1="0" y2="0"><stop offset="0" stop-color="#00008f"/><stop offset=".343" stop-color="#00008f"/><stop offset=".605" stop-color="#0000db"/><stop offset="1" stop-color="#0000fe"/></linearGradient><linearGradient id="gB21" gradientUnits="userSpaceOnUse" x1="1200" x2="1337.1" y1="0" y2="0"><stop offset="0" stop-color="#00008f"/><stop offset=".365" stop-color="#00008f"/><stop offset=".62" stop-color="#0000d8"/><stop offset="1" stop-color="#0000fb"/></linearGradient><linearGradient id="gB22" gradientUnits="userSpaceOnUse" x1="1200" x2="1337.1" y1="0" y2="0"><stop offset="0" stop-color="#00008f"/><stop offset=".387" stop-color="#00008f"/><stop offset=".635" stop-color="#0000d5"/><stop offset="1" stop-color="#0000f8"/></linearGradient><linearGradient id="gB23" gradientUnits="userSpaceOnUse" x1="1200" x2="1337.1" y1="0" y2="0"><stop offset="0" stop-color="#00008f"/><stop offset=".408" stop-color="#00008f"/><stop offset=".649" stop-color="#0000ce"/><stop offset="1" stop-color="#0000f0"/></linearGradient><linearGradient id="gB24" gradientUnits="userSpaceOnUse" x1="1200" x2="1337.1" y1="0" y2="0"><stop offset="0" stop-color="#00008f"/><stop offset=".438" stop-color="#00008f"/><stop offset=".664" stop-color="#0000c6"/><stop offset="1" stop-color="#0000e9"/></linearGradient><linearGradient id="gB25" gradientUnits="userSpaceOnUse" x1="1200" x2="1337.1" y1="0" y2="0"><stop offset="0" stop-color="#00008f"/><stop offset=".467" stop-color="#00008f"/><stop offset=".678" stop-color="#0000bf"/><stop offset="1" stop-color="#0000e1"/></linearGradient><linearGradient id="gB26" gradientUnits="userSpaceOnUse" x1="1200" x2="1337.1" y1="0" y2="0"><stop offset="0" stop-color="#00008f"/><stop offset=".496" stop-color="#00008f"/><stop offset=".7" stop-color="#0000b8"/><stop offset="1" stop-color="#0000da"/></linearGradient><linearGradient id="gB27" gradientUnits="userSpaceOnUse" x1="1200" x2="1337.1" y1="0" y2="0"><stop offset="0" stop-color="#00008f"/><stop offset=".525" stop-color="#00008f"/><stop offset=".715" stop-color="#0000b0"/><stop offset="1" stop-color="#0000d2"/></linearGradient><linearGradient id="gB28" gradientUnits="userSpaceOnUse" x1="1200" x2="1337.1" y1="0" y2="0"><stop offset="0" stop-color="#00008f"/><stop offset=".569" stop-color="#00008f"/><stop offset="1" stop-color="#0000cb"/></linearGradient><linearGradient id="gB29" gradientUnits="userSpaceOnUse" x1="1200" x2="1337.1" y1="0" y2="0"><stop offset="0" stop-color="#00008f"/><stop offset=".605" stop-color="#00008f"/><stop offset="1" stop-color="#0000c3"/></linearGradient><linearGradient id="gB30" gradientUnits="userSpaceOnUse" x1="1200" x2="1337.1" y1="0" y2="0"><stop offset="0" stop-color="#00008f"/><stop offset=".642" stop-color="#00008f"/><stop offset="1" stop-color="#0000bc"/></linearGradient><linearGradient id="gB31" gradientUnits="userSpaceOnUse" x1="1200" x2="1337.1" y1="0" y2="0"><stop offset="0" stop-color="#00008f"/><stop offset=".686" stop-color="#00008f"/><stop offset="1" stop-color="#0000b5"/></linearGradient><linearGradient id="gB32" gradientUnits="userSpaceOnUse" x1="1200" x2="1337.1" y1="0" y2="0"><stop offset="0" stop-color="#00008f"/><stop offset=".729" stop-color="#00008f"/><stop offset="1" stop-color="#0000ad"/></linearGradient><linearGradient id="gB33" gradientUnits="userSpaceOnUse" x1="1200" x2="1337.1" y1="0" y2="0"><stop offset="0" stop-color="#00008f"/><stop offset=".773" stop-color="#00008f"/><stop offset="1" stop-color="#0000a6"/></linearGradient><linearGradient id="gB34" gradientUnits="userSpaceOnUse" x1="1200" x2="1337.1" y1="0" y2="0"><stop offset="0" stop-color="#00008f"/><stop offset=".817" stop-color="#00008f"/><stop offset="1" stop-color="#00009f"/></linearGradient><linearGradient id="gB35" gradientUnits="userSpaceOnUse" x1="1200" x2="1337.1" y1="0" y2="0"><stop offset="0" stop-color="#00008f"/><stop offset=".861" stop-color="#00008f"/><stop offset="1" stop-color="#000098"/></linearGradient><clipPath id="clB"><polygon points="1203.6,615 1209.6,629.6 1214.2,644.6 1218.8,661.9 1223.4,676.9 1228.1,690.7 1233.8,706.9 1239.6,721.9 1247.7,739.2 1254.6,753 1263.8,768 1273,780.7 1282.3,791.1 1292.1,801.9 1303.3,813.1 1314.5,823.7 1319.6,828.8 1337.1,829 1337.1,615.6"/></clipPath></defs><g clip-path="url(#clB)"><rect x="1200" y="615" width="137.1" height="7" fill="url(#gB0)"/><rect x="1200" y="621" width="137.1" height="7" fill="url(#gB1)"/><rect x="1200" y="627" width="137.1" height="7" fill="url(#gB2)"/><rect x="1200" y="633" width="137.1" height="7" fill="url(#gB3)"/><rect x="1200" y="639" width="137.1" height="7" fill="url(#gB4)"/><rect x="1200" y="645" width="137.1" height="7" fill="url(#gB5)"/><rect x="1200" y="651" width="137.1" height="7" fill="url(#gB6)"/><rect x="1200" y="657" width="137.1" height="7" fill="url(#gB7)"/><rect x="1200" y="663" width="137.1" height="7" fill="url(#gB8)"/><rect x="1200" y="669" width="137.1" height="7" fill="url(#gB9)"/><rect x="1200" y="675" width="137.1" height="7" fill="url(#gB10)"/><rect x="1200" y="681" width="137.1" height="7" fill="url(#gB11)"/><rect x="1200" y="687" width="137.1" height="7" fill="url(#gB12)"/><rect x="1200" y="693" width="137.1" height="7" fill="url(#gB13)"/><rect x="1200" y="699" width="137.1" height="7" fill="url(#gB14)"/><rect x="1200" y="705" width="137.1" height="7" fill="url(#gB15)"/><rect x="1200" y="711" width="137.1" height="7" fill="url(#gB16)"/><rect x="1200" y="717" width="137.1" height="7" fill="url(#gB17)"/><rect x="1200" y="723" width="137.1" height="7" fill="url(#gB18)"/><rect x="1200" y="729" width="137.1" height="7" fill="url(#gB19)"/><rect x="1200" y="735" width="137.1" height="7" fill="url(#gB20)"/><rect x="1200" y="741" width="137.1" height="7" fill="url(#gB21)"/><rect x="1200" y="747" width="137.1" height="7" fill="url(#gB22)"/><rect x="1200" y="753" width="137.1" height="7" fill="url(#gB23)"/><rect x="1200" y="759" width="137.1" height="7" fill="url(#gB24)"/><rect x="1200" y="765" width="137.1" height="7" fill="url(#gB25)"/><rect x="1200" y="771" width="137.1" height="7" fill="url(#gB26)"/><rect x="1200" y="777" width="137.1" height="7" fill="url(#gB27)"/><rect x="1200" y="783" width="137.1" height="7" fill="url(#gB28)"/><rect x="1200" y="789" width="137.1" height="7" fill="url(#gB29)"/><rect x="1200" y="795" width="137.1" height="7" fill="url(#gB30)"/><rect x="1200" y="801" width="137.1" height="7" fill="url(#gB31)"/><rect x="1200" y="807" width="137.1" height="7" fill="url(#gB32)"/><rect x="1200" y="813" width="137.1" height="7" fill="url(#gB33)"/><rect x="1200" y="819" width="137.1" height="7" fill="url(#gB34)"/><rect x="1200" y="825" width="137.1" height="5" fill="url(#gB35)"/></g><defs><linearGradient id="gC0" gradientUnits="userSpaceOnUse" x1="1262" x2="1337.1" y1="0" y2="0"><stop offset="0" stop-color="#5affa5"/><stop offset=".533" stop-color="#5affa5"/><stop offset="1" stop-color="#72ff8d"/></linearGradient><linearGradient id="gC1" gradientUnits="userSpaceOnUse" x1="1262" x2="1337.1" y1="0" y2="0"><stop offset="0" stop-color="#51ffae"/><stop offset=".399" stop-color="#51ffae"/><stop offset="1" stop-color="#6dff92"/></linearGradient><linearGradient id="gC2" gradientUnits="userSpaceOnUse" x1="1262" x2="1337.1" y1="0" y2="0"><stop offset="0" stop-color="#48ffb7"/><stop offset=".306" stop-color="#48ffb7"/><stop offset="1" stop-color="#68ff97"/></linearGradient><linearGradient id="gC3" gradientUnits="userSpaceOnUse" x1="1262" x2="1337.1" y1="0" y2="0"><stop offset="0" stop-color="#3fffc0"/><stop offset=".213" stop-color="#3fffc0"/><stop offset="1" stop-color="#63ff9c"/></linearGradient><linearGradient id="gC4" gradientUnits="userSpaceOnUse" x1="1262" x2="1337.1" y1="0" y2="0"><stop offset="0" stop-color="#36ffc9"/><stop offset=".16" stop-color="#36ffc9"/><stop offset="1" stop-color="#5effa1"/></linearGradient><linearGradient id="gC5" gradientUnits="userSpaceOnUse" x1="1262" x2="1337.1" y1="0" y2="0"><stop offset="0" stop-color="#2cffd3"/><stop offset="1" stop-color="#59ffa6"/></linearGradient><linearGradient id="gC6" gradientUnits="userSpaceOnUse" x1="1262" x2="1337.1" y1="0" y2="0"><stop offset="0" stop-color="#24ffdb"/><stop offset="1" stop-color="#54ffab"/></linearGradient><linearGradient id="gC7" gradientUnits="userSpaceOnUse" x1="1262" x2="1337.1" y1="0" y2="0"><stop offset="0" stop-color="#1fffe0"/><stop offset="1" stop-color="#4fffb0"/></linearGradient><linearGradient id="gC8" gradientUnits="userSpaceOnUse" x1="1262" x2="1337.1" y1="0" y2="0"><stop offset="0" stop-color="#1affe5"/><stop offset="1" stop-color="#49ffb6"/></linearGradient><linearGradient id="gC9" gradientUnits="userSpaceOnUse" x1="1262" x2="1337.1" y1="0" y2="0"><stop offset="0" stop-color="#15ffea"/><stop offset="1" stop-color="#44ffbb"/></linearGradient><linearGradient id="gC10" gradientUnits="userSpaceOnUse" x1="1262" x2="1337.1" y1="0" y2="0"><stop offset="0" stop-color="#10ffef"/><stop offset="1" stop-color="#3fffc0"/></linearGradient><linearGradient id="gC11" gradientUnits="userSpaceOnUse" x1="1262" x2="1337.1" y1="0" y2="0"><stop offset="0" stop-color="#0bfff4"/><stop offset="1" stop-color="#39ffc6"/></linearGradient><linearGradient id="gC12" gradientUnits="userSpaceOnUse" x1="1262" x2="1337.1" y1="0" y2="0"><stop offset="0" stop-color="#06fff9"/><stop offset="1" stop-color="#34ffcb"/></linearGradient><linearGradient id="gC13" gradientUnits="userSpaceOnUse" x1="1262" x2="1337.1" y1="0" y2="0"><stop offset="0" stop-color="#01fffe"/><stop offset="1" stop-color="#2fffd0"/></linearGradient><linearGradient id="gC14" gradientUnits="userSpaceOnUse" x1="1262" x2="1337.1" y1="0" y2="0"><stop offset="0" stop-color="#00fbff"/><stop offset=".146" stop-color="#00ffff"/><stop offset="1" stop-color="#29ffd6"/></linearGradient><linearGradient id="gC15" gradientUnits="userSpaceOnUse" x1="1262" x2="1337.1" y1="0" y2="0"><stop offset="0" stop-color="#00eeff"/><stop offset=".346" stop-color="#00ffff"/><stop offset="1" stop-color="#22ffdd"/></linearGradient><linearGradient id="gC16" gradientUnits="userSpaceOnUse" x1="1262" x2="1337.1" y1="0" y2="0"><stop offset="0" stop-color="#00dcff"/><stop offset=".506" stop-color="#00ffff"/><stop offset="1" stop-color="#1bffe4"/></linearGradient><linearGradient id="gC17" gradientUnits="userSpaceOnUse" x1="1262" x2="1337.1" y1="0" y2="0"><stop offset="0" stop-color="#00cbff"/><stop offset=".08" stop-color="#00ccff"/><stop offset=".666" stop-color="#00ffff"/><stop offset="1" stop-color="#13ffec"/></linearGradient><linearGradient id="gC18" gradientUnits="userSpaceOnUse" x1="1262" x2="1337.1" y1="0" y2="0"><stop offset="0" stop-color="#00b9ff"/><stop offset=".08" stop-color="#00baff"/><stop offset=".546" stop-color="#00efff"/><stop offset=".812" stop-color="#00ffff"/><stop offset="1" stop-color="#0bfff4"/></linearGradient><linearGradient id="gC19" gradientUnits="userSpaceOnUse" x1="1262" x2="1337.1" y1="0" y2="0"><stop offset="0" stop-color="#00a8ff"/><stop offset=".08" stop-color="#00a8ff"/><stop offset=".546" stop-color="#00e6ff"/><stop offset="1" stop-color="#03fffc"/></linearGradient><linearGradient id="gC20" gradientUnits="userSpaceOnUse" x1="1262" x2="1337.1" y1="0" y2="0"><stop offset="0" stop-color="#0097ff"/><stop offset=".093" stop-color="#0097ff"/><stop offset=".546" stop-color="#00dcff"/><stop offset="1" stop-color="#00faff"/></linearGradient><linearGradient id="gC21" gradientUnits="userSpaceOnUse" x1="1262" x2="1337.1" y1="0" y2="0"><stop offset="0" stop-color="#0086ff"/><stop offset=".093" stop-color="#0086ff"/><stop offset=".546" stop-color="#00d3ff"/><stop offset="1" stop-color="#00f2ff"/></linearGradient><linearGradient id="gC22" gradientUnits="userSpaceOnUse" x1="1262" x2="1337.1" y1="0" y2="0"><stop offset="0" stop-color="#007dff"/><stop offset=".107" stop-color="#007dff"/><stop offset=".559" stop-color="#00c9ff"/><stop offset="1" stop-color="#00eaff"/></linearGradient><linearGradient id="gC23" gradientUnits="userSpaceOnUse" x1="1262" x2="1337.1" y1="0" y2="0"><stop offset="0" stop-color="#0073ff"/><stop offset=".12" stop-color="#0074ff"/><stop offset=".559" stop-color="#00beff"/><stop offset="1" stop-color="#00e2ff"/></linearGradient><linearGradient id="gC24" gradientUnits="userSpaceOnUse" x1="1262" x2="1337.1" y1="0" y2="0"><stop offset="0" stop-color="#0069ff"/><stop offset=".133" stop-color="#0069ff"/><stop offset=".386" stop-color="#009aff"/><stop offset=".559" stop-color="#00b2ff"/><stop offset="1" stop-color="#00daff"/></linearGradient><linearGradient id="gC25" gradientUnits="userSpaceOnUse" x1="1262" x2="1337.1" y1="0" y2="0"><stop offset="0" stop-color="#005fff"/><stop offset=".146" stop-color="#005fff"/><stop offset=".413" stop-color="#0092ff"/><stop offset="1" stop-color="#00d2ff"/></linearGradient><linearGradient id="gC26" gradientUnits="userSpaceOnUse" x1="1262" x2="1337.1" y1="0" y2="0"><stop offset="0" stop-color="#0055ff"/><stop offset=".16" stop-color="#0055ff"/><stop offset=".426" stop-color="#0089ff"/><stop offset="1" stop-color="#00caff"/></linearGradient><linearGradient id="gC27" gradientUnits="userSpaceOnUse" x1="1262" x2="1337.1" y1="0" y2="0"><stop offset="0" stop-color="#004cff"/><stop offset=".173" stop-color="#004cff"/><stop offset=".426" stop-color="#007fff"/><stop offset="1" stop-color="#00c2ff"/></linearGradient><linearGradient id="gC28" gradientUnits="userSpaceOnUse" x1="1262" x2="1337.1" y1="0" y2="0"><stop offset="0" stop-color="#0043ff"/><stop offset=".186" stop-color="#0043ff"/><stop offset=".439" stop-color="#0077ff"/><stop offset="1" stop-color="#00baff"/></linearGradient><linearGradient id="gC29" gradientUnits="userSpaceOnUse" x1="1262" x2="1337.1" y1="0" y2="0"><stop offset="0" stop-color="#003cff"/><stop offset=".2" stop-color="#003cff"/><stop offset=".439" stop-color="#006dff"/><stop offset="1" stop-color="#00b3ff"/></linearGradient><linearGradient id="gC30" gradientUnits="userSpaceOnUse" x1="1262" x2="1337.1" y1="0" y2="0"><stop offset="0" stop-color="#0036ff"/><stop offset=".213" stop-color="#0036ff"/><stop offset=".453" stop-color="#0066ff"/><stop offset="1" stop-color="#00adff"/></linearGradient><linearGradient id="gC31" gradientUnits="userSpaceOnUse" x1="1262" x2="1337.1" y1="0" y2="0"><stop offset="0" stop-color="#002fff"/><stop offset=".226" stop-color="#002fff"/><stop offset=".453" stop-color="#005cff"/><stop offset="1" stop-color="#00a6ff"/></linearGradient><linearGradient id="gC32" gradientUnits="userSpaceOnUse" x1="1262" x2="1337.1" y1="0" y2="0"><stop offset="0" stop-color="#0028ff"/><stop offset=".24" stop-color="#0028ff"/><stop offset=".466" stop-color="#0055ff"/><stop offset="1" stop-color="#009fff"/></linearGradient><linearGradient id="gC33" gradientUnits="userSpaceOnUse" x1="1262" x2="1337.1" y1="0" y2="0"><stop offset="0" stop-color="#0021ff"/><stop offset=".253" stop-color="#0021ff"/><stop offset=".479" stop-color="#004dff"/><stop offset="1" stop-color="#0098ff"/></linearGradient><linearGradient id="gC34" gradientUnits="userSpaceOnUse" x1="1262" x2="1337.1" y1="0" y2="0"><stop offset="0" stop-color="#001aff"/><stop offset=".266" stop-color="#001bff"/><stop offset=".479" stop-color="#0044ff"/><stop offset="1" stop-color="#0091ff"/></linearGradient><linearGradient id="gC35" gradientUnits="userSpaceOnUse" x1="1262" x2="1337.1" y1="0" y2="0"><stop offset="0" stop-color="#0013ff"/><stop offset=".266" stop-color="#0013ff"/><stop offset=".493" stop-color="#003dff"/><stop offset="1" stop-color="#008aff"/></linearGradient><linearGradient id="gC36" gradientUnits="userSpaceOnUse" x1="1262" x2="1337.1" y1="0" y2="0"><stop offset="0" stop-color="#000cff"/><stop offset=".28" stop-color="#000cff"/><stop offset="1" stop-color="#0083ff"/></linearGradient><clipPath id="clC"><polygon points="1337.1,832.7 1306,833.2 1297,837.7 1290.4,842.2 1284.8,846.7 1279.8,851.2 1276.4,855 1273,859.6 1270.2,864 1268.6,873 1266.9,884 1266.7,890 1267,933.4 1269,960.2 1270.6,973.6 1273.7,987 1276.3,1003.5 1278.3,1018 1280.4,1030.4 1281.9,1040.7 1283.2,1054.2 1337.1,1054.2"/></clipPath></defs><g clip-path="url(#clC)"><rect x="1262" y="832" width="75.1" height="7" fill="url(#gC0)"/><rect x="1262" y="838" width="75.1" height="7" fill="url(#gC1)"/><rect x="1262" y="844" width="75.1" height="7" fill="url(#gC2)"/><rect x="1262" y="850" width="75.1" height="7" fill="url(#gC3)"/><rect x="1262" y="856" width="75.1" height="7" fill="url(#gC4)"/><rect x="1262" y="862" width="75.1" height="7" fill="url(#gC5)"/><rect x="1262" y="868" width="75.1" height="7" fill="url(#gC6)"/><rect x="1262" y="874" width="75.1" height="7" fill="url(#gC7)"/><rect x="1262" y="880" width="75.1" height="7" fill="url(#gC8)"/><rect x="1262" y="886" width="75.1" height="7" fill="url(#gC9)"/><rect x="1262" y="892" width="75.1" height="7" fill="url(#gC10)"/><rect x="1262" y="898" width="75.1" height="7" fill="url(#gC11)"/><rect x="1262" y="904" width="75.1" height="7" fill="url(#gC12)"/><rect x="1262" y="910" width="75.1" height="7" fill="url(#gC13)"/><rect x="1262" y="916" width="75.1" height="7" fill="url(#gC14)"/><rect x="1262" y="922" width="75.1" height="7" fill="url(#gC15)"/><rect x="1262" y="928" width="75.1" height="7" fill="url(#gC16)"/><rect x="1262" y="934" width="75.1" height="7" fill="url(#gC17)"/><rect x="1262" y="940" width="75.1" height="7" fill="url(#gC18)"/><rect x="1262" y="946" width="75.1" height="7" fill="url(#gC19)"/><rect x="1262" y="952" width="75.1" height="7" fill="url(#gC20)"/><rect x="1262" y="958" width="75.1" height="7" fill="url(#gC21)"/><rect x="1262" y="964" width="75.1" height="7" fill="url(#gC22)"/><rect x="1262" y="970" width="75.1" height="7" fill="url(#gC23)"/><rect x="1262" y="976" width="75.1" height="7" fill="url(#gC24)"/><rect x="1262" y="982" width="75.1" height="7" fill="url(#gC25)"/><rect x="1262" y="988" width="75.1" height="7" fill="url(#gC26)"/><rect x="1262" y="994" width="75.1" height="7" fill="url(#gC27)"/><rect x="1262" y="1000" width="75.1" height="7" fill="url(#gC28)"/><rect x="1262" y="1006" width="75.1" height="7" fill="url(#gC29)"/><rect x="1262" y="1012" width="75.1" height="7" fill="url(#gC30)"/><rect x="1262" y="1018" width="75.1" height="7" fill="url(#gC31)"/><rect x="1262" y="1024" width="75.1" height="7" fill="url(#gC32)"/><rect x="1262" y="1030" width="75.1" height="7" fill="url(#gC33)"/><rect x="1262" y="1036" width="75.1" height="7" fill="url(#gC34)"/><rect x="1262" y="1042" width="75.1" height="7" fill="url(#gC35)"/><rect x="1262" y="1048" width="75.1" height="6" fill="url(#gC36)"/></g><g stroke="#262626" stroke-width="0.8" fill="none"><rect x="844" y="615.6" width="493.1" height="438.4"/><path d="M926.2 1054v-4.5M926.2 615.6v4.5"/><path d="M1008.4 1054v-4.5M1008.4 615.6v4.5"/><path d="M1090.5 1054v-4.5M1090.5 615.6v4.5"/><path d="M1172.7 1054v-4.5M1172.7 615.6v4.5"/><path d="M1254.9 1054v-4.5M1254.9 615.6v4.5"/><path d="M844 659.4h4.5M1337.1 659.4h-4.5"/><path d="M844 703.3h4.5M1337.1 703.3h-4.5"/><path d="M844 747.1h4.5M1337.1 747.1h-4.5"/><path d="M844 791h4.5M1337.1 791h-4.5"/><path d="M844 834.8h4.5M1337.1 834.8h-4.5"/><path d="M844 878.6h4.5M1337.1 878.6h-4.5"/><path d="M844 922.5h4.5M1337.1 922.5h-4.5"/><path d="M844 966.3h4.5M1337.1 966.3h-4.5"/><path d="M844 1010.2h4.5M1337.1 1010.2h-4.5"/></g><text x="844" y="1077.4" text-anchor="middle" font-family="'Liberation Sans',sans-serif" font-weight="bold" font-size="16.5" letter-spacing="0.4" fill="#1a1a1a">1</text><text x="926.2" y="1077.4" text-anchor="middle" font-family="'Liberation Sans',sans-serif" font-weight="bold" font-size="16.5" letter-spacing="0.4" fill="#1a1a1a">1.5</text><text x="1008.4" y="1077.4" text-anchor="middle" font-family="'Liberation Sans',sans-serif" font-weight="bold" font-size="16.5" letter-spacing="0.4" fill="#1a1a1a">2</text><text x="1090.5" y="1077.4" text-anchor="middle" font-family="'Liberation Sans',sans-serif" font-weight="bold" font-size="16.5" letter-spacing="0.4" fill="#1a1a1a">2.5</text><text x="1172.7" y="1077.4" text-anchor="middle" font-family="'Liberation Sans',sans-serif" font-weight="bold" font-size="16.5" letter-spacing="0.4" fill="#1a1a1a">3</text><text x="1254.9" y="1077.4" text-anchor="middle" font-family="'Liberation Sans',sans-serif" font-weight="bold" font-size="16.5" letter-spacing="0.4" fill="#1a1a1a">3.5</text><text x="1337.1" y="1077.4" text-anchor="middle" font-family="'Liberation Sans',sans-serif" font-weight="bold" font-size="16.5" letter-spacing="0.4" fill="#1a1a1a">4</text><text x="838.1" y="623" text-anchor="end" font-family="'Liberation Sans',sans-serif" font-weight="bold" font-size="16.5" letter-spacing="0.4" fill="#1a1a1a">10</text><text x="838.1" y="666.8" text-anchor="end" font-family="'Liberation Sans',sans-serif" font-weight="bold" font-size="16.5" letter-spacing="0.4" fill="#1a1a1a">9.9</text><text x="838.1" y="710.7" text-anchor="end" font-family="'Liberation Sans',sans-serif" font-weight="bold" font-size="16.5" letter-spacing="0.4" fill="#1a1a1a">9.8</text><text x="838.1" y="754.5" text-anchor="end" font-family="'Liberation Sans',sans-serif" font-weight="bold" font-size="16.5" letter-spacing="0.4" fill="#1a1a1a">9.7</text><text x="838.1" y="798.4" text-anchor="end" font-family="'Liberation Sans',sans-serif" font-weight="bold" font-size="16.5" letter-spacing="0.4" fill="#1a1a1a">9.6</text><text x="838.1" y="842.2" text-anchor="end" font-family="'Liberation Sans',sans-serif" font-weight="bold" font-size="16.5" letter-spacing="0.4" fill="#1a1a1a">9.5</text><text x="838.1" y="886" text-anchor="end" font-family="'Liberation Sans',sans-serif" font-weight="bold" font-size="16.5" letter-spacing="0.4" fill="#1a1a1a">9.4</text><text x="838.1" y="929.9" text-anchor="end" font-family="'Liberation Sans',sans-serif" font-weight="bold" font-size="16.5" letter-spacing="0.4" fill="#1a1a1a">9.3</text><text x="838.1" y="973.7" text-anchor="end" font-family="'Liberation Sans',sans-serif" font-weight="bold" font-size="16.5" letter-spacing="0.4" fill="#1a1a1a">9.2</text><text x="838.1" y="1017.6" text-anchor="end" font-family="'Liberation Sans',sans-serif" font-weight="bold" font-size="16.5" letter-spacing="0.4" fill="#1a1a1a">9.1</text><text x="838.1" y="1061.4" text-anchor="end" font-family="'Liberation Sans',sans-serif" font-weight="bold" font-size="16.5" letter-spacing="0.4" fill="#1a1a1a">9</text><text x="1090.5" y="1108.7" text-anchor="middle" letter-spacing="0.6" font-family="'Liberation Sans',sans-serif" font-weight="bold" font-size="26" fill="#1a1a1a">d (µm)</text><text transform="translate(794.2 835.8) rotate(-90)" text-anchor="middle" font-family="'Liberation Sans',sans-serif" font-weight="bold" font-size="26.6" fill="#1a1a1a">Wavelength (µm)</text><defs><linearGradient id="cbc" x1="0" x2="0" y1="0" y2="1"><stop offset="0" stop-color="#960000"/><stop offset="0.062" stop-color="#cb0000"/><stop offset="0.125" stop-color="#ff0000"/><stop offset="0.375" stop-color="#ffff00"/><stop offset="0.625" stop-color="#00ffff"/><stop offset="0.875" stop-color="#0000ff"/><stop offset="0.938" stop-color="#0000c7"/><stop offset="1" stop-color="#00008f"/></linearGradient></defs><rect x="1352.1" y="615.6" width="23.5" height="438.4" fill="url(#cbc)" stroke="#262626" stroke-width="0.8"/><path d="M1375.6 627.8h-4.5" stroke="#262626" stroke-width="0.8"/><text x="1381.1" y="634.2" font-family="'Liberation Sans',sans-serif" font-weight="bold" font-size="14" letter-spacing="0.45" fill="#1a1a1a">350</text><path d="M1375.6 688.7h-4.5" stroke="#262626" stroke-width="0.8"/><text x="1381.1" y="695.1" font-family="'Liberation Sans',sans-serif" font-weight="bold" font-size="14" letter-spacing="0.45" fill="#1a1a1a">300</text><path d="M1375.6 749.6h-4.5" stroke="#262626" stroke-width="0.8"/><text x="1381.1" y="756" font-family="'Liberation Sans',sans-serif" font-weight="bold" font-size="14" letter-spacing="0.45" fill="#1a1a1a">250</text><path d="M1375.6 810.4h-4.5" stroke="#262626" stroke-width="0.8"/><text x="1381.1" y="816.9" font-family="'Liberation Sans',sans-serif" font-weight="bold" font-size="14" letter-spacing="0.45" fill="#1a1a1a">200</text><path d="M1375.6 871.3h-4.5" stroke="#262626" stroke-width="0.8"/><text x="1381.1" y="877.7" font-family="'Liberation Sans',sans-serif" font-weight="bold" font-size="14" letter-spacing="0.45" fill="#1a1a1a">150</text><path d="M1375.6 932.2h-4.5" stroke="#262626" stroke-width="0.8"/><text x="1381.1" y="938.6" font-family="'Liberation Sans',sans-serif" font-weight="bold" font-size="14" letter-spacing="0.45" fill="#1a1a1a">100</text><path d="M1375.6 993.1h-4.5" stroke="#262626" stroke-width="0.8"/><text x="1381.1" y="999.5" font-family="'Liberation Sans',sans-serif" font-weight="bold" font-size="14" letter-spacing="0.45" fill="#1a1a1a">50</text><path d="M1375.6 1054h-4.5" stroke="#262626" stroke-width="0.8"/><text x="1381.1" y="1060.4" font-family="'Liberation Sans',sans-serif" font-weight="bold" font-size="14" letter-spacing="0.45" fill="#1a1a1a">0</text><text x="1311.5" y="605.7" font-family="'Liberation Serif',serif" font-size="20.5" textLength="80.5" lengthAdjust="spacingAndGlyphs"><tspan font-weight="bold">Phase</tspan> (°)</text><g stroke="#000" stroke-width="1.6" fill="none" stroke-linecap="square"><path d="M132.9 1139.8V1523.6M132.9 1523.6H648.3M132.9 1139.8H648.3"/><path d="M132.9 1523.6h-8"/><path d="M132.9 1488.7h-4.4"/><path d="M132.9 1453.8h-8"/><path d="M132.9 1419h-4.4"/><path d="M132.9 1384.1h-8"/><path d="M132.9 1349.2h-4.4"/><path d="M132.9 1314.3h-8"/><path d="M132.9 1279.4h-4.4"/><path d="M132.9 1244.6h-8"/><path d="M132.9 1209.7h-4.4"/><path d="M132.9 1174.8h-8"/><path d="M132.9 1139.9h-4.4"/><path d="M133.4 1523.6v4.4M133.4 1139.8v4.4"/><path d="M176.2 1523.6v8M176.2 1139.8v8"/><path d="M219 1523.6v4.4M219 1139.8v4.4"/><path d="M261.8 1523.6v8M261.8 1139.8v8"/><path d="M304.6 1523.6v4.4M304.6 1139.8v4.4"/><path d="M347.4 1523.6v8M347.4 1139.8v8"/><path d="M390.2 1523.6v4.4M390.2 1139.8v4.4"/><path d="M433 1523.6v8M433 1139.8v8"/><path d="M475.8 1523.6v4.4M475.8 1139.8v4.4"/><path d="M518.6 1523.6v8M518.6 1139.8v8"/><path d="M561.4 1523.6v4.4M561.4 1139.8v4.4"/><path d="M604.2 1523.6v8M604.2 1139.8v8"/></g><g stroke="#0000ff" stroke-width="1.6" fill="none" stroke-linecap="square"><path d="M648.3 1139.8V1523.6"/><path d="M648.3 1523.6h8"/><path d="M648.3 1499.6h4.4"/><path d="M648.3 1475.6h8"/><path d="M648.3 1451.6h4.4"/><path d="M648.3 1427.6h8"/><path d="M648.3 1403.6h4.4"/><path d="M648.3 1379.6h8"/><path d="M648.3 1355.6h4.4"/><path d="M648.3 1331.6h8"/><path d="M648.3 1307.6h4.4"/><path d="M648.3 1283.6h8"/><path d="M648.3 1259.6h4.4"/><path d="M648.3 1235.6h8"/><path d="M648.3 1211.6h4.4"/><path d="M648.3 1187.6h8"/><path d="M648.3 1163.6h4.4"/><path d="M648.3 1139.6h8"/></g><text x="119.6" y="1530.8" font-family="'Liberation Sans',sans-serif" font-weight="bold" font-size="20" text-anchor="end" fill="#000" textLength="30.2" lengthAdjust="spacingAndGlyphs">0.0</text><text x="119.6" y="1461" font-family="'Liberation Sans',sans-serif" font-weight="bold" font-size="20" text-anchor="end" fill="#000" textLength="30.2" lengthAdjust="spacingAndGlyphs">0.2</text><text x="119.6" y="1391.2" font-family="'Liberation Sans',sans-serif" font-weight="bold" font-size="20" text-anchor="end" fill="#000" textLength="30.2" lengthAdjust="spacingAndGlyphs">0.4</text><text x="119.6" y="1321.5" font-family="'Liberation Sans',sans-serif" font-weight="bold" font-size="20" text-anchor="end" fill="#000" textLength="30.2" lengthAdjust="spacingAndGlyphs">0.6</text><text x="119.6" y="1251.7" font-family="'Liberation Sans',sans-serif" font-weight="bold" font-size="20" text-anchor="end" fill="#000" textLength="30.2" lengthAdjust="spacingAndGlyphs">0.8</text><text x="119.6" y="1182" font-family="'Liberation Sans',sans-serif" font-weight="bold" font-size="20" text-anchor="end" fill="#000" textLength="30.2" lengthAdjust="spacingAndGlyphs">1.0</text><text x="176.2" y="1554.2" font-family="'Liberation Sans',sans-serif" font-weight="bold" font-size="20" text-anchor="middle" fill="#000" textLength="30.2" lengthAdjust="spacingAndGlyphs">1.0</text><text x="261.8" y="1554.2" font-family="'Liberation Sans',sans-serif" font-weight="bold" font-size="20" text-anchor="middle" fill="#000" textLength="30.2" lengthAdjust="spacingAndGlyphs">1.5</text><text x="347.4" y="1554.2" font-family="'Liberation Sans',sans-serif" font-weight="bold" font-size="20" text-anchor="middle" fill="#000" textLength="30.2" lengthAdjust="spacingAndGlyphs">2.0</text><text x="433" y="1554.2" font-family="'Liberation Sans',sans-serif" font-weight="bold" font-size="20" text-anchor="middle" fill="#000" textLength="30.2" lengthAdjust="spacingAndGlyphs">2.5</text><text x="518.6" y="1554.2" font-family="'Liberation Sans',sans-serif" font-weight="bold" font-size="20" text-anchor="middle" fill="#000" textLength="30.2" lengthAdjust="spacingAndGlyphs">3.0</text><text x="604.2" y="1554.2" font-family="'Liberation Sans',sans-serif" font-weight="bold" font-size="20" text-anchor="middle" fill="#000" textLength="30.2" lengthAdjust="spacingAndGlyphs">3.5</text><text x="661.2" y="1530.8" font-family="'Liberation Sans',sans-serif" font-weight="bold" font-size="20" text-anchor="start" fill="#0000ff" textLength="31.4" lengthAdjust="spacingAndGlyphs">-50</text><text x="661.2" y="1482.8" font-family="'Liberation Sans',sans-serif" font-weight="bold" font-size="20" text-anchor="start" fill="#0000ff" textLength="12.1" lengthAdjust="spacingAndGlyphs">0</text><text x="661.2" y="1434.8" font-family="'Liberation Sans',sans-serif" font-weight="bold" font-size="20" text-anchor="start" fill="#0000ff" textLength="24.1" lengthAdjust="spacingAndGlyphs">50</text><text x="661.2" y="1386.8" font-family="'Liberation Sans',sans-serif" font-weight="bold" font-size="20" text-anchor="start" fill="#0000ff" textLength="36.2" lengthAdjust="spacingAndGlyphs">100</text><text x="661.2" y="1338.8" font-family="'Liberation Sans',sans-serif" font-weight="bold" font-size="20" text-anchor="start" fill="#0000ff" textLength="36.2" lengthAdjust="spacingAndGlyphs">150</text><text x="661.2" y="1290.8" font-family="'Liberation Sans',sans-serif" font-weight="bold" font-size="20" text-anchor="start" fill="#0000ff" textLength="36.2" lengthAdjust="spacingAndGlyphs">200</text><text x="661.2" y="1242.8" font-family="'Liberation Sans',sans-serif" font-weight="bold" font-size="20" text-anchor="start" fill="#0000ff" textLength="36.2" lengthAdjust="spacingAndGlyphs">250</text><text x="661.2" y="1194.8" font-family="'Liberation Sans',sans-serif" font-weight="bold" font-size="20" text-anchor="start" fill="#0000ff" textLength="36.2" lengthAdjust="spacingAndGlyphs">300</text><text x="661.2" y="1146.8" font-family="'Liberation Sans',sans-serif" font-weight="bold" font-size="20" text-anchor="start" fill="#0000ff" textLength="36.2" lengthAdjust="spacingAndGlyphs">350</text><text x="276.7" y="1600.1" font-family="'Liberation Sans',sans-serif" font-weight="bold" font-size="27.6" text-anchor="start" fill="#000" textLength="227.5" lengthAdjust="spacingAndGlyphs">Diameter d (µm)</text><g stroke="#000" stroke-width="2.6" fill="#000"><line x1="184.4" y1="1178.7" x2="411.6" y2="1178.7"/><line x1="425.3" y1="1185" x2="469.2" y2="1236.7"/><line x1="477.5" y1="1250.8" x2="512.8" y2="1344.5"/><line x1="522.4" y1="1347.4" x2="540.1" y2="1334.7"/><line x1="547.9" y1="1321.6" x2="562.3" y2="1213.1"/><line x1="571.6" y1="1204.8" x2="583.9" y2="1328.1"/><rect x="170.8" y="1173.4" width="10.6" height="10.6" stroke="none"/><rect x="414.6" y="1173.4" width="10.6" height="10.6" stroke="none"/><rect x="469.3" y="1237.7" width="10.6" height="10.6" stroke="none"/><rect x="510.4" y="1347" width="10.6" height="10.6" stroke="none"/><rect x="541.5" y="1324.5" width="10.6" height="10.6" stroke="none"/><rect x="558.1" y="1199.6" width="10.6" height="10.6" stroke="none"/><rect x="565.5" y="1191.2" width="10.6" height="10.6" stroke="none"/><rect x="579.4" y="1331.1" width="10.6" height="10.6" stroke="none"/></g><g stroke="#0000ff" stroke-width="2.6" fill="#0000ff"><line x1="184.3" y1="1474.4" x2="411.7" y2="1433.5"/><line x1="426.4" y1="1426.8" x2="468.1" y2="1393.5"/><line x1="480.3" y1="1382.3" x2="510" y2="1351.5"/><line x1="520.7" y1="1338.9" x2="541.8" y2="1310.8"/><line x1="549.9" y1="1296.5" x2="560.8" y2="1268.8"/><line x1="565.2" y1="1252.9" x2="569.5" y2="1227.2"/><line x1="573.2" y1="1211" x2="582.3" y2="1180.6"/><rect x="170.8" y="1470.6" width="10.6" height="10.6" stroke="none"/><rect x="414.6" y="1426.7" width="10.6" height="10.6" stroke="none"/><rect x="469.3" y="1383" width="10.6" height="10.6" stroke="none"/><rect x="510.4" y="1340.2" width="10.6" height="10.6" stroke="none"/><rect x="541.5" y="1298.9" width="10.6" height="10.6" stroke="none"/><rect x="558.6" y="1255.8" width="10.6" height="10.6" stroke="none"/><rect x="565.5" y="1213.7" width="10.6" height="10.6" stroke="none"/><rect x="579.4" y="1167.3" width="10.6" height="10.6" stroke="none"/></g><rect x="477.2" y="1456.5" width="152.7" height="56.5" fill="#000"/><rect x="471.8" y="1451.2" width="152.8" height="56.5" fill="#fff" stroke="#555" stroke-width="0.9"/><g stroke="#000" stroke-width="1.8" fill="#000"><path d="M474.8 1469.2h6.4M495.3 1469.2h7.4"/><rect x="482.9" y="1463.9" width="10.6" height="10.6" stroke="none"/></g><g stroke="#0000ff" stroke-width="1.8" fill="#0000ff"><path d="M474.8 1497.6h6.4M495.3 1497.6h7.4"/><rect x="482.9" y="1492.3" width="10.6" height="10.6" stroke="none"/></g><text x="507.6" y="1473.3" font-family="'Liberation Sans',sans-serif" font-weight="bold" font-size="21" text-anchor="start" fill="#000" textLength="113" lengthAdjust="spacingAndGlyphs">Amplitude</text><text x="508.4" y="1502" font-family="'Liberation Sans',sans-serif" font-weight="bold" font-size="21" text-anchor="start" fill="#000" textLength="97.5" lengthAdjust="spacingAndGlyphs">Phase (°)</text><g stroke="#000" fill="none"><path d="M849.6 1142.0H1361.0V1521.5" stroke-width="1.1"/><path d="M849.6 1142.0V1521.5H1361.0" stroke-width="1.7" stroke-linecap="square"/><g stroke-width="1.5"><path d="M849.6 1505h-8"/><path d="M849.6 1484.1h-4.4"/><path d="M849.6 1463.2h-8"/><path d="M849.6 1442.3h-4.4"/><path d="M849.6 1421.4h-8"/><path d="M849.6 1400.5h-4.4"/><path d="M849.6 1379.6h-8"/><path d="M849.6 1358.7h-4.4"/><path d="M849.6 1337.8h-8"/><path d="M849.6 1316.9h-4.4"/><path d="M849.6 1296h-8"/><path d="M849.6 1275.1h-4.4"/><path d="M849.6 1254.2h-8"/><path d="M849.6 1233.3h-4.4"/><path d="M849.6 1212.4h-8"/><path d="M849.6 1191.5h-4.4"/><path d="M849.6 1170.6h-8"/><path d="M849.6 1149.7h-4.4"/><path d="M849.6 1521.5v8"/><path d="M892.2 1521.5v4.4"/><path d="M934.8 1521.5v8"/><path d="M977.4 1521.5v4.4"/><path d="M1020 1521.5v8"/><path d="M1062.6 1521.5v4.4"/><path d="M1105.2 1521.5v8"/><path d="M1147.8 1521.5v4.4"/><path d="M1190.4 1521.5v8"/><path d="M1233 1521.5v4.4"/><path d="M1275.6 1521.5v8"/><path d="M1318.2 1521.5v4.4"/><path d="M1360.8 1521.5v8"/></g></g><text x="835.2" y="1512.2" font-family="'Liberation Sans',sans-serif" font-weight="bold" font-size="20" text-anchor="end" fill="#000" textLength="12.1" lengthAdjust="spacingAndGlyphs">0</text><text x="835.2" y="1470.4" font-family="'Liberation Sans',sans-serif" font-weight="bold" font-size="20" text-anchor="end" fill="#000" textLength="24.1" lengthAdjust="spacingAndGlyphs">50</text><text x="835.2" y="1428.6" font-family="'Liberation Sans',sans-serif" font-weight="bold" font-size="20" text-anchor="end" fill="#000" textLength="36.2" lengthAdjust="spacingAndGlyphs">100</text><text x="835.2" y="1386.8" font-family="'Liberation Sans',sans-serif" font-weight="bold" font-size="20" text-anchor="end" fill="#000" textLength="36.2" lengthAdjust="spacingAndGlyphs">150</text><text x="835.2" y="1345" font-family="'Liberation Sans',sans-serif" font-weight="bold" font-size="20" text-anchor="end" fill="#000" textLength="36.2" lengthAdjust="spacingAndGlyphs">200</text><text x="835.2" y="1303.2" font-family="'Liberation Sans',sans-serif" font-weight="bold" font-size="20" text-anchor="end" fill="#000" textLength="36.2" lengthAdjust="spacingAndGlyphs">250</text><text x="835.2" y="1261.4" font-family="'Liberation Sans',sans-serif" font-weight="bold" font-size="20" text-anchor="end" fill="#000" textLength="36.2" lengthAdjust="spacingAndGlyphs">300</text><text x="835.2" y="1219.6" font-family="'Liberation Sans',sans-serif" font-weight="bold" font-size="20" text-anchor="end" fill="#000" textLength="36.2" lengthAdjust="spacingAndGlyphs">350</text><text x="835.2" y="1177.8" font-family="'Liberation Sans',sans-serif" font-weight="bold" font-size="20" text-anchor="end" fill="#000" textLength="36.2" lengthAdjust="spacingAndGlyphs">400</text><text x="850" y="1551.8" font-family="'Liberation Sans',sans-serif" font-weight="bold" font-size="20" text-anchor="middle" fill="#000" textLength="43.4" lengthAdjust="spacingAndGlyphs">-150</text><text x="935.2" y="1551.8" font-family="'Liberation Sans',sans-serif" font-weight="bold" font-size="20" text-anchor="middle" fill="#000" textLength="43.4" lengthAdjust="spacingAndGlyphs">-100</text><text x="1020.4" y="1551.8" font-family="'Liberation Sans',sans-serif" font-weight="bold" font-size="20" text-anchor="middle" fill="#000" textLength="31.4" lengthAdjust="spacingAndGlyphs">-50</text><text x="1105.2" y="1551.8" font-family="'Liberation Sans',sans-serif" font-weight="bold" font-size="20" text-anchor="middle" fill="#000" textLength="12.1" lengthAdjust="spacingAndGlyphs">0</text><text x="1190.4" y="1551.8" font-family="'Liberation Sans',sans-serif" font-weight="bold" font-size="20" text-anchor="middle" fill="#000" textLength="24.1" lengthAdjust="spacingAndGlyphs">50</text><text x="1275.6" y="1551.8" font-family="'Liberation Sans',sans-serif" font-weight="bold" font-size="20" text-anchor="middle" fill="#000" textLength="36.2" lengthAdjust="spacingAndGlyphs">100</text><text x="1360.8" y="1551.8" font-family="'Liberation Sans',sans-serif" font-weight="bold" font-size="20" text-anchor="middle" fill="#000" textLength="36.2" lengthAdjust="spacingAndGlyphs">150</text><text x="930.5" y="1594.7" font-family="'Liberation Sans',sans-serif" font-weight="bold" font-size="27.5" text-anchor="start" fill="#000" textLength="349.5" lengthAdjust="spacingAndGlyphs">Radius coordinate r (µm)</text><text transform="translate(767.3 1349) rotate(-90)" font-family="'Liberation Sans',sans-serif" font-weight="bold" font-size="27.3" text-anchor="middle" textLength="122.5" lengthAdjust="spacingAndGlyphs">Phase (°)</text><path d="M853.2 1376.7L854 1368.1L854.9 1359.6L855.7 1351L856.6 1342.5L857.4 1334.1L858.3 1325.6L859.1 1317.1L860 1308.7L860.8 1300.3L861.7 1291.9L862.6 1283.6L863.4 1275.2L864.3 1266.9L865.1 1258.6L866 1250.3L866.8 1242.1L867.7 1233.8L868.5 1225.6L869.4 1217.4L870.2 1209.3L870.8 1204L870.8 1505L871.1 1502.1L871.9 1494L872.8 1485.9L873.6 1477.8L874.5 1469.7L875.3 1461.7L876.2 1453.7L877 1445.7L877.9 1437.7L878.7 1429.8L879.6 1421.9L880.4 1414L881.3 1406.1L882.1 1398.2L883 1390.4L883.9 1382.6L884.7 1374.8L885.6 1367L886.4 1359.3L887.3 1351.6L888.1 1343.9L889 1336.2L889.8 1328.6L890.7 1320.9L891.5 1313.3L892.4 1305.8L893.2 1298.2L894.1 1290.7L894.9 1283.2L895.8 1275.7L896.6 1268.2L897.5 1260.8L898.3 1253.4L899.2 1246L900 1238.6L900.9 1231.3L901.7 1224L902.6 1216.7L903.4 1209.4L904.1 1204L904.1 1505L904.3 1503.1L905.2 1495.9L906 1488.7L906.9 1481.6L907.7 1474.4L908.6 1467.3L909.4 1460.2L910.3 1453.1L911.1 1446.1L912 1439.1L912.8 1432.1L913.7 1425.1L914.5 1418.1L915.4 1411.2L916.2 1404.3L917.1 1397.5L917.9 1390.6L918.8 1383.8L919.6 1377L920.5 1370.2L921.3 1363.5L922.2 1356.8L923 1350.1L923.9 1343.4L924.7 1336.8L925.6 1330.2L926.5 1323.6L927.3 1317L928.2 1310.5L929 1304L929.9 1297.5L930.7 1291L931.6 1284.6L932.4 1278.2L933.3 1271.8L934.1 1265.5L935 1259.2L935.8 1252.9L936.7 1246.6L937.5 1240.3L938.4 1234.1L939.2 1227.9L940.1 1221.8L940.9 1215.6L941.8 1209.5L942.6 1204L942.6 1505L942.6 1504.4L943.5 1498.4L944.3 1492.3L945.2 1486.3L946 1480.4L946.9 1474.4L947.8 1468.5L948.6 1462.6L949.5 1456.7L950.3 1450.9L951.2 1445.1L952 1439.3L952.9 1433.6L953.7 1427.8L954.6 1422.2L955.4 1416.5L956.3 1410.8L957.1 1405.2L958 1399.7L958.8 1394.1L959.7 1388.6L960.5 1383.1L961.4 1377.6L962.2 1372.2L963.1 1366.8L963.9 1361.4L964.8 1356L965.6 1350.7L966.5 1345.4L967.3 1340.1L968.2 1334.9L969.1 1329.7L969.9 1324.5L970.8 1319.4L971.6 1314.2L972.5 1309.1L973.3 1304.1L974.2 1299L975 1294L975.9 1289.1L976.7 1284.1L977.6 1279.2L978.4 1274.3L979.3 1269.5L980.1 1264.6L981 1259.8L981.8 1255.1L982.7 1250.3L983.5 1245.6L984.4 1240.9L985.2 1236.3L986.1 1231.7L986.9 1227.1L987.8 1222.5L988.6 1218L989.5 1213.5L990.4 1209.1L991.2 1204.6L991.3 1204L991.3 1505L992.1 1501.2L992.9 1496.8L993.8 1492.5L994.6 1488.1L995.5 1483.9L996.3 1479.6L997.2 1475.4L998 1471.2L998.9 1467L999.7 1462.9L1000.6 1458.8L1001.4 1454.8L1002.3 1450.7L1003.1 1446.7L1004 1442.7L1004.8 1438.8L1005.7 1434.9L1006.5 1431L1007.4 1427.2L1008.2 1423.4L1009.1 1419.6L1009.9 1415.8L1010.8 1412.1L1011.7 1408.4L1012.5 1404.8L1013.4 1401.1L1014.2 1397.5L1015.1 1394L1015.9 1390.4L1016.8 1386.9L1017.6 1383.5L1018.5 1380L1019.3 1376.6L1020.2 1373.3L1021 1369.9L1021.9 1366.6L1022.7 1363.4L1023.6 1360.1L1024.4 1356.9L1025.3 1353.7L1026.1 1350.6L1027 1347.5L1027.8 1344.4L1028.7 1341.3L1029.5 1338.3L1030.4 1335.4L1031.2 1332.4L1032.1 1329.5L1033 1326.6L1033.8 1323.8L1034.7 1320.9L1035.5 1318.1L1036.4 1315.4L1037.2 1312.7L1038.1 1310L1038.9 1307.3L1039.8 1304.7L1040.6 1302.1L1041.5 1299.6L1042.3 1297.1L1043.2 1294.6L1044 1292.1L1044.9 1289.7L1045.7 1287.3L1046.6 1284.9L1047.4 1282.6L1048.3 1280.3L1049.1 1278.1L1050 1275.9L1050.8 1273.7L1051.7 1271.5L1052.5 1269.4L1053.4 1267.3L1054.3 1265.2L1055.1 1263.2L1056 1261.2L1056.8 1259.3L1057.7 1257.4L1058.5 1255.5L1059.4 1253.6L1060.2 1251.8L1061.1 1250L1061.9 1248.3L1062.8 1246.5L1063.6 1244.9L1064.5 1243.2L1065.3 1241.6L1066.2 1240L1067 1238.4L1067.9 1236.9L1068.7 1235.5L1069.6 1234L1070.4 1232.6L1071.3 1231.2L1072.1 1229.9L1073 1228.6L1073.8 1227.3L1074.7 1226L1075.6 1224.8L1076.4 1223.6L1077.3 1222.5L1078.1 1221.4L1079 1220.3L1079.8 1219.3L1080.7 1218.3L1081.5 1217.3L1082.4 1216.4L1083.2 1215.5L1084.1 1214.6L1084.9 1213.8L1085.8 1213L1086.6 1212.2L1087.5 1211.5L1088.3 1210.8L1089.2 1210.1L1090 1209.5L1090.9 1208.9L1091.7 1208.3L1092.6 1207.8L1093.4 1207.3L1094.3 1206.9L1095.1 1206.4L1096 1206L1096.9 1205.7L1097.7 1205.4L1098.6 1205.1L1099.4 1204.8L1100.3 1204.6L1101.1 1204.4L1102 1204.3L1102.8 1204.2L1103.7 1204.1L1104.5 1204.1L1105.4 1204L1106.2 1204.1L1107.1 1204.1L1107.9 1204.2L1108.8 1204.3L1109.6 1204.5L1110.5 1204.7L1111.3 1204.9L1112.2 1205.2L1113 1205.5L1113.9 1205.8L1114.7 1206.2L1115.6 1206.6L1116.4 1207L1117.3 1207.5L1118.2 1208L1119 1208.5L1119.9 1209.1L1120.7 1209.7L1121.6 1210.4L1122.4 1211L1123.3 1211.8L1124.1 1212.5L1125 1213.3L1125.8 1214.1L1126.7 1214.9L1127.5 1215.8L1128.4 1216.7L1129.2 1217.7L1130.1 1218.7L1130.9 1219.7L1131.8 1220.7L1132.6 1221.8L1133.5 1223L1134.3 1224.1L1135.2 1225.3L1136 1226.5L1136.9 1227.8L1137.7 1229.1L1138.6 1230.4L1139.5 1231.8L1140.3 1233.2L1141.2 1234.6L1142 1236L1142.9 1237.5L1143.7 1239.1L1144.6 1240.6L1145.4 1242.2L1146.3 1243.9L1147.1 1245.5L1148 1247.2L1148.8 1249L1149.7 1250.7L1150.5 1252.5L1151.4 1254.4L1152.2 1256.2L1153.1 1258.1L1153.9 1260.1L1154.8 1262L1155.6 1264L1156.5 1266.1L1157.3 1268.1L1158.2 1270.2L1159 1272.4L1159.9 1274.5L1160.8 1276.7L1161.6 1279L1162.5 1281.2L1163.3 1283.5L1164.2 1285.9L1165 1288.2L1165.9 1290.6L1166.7 1293.1L1167.6 1295.6L1168.4 1298.1L1169.3 1300.6L1170.1 1303.2L1171 1305.8L1171.8 1308.4L1172.7 1311.1L1173.5 1313.8L1174.4 1316.5L1175.2 1319.3L1176.1 1322.1L1176.9 1324.9L1177.8 1327.8L1178.6 1330.6L1179.5 1333.6L1180.3 1336.5L1181.2 1339.5L1182.1 1342.6L1182.9 1345.6L1183.8 1348.7L1184.6 1351.8L1185.5 1355L1186.3 1358.2L1187.2 1361.4L1188 1364.7L1188.9 1367.9L1189.7 1371.3L1190.6 1374.6L1191.4 1378L1192.3 1381.4L1193.1 1384.9L1194 1388.3L1194.8 1391.8L1195.7 1395.4L1196.5 1399L1197.4 1402.6L1198.2 1406.2L1199.1 1409.9L1199.9 1413.6L1200.8 1417.3L1201.6 1421.1L1202.5 1424.9L1203.4 1428.7L1204.2 1432.6L1205.1 1436.5L1205.9 1440.4L1206.8 1444.3L1207.6 1448.3L1208.5 1452.3L1209.3 1456.4L1210.2 1460.5L1211 1464.6L1211.9 1468.7L1212.7 1472.9L1213.6 1477.1L1214.4 1481.3L1215.3 1485.6L1216.1 1489.9L1217 1494.2L1217.8 1498.5L1218.7 1502.9L1219.1 1505L1219.1 1204L1219.5 1206.4L1220.4 1210.8L1221.2 1215.3L1222.1 1219.8L1222.9 1224.4L1223.8 1228.9L1224.7 1233.5L1225.5 1238.2L1226.4 1242.8L1227.2 1247.5L1228.1 1252.2L1228.9 1257L1229.8 1261.7L1230.6 1266.6L1231.5 1271.4L1232.3 1276.3L1233.2 1281.2L1234 1286.1L1234.9 1291L1235.7 1296L1236.6 1301.1L1237.4 1306.1L1238.3 1311.2L1239.1 1316.3L1240 1321.4L1240.8 1326.6L1241.7 1331.8L1242.5 1337L1243.4 1342.2L1244.2 1347.5L1245.1 1352.8L1246 1358.2L1246.8 1363.5L1247.7 1368.9L1248.5 1374.3L1249.4 1379.8L1250.2 1385.3L1251.1 1390.8L1251.9 1396.3L1252.8 1401.9L1253.6 1407.5L1254.5 1413.1L1255.3 1418.7L1256.2 1424.4L1257 1430.1L1257.9 1435.9L1258.7 1441.6L1259.6 1447.4L1260.4 1453.2L1261.3 1459.1L1262.1 1465L1263 1470.9L1263.8 1476.8L1264.7 1482.7L1265.5 1488.7L1266.4 1494.7L1267.3 1500.8L1267.8 1505L1267.8 1204L1268.1 1205.9L1269 1212L1269.8 1218.1L1270.7 1224.2L1271.5 1230.4L1272.4 1236.6L1273.2 1242.8L1274.1 1249.1L1274.9 1255.4L1275.8 1261.7L1276.6 1268L1277.5 1274.4L1278.3 1280.8L1279.2 1287.2L1280 1293.6L1280.9 1300.1L1281.7 1306.6L1282.6 1313.1L1283.4 1319.6L1284.3 1326.2L1285.1 1332.8L1286 1339.4L1286.8 1346.1L1287.7 1352.8L1288.6 1359.5L1289.4 1366.2L1290.3 1372.9L1291.1 1379.7L1292 1386.5L1292.8 1393.4L1293.7 1400.2L1294.5 1407.1L1295.4 1414L1296.2 1420.9L1297.1 1427.9L1297.9 1434.9L1298.8 1441.9L1299.6 1448.9L1300.5 1456L1301.3 1463L1302.2 1470.1L1303 1477.3L1303.9 1484.4L1304.7 1491.6L1305.6 1498.8L1306.3 1505L1306.3 1204L1306.4 1205.1L1307.3 1212.3L1308.1 1219.6L1309 1226.9L1309.9 1234.2L1310.7 1241.6L1311.6 1248.9L1312.4 1256.3L1313.3 1263.8L1314.1 1271.2L1315 1278.7L1315.8 1286.2L1316.7 1293.7L1317.5 1301.2L1318.4 1308.8L1319.2 1316.4L1320.1 1324L1320.9 1331.6L1321.8 1339.3L1322.6 1347L1323.5 1354.7L1324.3 1362.4L1325.2 1370.1L1326 1377.9L1326.9 1385.7L1327.7 1393.5L1328.6 1401.4L1329.4 1409.2L1330.3 1417.1L1331.2 1425L1332 1433L1332.9 1440.9L1333.7 1448.9L1334.6 1456.9L1335.4 1464.9L1336.3 1473L1337.1 1481L1338 1489.1L1338.8 1497.2L1339.6 1505L1339.6 1204L1339.7 1204.4L1340.5 1212.5L1341.4 1220.7L1342.2 1228.9L1343.1 1237.1L1343.9 1245.4L1344.8 1253.6L1345.6 1261.9L1346.5 1270.2L1347.3 1278.6L1348.2 1286.9L1349 1295.3L1349.9 1303.7L1350.7 1312.1L1351.6 1320.5L1352.5 1329L1353.3 1337.4L1354.2 1345.9L1355 1354.5L1355.9 1363L1356.7 1371.6" fill="none" stroke="#000" stroke-width="4.2" stroke-linejoin="round" stroke-linecap="round"/><g fill="#0000ff"><path d="M858.3 1305.2l7.5 7.5l-7.5 7.5l-7.5 -7.5z"/><path d="M866.5 1234.2l7.5 7.5l-7.5 7.5l-7.5 -7.5z"/><path d="M874.8 1459.9l7.5 7.5l-7.5 7.5l-7.5 -7.5z"/><path d="M883 1384.6l7.5 7.5l-7.5 7.5l-7.5 -7.5z"/><path d="M891.2 1305.2l7.5 7.5l-7.5 7.5l-7.5 -7.5z"/><path d="M899.4 1234.2l7.5 7.5l-7.5 7.5l-7.5 -7.5z"/><path d="M907.7 1459.9l7.5 7.5l-7.5 7.5l-7.5 -7.5z"/><path d="M915.9 1384.6l7.5 7.5l-7.5 7.5l-7.5 -7.5z"/><path d="M924.1 1347l7.5 7.5l-7.5 7.5l-7.5 -7.5z"/><path d="M932.4 1267.6l7.5 7.5l-7.5 7.5l-7.5 -7.5z"/><path d="M940.6 1196.5l7.5 7.5l-7.5 7.5l-7.5 -7.5z"/><path d="M948.8 1459.9l7.5 7.5l-7.5 7.5l-7.5 -7.5z"/><path d="M957.1 1384.6l7.5 7.5l-7.5 7.5l-7.5 -7.5z"/><path d="M965.3 1347l7.5 7.5l-7.5 7.5l-7.5 -7.5z"/><path d="M973.5 1305.2l7.5 7.5l-7.5 7.5l-7.5 -7.5z"/><path d="M981.7 1234.2l7.5 7.5l-7.5 7.5l-7.5 -7.5z"/><path d="M990 1196.5l7.5 7.5l-7.5 7.5l-7.5 -7.5z"/><path d="M998.2 1459.9l7.5 7.5l-7.5 7.5l-7.5 -7.5z"/><path d="M1006.4 1422.3l7.5 7.5l-7.5 7.5l-7.5 -7.5z"/><path d="M1014.7 1384.6l7.5 7.5l-7.5 7.5l-7.5 -7.5z"/><path d="M1022.9 1347l7.5 7.5l-7.5 7.5l-7.5 -7.5z"/><path d="M1031.1 1305.2l7.5 7.5l-7.5 7.5l-7.5 -7.5z"/><path d="M1039.4 1305.2l7.5 7.5l-7.5 7.5l-7.5 -7.5z"/><path d="M1047.6 1267.6l7.5 7.5l-7.5 7.5l-7.5 -7.5z"/><path d="M1055.8 1267.6l7.5 7.5l-7.5 7.5l-7.5 -7.5z"/><path d="M1064 1234.2l7.5 7.5l-7.5 7.5l-7.5 -7.5z"/><path d="M1072.3 1234.2l7.5 7.5l-7.5 7.5l-7.5 -7.5z"/><path d="M1080.5 1196.5l7.5 7.5l-7.5 7.5l-7.5 -7.5z"/><path d="M1088.7 1196.5l7.5 7.5l-7.5 7.5l-7.5 -7.5z"/><path d="M1097 1196.5l7.5 7.5l-7.5 7.5l-7.5 -7.5z"/><path d="M1105.2 1196.5l7.5 7.5l-7.5 7.5l-7.5 -7.5z"/><path d="M1113.4 1196.5l7.5 7.5l-7.5 7.5l-7.5 -7.5z"/><path d="M1121.7 1196.5l7.5 7.5l-7.5 7.5l-7.5 -7.5z"/><path d="M1129.9 1196.5l7.5 7.5l-7.5 7.5l-7.5 -7.5z"/><path d="M1138.1 1234.2l7.5 7.5l-7.5 7.5l-7.5 -7.5z"/><path d="M1146.4 1234.2l7.5 7.5l-7.5 7.5l-7.5 -7.5z"/><path d="M1154.6 1267.6l7.5 7.5l-7.5 7.5l-7.5 -7.5z"/><path d="M1162.8 1267.6l7.5 7.5l-7.5 7.5l-7.5 -7.5z"/><path d="M1171 1305.2l7.5 7.5l-7.5 7.5l-7.5 -7.5z"/><path d="M1179.3 1305.2l7.5 7.5l-7.5 7.5l-7.5 -7.5z"/><path d="M1187.5 1347l7.5 7.5l-7.5 7.5l-7.5 -7.5z"/><path d="M1195.7 1384.6l7.5 7.5l-7.5 7.5l-7.5 -7.5z"/><path d="M1204 1422.3l7.5 7.5l-7.5 7.5l-7.5 -7.5z"/><path d="M1212.2 1459.9l7.5 7.5l-7.5 7.5l-7.5 -7.5z"/><path d="M1220.4 1196.5l7.5 7.5l-7.5 7.5l-7.5 -7.5z"/><path d="M1228.7 1234.2l7.5 7.5l-7.5 7.5l-7.5 -7.5z"/><path d="M1236.9 1305.2l7.5 7.5l-7.5 7.5l-7.5 -7.5z"/><path d="M1245.1 1347l7.5 7.5l-7.5 7.5l-7.5 -7.5z"/><path d="M1253.3 1384.6l7.5 7.5l-7.5 7.5l-7.5 -7.5z"/><path d="M1261.6 1459.9l7.5 7.5l-7.5 7.5l-7.5 -7.5z"/><path d="M1269.8 1196.5l7.5 7.5l-7.5 7.5l-7.5 -7.5z"/><path d="M1278 1267.6l7.5 7.5l-7.5 7.5l-7.5 -7.5z"/><path d="M1286.3 1347l7.5 7.5l-7.5 7.5l-7.5 -7.5z"/><path d="M1294.5 1384.6l7.5 7.5l-7.5 7.5l-7.5 -7.5z"/><path d="M1302.7 1459.9l7.5 7.5l-7.5 7.5l-7.5 -7.5z"/><path d="M1311 1234.2l7.5 7.5l-7.5 7.5l-7.5 -7.5z"/><path d="M1319.2 1305.2l7.5 7.5l-7.5 7.5l-7.5 -7.5z"/><path d="M1327.4 1384.6l7.5 7.5l-7.5 7.5l-7.5 -7.5z"/><path d="M1335.6 1459.9l7.5 7.5l-7.5 7.5l-7.5 -7.5z"/><path d="M1343.9 1234.2l7.5 7.5l-7.5 7.5l-7.5 -7.5z"/><path d="M1352.1 1305.2l7.5 7.5l-7.5 7.5l-7.5 -7.5z"/><path d="M1243.6 1171.2l7.5 7.5l-7.5 7.5l-7.5 -7.5z"/></g><path d="M1224.5 1154.7H1262" stroke="#000" stroke-width="4.4" stroke-linecap="round"/><text x="1269.3" y="1160.8" font-family="'Liberation Sans',sans-serif" font-weight="bold" font-size="17.7" text-anchor="start" fill="#000" textLength="84" lengthAdjust="spacingAndGlyphs">Required</text><text x="1269.3" y="1184.8" font-family="'Liberation Sans',sans-serif" font-weight="bold" font-size="17.7" text-anchor="start" fill="#000" textLength="78" lengthAdjust="spacingAndGlyphs">Realized</text><text x="43.4" y="93.4" font-family="'Liberation Serif',serif" font-size="34.5" letter-spacing="1.1">(a)</text><text x="43.3" y="604.2" font-family="'Liberation Serif',serif" font-size="34.5" letter-spacing="1.1">(b)</text><text x="740.5" y="605" font-family="'Liberation Serif',serif" font-size="34.5" letter-spacing="1.1">(c)</text><text x="47.1" y="1124" font-family="'Liberation Serif',serif" font-size="34.5" letter-spacing="1.1">(d)</text><text x="740.5" y="1124" font-family="'Liberation Serif',serif" font-size="34.5" letter-spacing="1.1">(e)</text></svg></body></html>
